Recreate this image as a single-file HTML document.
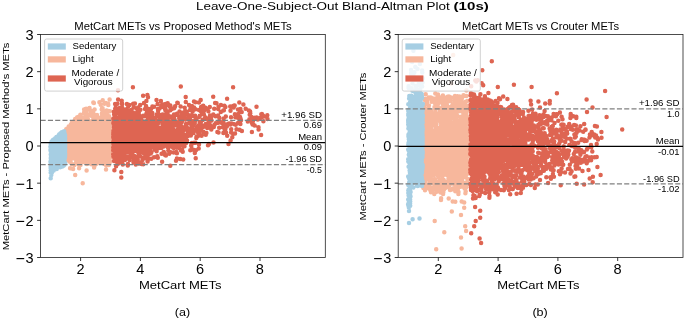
<!DOCTYPE html>
<html><head><meta charset="utf-8"><title>Bland-Altman</title>
<style>html,body{margin:0;padding:0;background:#fff}svg{display:block}</style></head>
<body>
<svg width="685" height="320" viewBox="0 0 685 320" font-family="'Liberation Sans', sans-serif" fill="#000">
<rect width="685" height="320" fill="#fff"/>
<g opacity="0.999">
<text x="195.9" y="10.4" font-size="11.20" textLength="253.9" lengthAdjust="spacingAndGlyphs">Leave-One-Subject-Out Bland-Altman Plot</text>
<text x="453.6" y="10.4" font-size="11.20" textLength="35.2" lengthAdjust="spacingAndGlyphs" font-weight="bold">(10s)</text>
<clipPath id="c0"><rect x="40.6" y="34.5" width="284.7" height="223.0"/></clipPath>
<g clip-path="url(#c0)">
<path d="M100.7 146.0h0M87.2 136.0h0M93.2 143.5h0M94.5 141.2h0M66.5 142.6h0M76.7 146.5h0M110.4 153.8h0M80.5 164.9h0M108.1 138.2h0M87.7 128.4h0M75.6 149.3h0M65.8 135.1h0M75.4 144.1h0M80.1 137.4h0M85.4 115.5h0M85.7 118.9h0M90.2 141.3h0M86.9 164.1h0M67.1 138.1h0M77.6 131.6h0M108.8 165.1h0M66.9 133.7h0M98.6 140.6h0M87.0 138.2h0M97.4 136.6h0M80.6 144.4h0M82.3 151.1h0M88.8 144.7h0M106.4 144.6h0M80.4 118.0h0M67.4 145.2h0M105.2 144.4h0M79.7 137.0h0M71.0 134.6h0M92.4 147.3h0M103.5 150.4h0M92.5 120.8h0M83.8 156.0h0M77.6 158.1h0M66.4 148.6h0M109.0 111.4h0M86.2 134.8h0M71.7 143.8h0M105.3 156.6h0M109.8 138.1h0M102.2 134.3h0M77.0 140.4h0M74.2 145.3h0M89.2 134.5h0M91.8 140.9h0M105.0 151.7h0M109.0 139.4h0M106.5 153.4h0M81.0 130.6h0M91.9 135.6h0M71.2 150.4h0M88.9 138.2h0M68.8 127.7h0M70.6 162.0h0M71.1 141.8h0M79.2 123.7h0M79.5 156.1h0M97.3 142.1h0M69.1 154.8h0M70.6 141.1h0M95.1 164.7h0M95.8 156.8h0M97.5 145.8h0M97.9 139.0h0M95.4 136.5h0M90.4 136.1h0M98.9 129.1h0M69.3 133.3h0M75.1 132.9h0M98.9 150.3h0M74.3 142.0h0M89.5 108.0h0M77.3 117.3h0M85.0 131.9h0M103.1 132.8h0M95.3 130.3h0M85.6 144.5h0M77.9 120.4h0M101.8 144.2h0M95.1 141.2h0M104.6 111.3h0M96.7 136.7h0M109.6 157.9h0M95.4 147.0h0M106.0 141.3h0M90.3 144.0h0M97.5 138.6h0M103.4 148.2h0M69.7 141.4h0M86.9 152.5h0M68.2 154.6h0M101.0 134.3h0M97.7 153.6h0M107.6 133.3h0M82.3 144.6h0M86.7 143.5h0M106.5 128.3h0M84.1 109.5h0M103.1 159.8h0M84.6 135.2h0M78.1 137.6h0M75.2 144.5h0M85.0 154.7h0M72.9 139.6h0M102.8 143.5h0M109.4 119.8h0M70.0 144.9h0M107.5 146.6h0M69.0 148.8h0M96.2 126.8h0M79.3 141.8h0M74.5 138.7h0M76.7 143.0h0M96.6 152.8h0M66.5 144.2h0M104.4 150.3h0M91.1 156.2h0M76.2 143.4h0M75.0 122.0h0M95.0 123.7h0M93.9 141.0h0M79.9 131.5h0M80.6 135.1h0M86.4 126.3h0M106.5 137.1h0M89.8 145.3h0M103.3 144.4h0M94.4 128.6h0M90.9 113.4h0M87.6 146.8h0M96.2 161.6h0M87.7 132.0h0M98.2 141.2h0M73.8 138.9h0M80.1 127.6h0M104.8 139.7h0M83.4 154.1h0M103.5 160.7h0M107.7 140.9h0M91.6 152.4h0M70.2 137.4h0M99.6 153.6h0M95.5 144.0h0M78.7 155.6h0M104.4 144.1h0M87.3 145.0h0M68.2 134.2h0M68.7 126.4h0M75.9 142.3h0M93.0 149.3h0M102.2 120.1h0M70.1 136.6h0M66.7 134.0h0M93.6 134.0h0M84.0 125.3h0M85.5 129.9h0M102.5 133.3h0M106.9 132.4h0M109.0 130.9h0M100.6 146.6h0M65.8 141.4h0M72.4 139.4h0M92.0 140.1h0M108.5 137.1h0M69.3 140.1h0M88.7 144.8h0M83.4 157.2h0M83.9 131.6h0M77.7 134.2h0M77.8 149.4h0M76.3 135.2h0M70.3 136.2h0M90.5 139.6h0M85.7 159.4h0M97.6 152.8h0M94.4 146.6h0M108.4 123.6h0M80.9 149.2h0M105.2 143.9h0M82.9 151.9h0M95.3 145.4h0M101.8 136.8h0M83.4 161.9h0M94.0 133.4h0M70.6 140.0h0M89.5 146.6h0M69.9 130.3h0M75.7 130.2h0M93.6 162.1h0M109.3 142.1h0M110.5 128.8h0M77.3 147.3h0M72.2 143.6h0M88.9 130.4h0M85.4 143.1h0M82.7 152.8h0M100.1 147.5h0M97.5 154.1h0M90.8 134.6h0M93.5 158.2h0M91.7 129.9h0M96.0 157.4h0M107.3 139.9h0M108.1 155.6h0M109.6 143.6h0M104.2 129.7h0M70.3 128.7h0M85.9 126.8h0M100.7 141.3h0M78.9 139.2h0M92.9 137.9h0M68.1 129.1h0M74.8 144.5h0M83.6 128.9h0M68.8 136.9h0M84.7 128.4h0M76.0 135.4h0M104.3 133.3h0M79.9 147.9h0M82.7 144.7h0M101.6 153.8h0M90.8 143.4h0M67.9 142.2h0M75.4 131.6h0M93.0 153.4h0M74.6 132.3h0M76.8 141.6h0M93.6 127.2h0M87.8 129.5h0M90.7 110.7h0M94.1 125.0h0M77.9 132.3h0M79.5 149.9h0M105.1 119.0h0M68.0 138.0h0M81.2 159.7h0M74.4 138.3h0M96.8 147.1h0M102.0 148.1h0M68.2 133.0h0M104.4 103.8h0M96.9 136.8h0M75.4 134.6h0M106.7 140.9h0M78.8 147.9h0M101.0 137.7h0M86.1 138.4h0M88.3 131.1h0M105.9 142.7h0M103.2 114.1h0M90.2 157.5h0M68.0 134.3h0M84.9 134.7h0M82.5 137.6h0M110.3 152.0h0M96.2 152.2h0M83.8 142.8h0M82.0 139.3h0M100.1 153.0h0M69.9 151.5h0M102.3 134.6h0M95.7 129.6h0M85.2 146.2h0M97.5 147.7h0M83.5 148.0h0M72.1 139.5h0M84.3 135.3h0M68.0 141.1h0M69.6 129.9h0M85.3 116.5h0M102.7 117.3h0M74.8 155.3h0M88.1 141.3h0M109.6 144.6h0M102.8 144.0h0M106.1 153.1h0M95.9 144.5h0M92.1 151.7h0M91.7 136.9h0M92.6 121.3h0M86.5 155.2h0M81.8 158.2h0M76.4 145.5h0M68.6 133.7h0M82.2 135.3h0M100.2 141.1h0M73.0 145.6h0M102.2 148.2h0M67.5 144.0h0M107.4 153.2h0M94.9 145.0h0M90.6 147.4h0M84.2 112.1h0M102.7 133.1h0M66.0 142.5h0M66.4 141.0h0M89.0 141.7h0M79.0 138.5h0M83.7 144.7h0M89.7 140.7h0M67.6 129.8h0M109.7 131.8h0M96.0 137.2h0M70.1 126.6h0M98.8 138.1h0M89.6 150.7h0M96.5 158.7h0M98.7 147.7h0M110.1 141.1h0M71.0 136.3h0M110.3 129.2h0M87.0 132.6h0M74.7 120.4h0M82.4 132.4h0M82.0 128.2h0M105.8 145.5h0M89.2 136.9h0M97.7 137.1h0M88.0 141.0h0M102.2 162.2h0M104.4 133.7h0M105.7 139.2h0M66.0 145.3h0M87.0 153.5h0M71.1 141.5h0M89.4 141.6h0M69.7 129.0h0M105.4 153.1h0M73.9 125.4h0M95.6 140.1h0M95.0 128.1h0M80.0 150.6h0M75.3 136.9h0M106.7 127.7h0M67.4 139.3h0M77.0 155.8h0M80.3 143.9h0M91.9 134.9h0M82.2 155.1h0M70.6 155.5h0M91.2 138.0h0M98.1 126.6h0M97.3 136.4h0M87.6 152.7h0M79.4 159.6h0M66.1 148.6h0M89.5 124.9h0M93.8 149.5h0M85.4 140.5h0M108.7 137.9h0M74.7 150.4h0M102.2 129.1h0M97.9 138.6h0M106.0 135.8h0M107.1 158.0h0M76.3 158.7h0M83.7 142.4h0M96.1 142.8h0M108.4 132.9h0M92.4 125.0h0M91.8 143.1h0M68.8 143.3h0M92.4 135.8h0M76.5 124.5h0M83.1 149.0h0M82.6 133.9h0M109.3 143.0h0M94.3 143.9h0M98.2 131.9h0M73.4 148.7h0M79.3 151.6h0M105.0 133.5h0M71.0 140.7h0M108.4 143.2h0M84.8 141.8h0M83.1 135.3h0M88.7 144.3h0M85.5 132.5h0M86.8 136.1h0M84.7 125.0h0M97.1 127.2h0M78.0 131.5h0M73.1 142.5h0M85.1 139.2h0M69.6 146.6h0M85.7 110.7h0M87.8 142.7h0M100.8 134.6h0M70.5 126.3h0M83.4 154.6h0M100.7 104.8h0M80.8 144.5h0M103.2 150.8h0M97.9 153.6h0M67.5 145.8h0M82.9 126.9h0M100.0 132.9h0M89.3 140.0h0M95.8 140.1h0M110.1 157.7h0M95.9 121.8h0M90.1 136.0h0M103.6 151.7h0M84.9 138.2h0M66.1 142.4h0M77.9 145.8h0M92.3 150.7h0M108.2 147.4h0M92.9 150.2h0M78.4 135.6h0M110.2 136.6h0M83.6 137.0h0M75.9 142.3h0M90.4 144.6h0M81.1 119.1h0M70.7 159.8h0M97.6 127.9h0M96.7 136.7h0M109.3 139.7h0M71.8 145.7h0M106.5 142.6h0M101.4 152.7h0M77.0 154.8h0M87.1 141.5h0M93.9 157.6h0M79.8 131.6h0M70.5 128.8h0M73.0 156.5h0M87.7 137.5h0M85.3 138.2h0M106.2 139.2h0M90.7 136.0h0M84.7 132.6h0M109.5 131.3h0M81.5 121.7h0M98.2 140.1h0M76.1 131.4h0M99.6 157.2h0M99.3 141.7h0M102.8 111.1h0M87.4 125.8h0M94.0 134.7h0M106.5 153.9h0M79.5 141.5h0M66.6 140.0h0M73.9 138.3h0M107.5 129.0h0M65.9 130.4h0M70.1 126.1h0M105.6 145.5h0M82.8 146.1h0M96.7 126.3h0M97.3 143.1h0M85.1 154.6h0M98.5 154.1h0M86.3 139.7h0M90.0 130.9h0M79.4 124.7h0M65.7 142.1h0M92.3 145.2h0M77.6 123.4h0M78.0 145.1h0M105.1 125.1h0M81.9 137.9h0M70.2 137.8h0M93.9 103.1h0M89.8 137.2h0M68.2 145.1h0M81.3 147.4h0M93.1 141.7h0M78.2 147.1h0M109.9 111.3h0M101.5 139.4h0M88.3 143.0h0M106.7 142.4h0M67.2 142.7h0M75.7 122.2h0M106.7 110.4h0M88.5 146.5h0M73.3 143.4h0M91.2 133.4h0M98.4 142.4h0M92.7 141.9h0M67.7 143.0h0M67.3 138.6h0M83.9 136.2h0M66.4 135.7h0M69.4 157.3h0M94.5 151.4h0M69.5 132.0h0M105.0 128.8h0M82.2 126.8h0M105.3 138.8h0M93.0 130.5h0M93.5 140.7h0M84.7 113.1h0M95.8 156.3h0M76.6 148.4h0M77.2 146.5h0M74.8 123.1h0M83.0 145.2h0M99.1 148.6h0M80.5 137.4h0M82.1 148.3h0M106.4 158.2h0M74.9 148.1h0M105.4 143.6h0M78.0 141.8h0M80.5 120.6h0M105.2 142.1h0M80.1 135.3h0M110.4 150.0h0M102.5 131.1h0M103.6 157.7h0M75.8 139.7h0M75.4 136.3h0M99.4 148.6h0M102.7 156.9h0M74.9 147.3h0M76.6 132.2h0M71.8 132.4h0M84.5 140.4h0M88.2 140.4h0M93.8 130.1h0M68.1 136.4h0M74.3 150.0h0M77.8 134.6h0M74.0 138.2h0M107.6 138.4h0M82.4 141.9h0M71.9 141.6h0M95.5 150.0h0M109.3 155.2h0M101.3 128.7h0M94.7 146.9h0M82.6 138.0h0M83.7 155.9h0M79.2 138.7h0M101.8 148.9h0M101.7 109.6h0M87.6 150.9h0M104.3 150.3h0M94.9 130.6h0M96.4 128.6h0M77.7 162.2h0M76.5 137.7h0M75.9 131.2h0M106.6 153.0h0M101.5 135.7h0M106.0 145.8h0M102.5 150.7h0M101.8 144.0h0M85.2 145.1h0M100.0 154.7h0M95.1 145.1h0M109.0 131.5h0M105.1 141.1h0M73.0 126.6h0M100.1 143.1h0M102.6 108.3h0M67.5 139.4h0M91.0 138.6h0M84.5 142.5h0M93.4 113.2h0M105.4 123.0h0M98.1 117.7h0M75.1 146.0h0M90.5 143.9h0M90.8 134.5h0M71.6 134.6h0M81.8 119.2h0M73.6 137.7h0M76.3 142.2h0M96.0 143.3h0M108.8 138.7h0M86.2 160.7h0M94.6 137.5h0M99.8 138.9h0M95.8 155.1h0M95.1 141.3h0M104.7 144.4h0M72.9 134.2h0M73.7 142.7h0M88.5 148.7h0M92.0 149.9h0M99.5 144.5h0M78.8 126.9h0M108.0 131.9h0M93.8 134.9h0M103.5 130.1h0M87.0 110.0h0M68.8 147.5h0M66.2 135.9h0M94.4 149.8h0M84.8 156.5h0M85.4 127.0h0M80.3 159.2h0M73.6 134.8h0M86.9 156.1h0M77.1 140.6h0M105.7 142.4h0M73.7 144.9h0M109.1 162.9h0M104.2 141.5h0M82.9 140.7h0M100.3 149.6h0M91.7 141.0h0M86.5 139.0h0M102.1 147.7h0M102.9 137.7h0M74.7 152.2h0M106.3 136.4h0M67.1 133.8h0M87.3 131.0h0M79.2 135.9h0M84.6 125.8h0M87.1 150.5h0M86.7 129.3h0M106.4 145.9h0M106.8 146.7h0M81.2 129.1h0M78.5 137.9h0M95.0 126.7h0M74.5 155.2h0M83.6 137.5h0M97.9 145.7h0M65.9 143.1h0M100.3 159.9h0M98.6 130.7h0M83.0 138.1h0M76.8 150.4h0M89.9 154.1h0M78.9 149.2h0M102.5 125.9h0M92.1 141.3h0M79.4 143.7h0M101.9 113.4h0M92.9 140.1h0M71.6 137.9h0M84.2 132.6h0M87.6 136.8h0M108.0 131.2h0M80.0 152.4h0M85.8 139.6h0M109.5 143.8h0M84.8 139.1h0M102.7 140.6h0M70.0 146.7h0M83.3 143.8h0M73.9 130.5h0M105.3 145.8h0M90.4 152.9h0M75.5 134.1h0M69.8 130.2h0M84.5 142.9h0M70.0 138.8h0M87.4 148.7h0M98.3 142.2h0M79.6 128.8h0M73.2 131.9h0M81.9 138.6h0M73.1 142.9h0M103.5 156.7h0M70.0 136.9h0M98.9 135.4h0M80.6 129.3h0M98.3 119.5h0M100.2 136.2h0M71.7 130.3h0M99.6 151.5h0M108.1 127.8h0M91.1 131.2h0M94.6 126.2h0M80.1 133.2h0M73.5 135.4h0M99.0 125.0h0M102.4 146.8h0M74.9 133.5h0M70.7 129.0h0M81.4 148.0h0M93.7 151.8h0M82.0 135.6h0M108.9 138.8h0M101.1 133.8h0M106.7 118.4h0M92.5 121.9h0M99.5 136.6h0M108.3 128.5h0M67.2 143.6h0M91.4 142.9h0M74.0 151.4h0M101.3 131.7h0M76.1 120.1h0M98.9 153.8h0M80.6 132.2h0M94.9 130.8h0M96.1 145.6h0M106.4 114.5h0M104.8 150.5h0M85.3 147.9h0M96.6 138.2h0M73.8 133.3h0M70.0 138.7h0M97.7 131.2h0M106.3 137.8h0M99.1 151.8h0M88.8 125.2h0M93.9 127.9h0M98.4 147.1h0M91.2 121.9h0M81.9 135.1h0M103.8 138.5h0M82.2 120.4h0M106.2 165.2h0M101.5 156.1h0M101.2 132.6h0M103.0 117.5h0M109.9 149.4h0M110.0 124.5h0M88.1 124.4h0M82.6 152.8h0M98.5 146.5h0M109.1 131.2h0M93.9 128.3h0M66.8 160.1h0M67.4 137.3h0M86.5 143.7h0M101.0 157.5h0M105.5 141.5h0M82.5 156.0h0M88.8 145.2h0M88.7 123.4h0M69.9 134.6h0M65.7 131.8h0M89.1 133.7h0M88.3 128.3h0M104.4 129.9h0M73.8 151.6h0M103.9 143.4h0M77.8 131.1h0M89.8 121.6h0M97.4 144.2h0M72.2 127.5h0M108.1 124.1h0M108.6 145.9h0M109.2 148.0h0M65.8 133.8h0M94.5 136.9h0M95.7 146.5h0M105.1 133.6h0M71.2 138.8h0M102.0 109.8h0M77.4 125.9h0M68.6 131.4h0M69.8 129.3h0M94.6 109.6h0M89.7 128.5h0M99.2 146.9h0M101.8 136.4h0M65.8 138.9h0M107.5 145.4h0M105.1 137.0h0M107.5 137.1h0M100.1 140.2h0M82.9 144.6h0M76.8 131.2h0M106.6 155.8h0M84.5 131.2h0M87.5 139.5h0M97.0 136.8h0M96.5 163.8h0M96.8 122.5h0M93.6 157.2h0M88.5 148.4h0M100.1 123.5h0M83.4 145.8h0M77.4 143.8h0M106.4 162.3h0M103.6 144.1h0M97.9 137.5h0M73.2 132.7h0M67.7 142.5h0M107.0 137.4h0M107.9 135.1h0M77.9 146.5h0M93.9 147.2h0M83.3 148.3h0M97.2 127.0h0M81.8 138.9h0M101.8 124.6h0M106.6 146.1h0M71.8 134.3h0M96.5 131.7h0M82.5 141.9h0M73.5 136.4h0M81.3 147.4h0M87.3 140.4h0M105.8 143.7h0M100.0 131.8h0M65.9 140.5h0M110.2 143.4h0M90.6 131.1h0M93.0 148.8h0M81.5 138.1h0M102.9 135.5h0M90.6 131.0h0M92.2 147.4h0M76.8 143.6h0M100.5 129.3h0M75.3 154.2h0M71.8 135.8h0M92.4 138.7h0M103.0 144.7h0M78.8 138.7h0M79.2 150.6h0M72.3 137.3h0M92.7 152.0h0M100.2 152.6h0M71.3 125.3h0M89.7 146.7h0M89.9 161.2h0M70.4 129.6h0M89.4 121.5h0M109.9 130.1h0M69.7 136.0h0M81.1 122.0h0M93.4 140.9h0M83.8 133.5h0M66.5 149.9h0M104.5 137.9h0M76.4 123.9h0M84.1 134.4h0M106.4 137.9h0M109.1 159.8h0M106.7 143.4h0M84.1 152.8h0M99.0 131.6h0M103.7 147.1h0M74.5 135.9h0M109.1 149.8h0M95.1 151.6h0M76.4 138.2h0M71.8 137.4h0M107.9 148.5h0M71.4 126.2h0M106.6 129.4h0M73.1 130.6h0M75.1 137.3h0M110.0 161.4h0M104.3 138.8h0M79.1 118.1h0M108.4 132.7h0M99.3 134.6h0M77.5 151.7h0M88.5 122.9h0M72.9 142.0h0M83.9 157.6h0M66.8 147.1h0M96.2 123.8h0M92.3 126.7h0M77.8 133.9h0M66.2 148.7h0M107.8 129.9h0M80.3 131.2h0M82.8 147.5h0M83.7 129.1h0M89.6 129.9h0M80.2 154.9h0M76.9 156.3h0M100.9 146.9h0M78.2 138.7h0M80.5 134.9h0M87.7 141.8h0M77.9 140.2h0M98.2 140.7h0M69.4 138.6h0M80.1 133.5h0M84.5 134.4h0M77.2 140.1h0M103.3 136.8h0M81.5 144.2h0M84.5 131.3h0M86.7 144.7h0M102.9 122.6h0M75.5 139.8h0M102.8 136.7h0M108.2 147.3h0M77.6 143.1h0M73.2 137.8h0M101.0 139.3h0M79.7 145.9h0M75.8 151.5h0M69.2 139.1h0M93.2 137.9h0M107.7 133.8h0M105.2 126.6h0M92.1 142.7h0M85.3 160.1h0M109.4 141.0h0M95.3 158.6h0M108.5 152.8h0M96.5 128.8h0M96.9 133.6h0M97.1 146.2h0M71.3 146.1h0M77.0 140.4h0M68.6 157.6h0M107.5 134.5h0M110.3 143.1h0M92.8 126.7h0M72.6 150.4h0M71.2 129.1h0M85.7 146.5h0M83.2 128.9h0M74.4 149.6h0M69.7 131.9h0M94.7 144.0h0M101.2 148.0h0M68.5 141.0h0M79.5 134.5h0M79.1 135.3h0M90.0 123.1h0M92.8 131.0h0M104.5 143.6h0M83.2 160.1h0M79.3 143.4h0M100.0 133.0h0M103.4 112.6h0M105.0 151.7h0M73.2 138.0h0M74.5 142.5h0M86.4 123.1h0M109.0 136.1h0M93.5 133.9h0M93.6 121.3h0M80.3 144.7h0M110.1 139.5h0M73.8 149.7h0M90.7 136.8h0M95.9 128.7h0M102.0 125.3h0M102.1 139.8h0M83.0 146.8h0M77.8 147.4h0M109.6 153.9h0M90.4 138.2h0M78.3 125.3h0M71.9 164.0h0M101.7 162.0h0M103.7 124.9h0M91.2 115.7h0M82.9 136.0h0M95.2 152.5h0M109.6 131.3h0M91.6 131.3h0M101.0 137.7h0M105.2 130.8h0M99.6 138.9h0M87.5 133.6h0M96.9 128.0h0M102.9 146.2h0M108.8 147.7h0M72.5 141.9h0M70.7 141.8h0M94.2 138.6h0M102.7 145.7h0M93.2 139.0h0M77.6 125.2h0M110.5 139.3h0M81.9 133.0h0M69.3 151.8h0M100.8 122.9h0M79.1 135.7h0M84.4 120.0h0M71.5 133.0h0M80.5 128.1h0M71.6 131.7h0M77.2 133.9h0M91.6 141.2h0M79.1 156.4h0M95.6 137.1h0M106.1 142.6h0M91.5 142.6h0M108.7 158.6h0M74.5 138.7h0M81.2 126.7h0M89.3 129.3h0M93.4 126.4h0M81.0 152.5h0M85.4 149.3h0M93.8 132.8h0M86.2 142.3h0M78.4 121.5h0M84.1 136.9h0M82.9 137.2h0M78.7 122.9h0M92.6 142.1h0M88.6 138.0h0M84.1 146.2h0M97.5 139.6h0M102.1 144.2h0M94.8 136.5h0M81.0 153.9h0M107.7 154.7h0M70.3 134.4h0M101.8 136.8h0M84.5 149.2h0M83.4 141.5h0M103.5 150.1h0M95.0 117.9h0M109.3 155.4h0M105.0 121.3h0M70.9 147.7h0M88.2 134.8h0M100.1 141.9h0M69.4 143.1h0M90.0 129.4h0M110.2 130.7h0M76.4 142.2h0M70.9 148.6h0M78.6 117.6h0M81.1 124.5h0M78.5 137.7h0M85.0 142.2h0M103.0 136.1h0M88.9 138.3h0M92.1 126.7h0M70.5 149.2h0M68.6 138.9h0M108.3 120.0h0M81.2 125.5h0M108.1 120.4h0M80.7 140.1h0M94.3 133.5h0M95.3 124.5h0M69.7 142.2h0M68.8 148.8h0M85.5 128.3h0M78.9 141.3h0M74.4 123.9h0M79.7 136.7h0M86.1 157.6h0M79.6 135.5h0M80.7 139.7h0M87.4 119.5h0M96.3 139.3h0M67.5 141.3h0M110.4 134.6h0M85.0 136.6h0M107.0 153.8h0M66.0 137.9h0M68.2 142.5h0M106.6 114.1h0M84.1 117.1h0M103.6 149.1h0M96.8 147.9h0M69.6 145.9h0M81.9 146.3h0M80.5 138.5h0M86.0 127.8h0M99.5 152.6h0M69.4 155.1h0M107.2 119.9h0M87.0 127.6h0M82.1 125.3h0M96.9 155.1h0M78.1 156.1h0M97.6 137.7h0M84.3 127.7h0M87.1 114.1h0M74.1 137.1h0M74.8 132.0h0M104.3 135.7h0M91.5 144.8h0M84.6 119.2h0M100.4 139.1h0M106.6 150.6h0M72.8 143.9h0M110.4 155.1h0M66.3 138.9h0M93.2 127.7h0M77.5 152.2h0M77.0 127.3h0M87.8 122.3h0M92.7 135.1h0M85.2 151.1h0M97.7 148.0h0M108.3 142.6h0M73.2 152.4h0M93.0 141.8h0M84.1 140.9h0M79.8 132.8h0M88.3 151.6h0M96.9 119.6h0M106.4 128.0h0M107.8 129.8h0M102.4 145.8h0M81.2 121.0h0M105.3 142.6h0M97.5 120.2h0M73.5 127.9h0M108.4 148.4h0M76.7 143.8h0M96.2 119.6h0M96.8 128.6h0M106.4 140.7h0M95.5 136.9h0M109.7 137.0h0M68.3 147.1h0M67.3 141.1h0M74.4 145.9h0M91.5 143.5h0M84.7 134.2h0M69.4 149.0h0M91.6 137.9h0M83.7 131.1h0M99.9 129.8h0M86.6 126.1h0M105.0 132.5h0M99.7 131.7h0M87.8 140.9h0M81.7 133.1h0M75.2 148.4h0M78.7 141.6h0M81.6 131.3h0M81.9 139.6h0M73.7 134.4h0M86.9 150.1h0M70.7 124.8h0M104.6 145.1h0M90.3 134.9h0M69.9 139.3h0M80.4 129.3h0M77.1 143.1h0M87.2 158.9h0M73.9 142.3h0M72.5 151.5h0M97.1 133.5h0M84.9 124.0h0M95.8 162.3h0M86.7 152.5h0M88.3 135.8h0M79.6 126.2h0M84.8 135.9h0M87.2 135.7h0M81.0 133.8h0M102.7 133.1h0M76.7 121.9h0M75.5 132.7h0M81.1 152.0h0M100.9 144.0h0M103.7 136.9h0M91.0 137.3h0M81.8 141.8h0M94.7 144.6h0M102.7 127.0h0M76.5 131.8h0M95.6 143.1h0M97.5 150.5h0M83.2 146.5h0M72.1 138.7h0M92.9 117.0h0M75.1 136.4h0M82.2 123.6h0M90.1 133.9h0M108.8 161.5h0M72.2 135.1h0M69.0 148.0h0M89.8 153.2h0M107.9 150.3h0M94.4 155.6h0M66.9 138.5h0M90.4 127.0h0M71.0 132.1h0M95.2 157.0h0M81.8 140.2h0M95.0 144.5h0M77.2 141.1h0M69.0 131.2h0M73.8 145.1h0M77.9 142.4h0M73.0 123.8h0M74.5 158.4h0M90.1 143.0h0M85.3 134.2h0M102.7 100.3h0M88.0 145.7h0M89.8 152.9h0M97.5 137.5h0M103.9 145.6h0M91.9 130.9h0M67.3 128.4h0M86.2 138.6h0M67.1 143.1h0M92.8 136.4h0M68.6 138.5h0M89.9 151.9h0M72.4 127.9h0M104.0 136.7h0M69.9 130.8h0M95.2 153.4h0M97.2 129.9h0M78.0 117.0h0M92.2 132.7h0M80.4 154.3h0M77.3 138.7h0M77.3 139.7h0M66.4 136.8h0M95.8 141.6h0M74.5 144.0h0M69.5 136.7h0M101.7 146.4h0M89.4 138.1h0M86.6 128.7h0M91.8 144.3h0M101.9 132.1h0M93.6 148.4h0M88.7 143.0h0M79.7 141.6h0M88.8 126.1h0M109.9 147.2h0M91.2 126.4h0M87.1 154.5h0M105.5 140.8h0M68.1 129.6h0M101.1 149.8h0M107.9 152.0h0M67.9 129.9h0M66.1 147.4h0M91.5 144.6h0M71.8 131.5h0M90.8 114.8h0M95.4 122.9h0M66.3 133.1h0M104.7 153.6h0M77.0 135.8h0M90.5 138.6h0M81.5 140.2h0M81.0 125.1h0M83.7 157.3h0M65.8 135.8h0M84.9 137.9h0M77.5 147.1h0M81.7 121.0h0M73.0 152.5h0M80.7 138.9h0M97.0 115.0h0M109.8 162.3h0M74.5 154.2h0M104.5 149.4h0M93.2 130.9h0M70.2 129.2h0M66.3 132.9h0M105.3 136.7h0M76.1 162.4h0M70.4 136.9h0M95.1 144.6h0M97.3 128.0h0M105.8 125.0h0M88.1 115.7h0M79.6 131.7h0M79.9 130.6h0M74.8 150.1h0M94.1 138.4h0M107.9 138.7h0M69.4 129.8h0M83.0 151.8h0M81.4 141.5h0M69.2 147.9h0M92.3 144.2h0M109.7 134.4h0M78.1 145.2h0M98.3 136.9h0M106.0 149.8h0M77.8 124.5h0M106.9 146.0h0M99.2 128.6h0M94.6 116.7h0M74.4 165.0h0M78.1 149.7h0M105.8 103.0h0M101.9 108.8h0M69.5 135.3h0M89.5 147.0h0M75.2 133.3h0M100.0 152.1h0M91.4 130.4h0M98.3 159.3h0M82.4 137.5h0M91.5 148.8h0M106.5 116.0h0M82.3 128.2h0M74.1 127.3h0M78.4 143.8h0M76.8 132.7h0M72.6 133.9h0M81.1 156.8h0M76.8 133.0h0M88.5 141.3h0M105.8 125.7h0M108.5 125.5h0M72.8 146.1h0M91.2 145.7h0M95.9 137.3h0M72.5 132.4h0M89.5 143.7h0M74.6 140.5h0M82.0 132.8h0M80.2 134.8h0M102.2 127.0h0M76.1 136.8h0M89.9 148.7h0M91.9 158.1h0M80.4 130.7h0M107.3 142.9h0M80.5 143.0h0M80.3 142.4h0M96.7 156.0h0M87.5 143.5h0M72.5 143.6h0M72.3 148.9h0M98.7 119.8h0M83.1 134.6h0M104.1 141.6h0M76.1 137.6h0M76.4 131.6h0M104.4 147.4h0M81.9 141.8h0M70.6 143.1h0M100.2 138.6h0M77.6 160.3h0M90.6 130.9h0M103.1 111.8h0M93.0 149.6h0M99.4 102.2h0M109.5 140.0h0M79.1 128.7h0M104.9 145.4h0M90.4 142.3h0M74.7 152.5h0M71.6 150.7h0M80.4 162.3h0M71.8 127.2h0M100.3 151.7h0M90.7 135.4h0M67.6 135.9h0M105.0 146.3h0M92.4 138.9h0M85.5 140.4h0M72.0 144.7h0M86.7 138.9h0M106.8 138.9h0M91.9 150.3h0M86.2 153.3h0M92.9 148.5h0M90.3 138.1h0M93.6 124.6h0M74.6 123.7h0M72.3 136.0h0M66.2 129.3h0M103.0 138.1h0M77.1 138.1h0M91.9 135.2h0M88.1 142.5h0M106.1 139.5h0M75.2 119.1h0M70.8 152.3h0M72.8 139.4h0M88.0 145.8h0M78.7 129.1h0M86.1 108.8h0M96.5 142.8h0M95.5 132.8h0M66.5 132.8h0M90.1 157.6h0M106.3 142.1h0M107.5 140.2h0M91.3 164.3h0M109.7 132.2h0M76.2 134.7h0M79.0 136.9h0M85.7 150.9h0M88.5 147.1h0M102.4 146.3h0M85.7 134.3h0M67.8 150.1h0M97.0 123.7h0M75.6 135.4h0M105.2 163.0h0M75.2 121.3h0M78.9 137.8h0M71.8 145.4h0M79.2 138.4h0M92.6 159.2h0M77.6 137.5h0M91.9 150.6h0M98.6 124.9h0M70.5 125.9h0M84.7 143.2h0M68.7 150.0h0M66.4 129.5h0M82.4 140.1h0M78.5 137.3h0M104.9 132.8h0M66.3 151.2h0M94.6 131.0h0M98.6 162.4h0M84.4 123.7h0M88.1 119.7h0M76.7 146.4h0M77.0 146.8h0M68.0 131.7h0M106.3 131.5h0M71.8 133.7h0M98.1 134.5h0M86.2 140.4h0M88.6 160.3h0M78.9 164.6h0M72.9 164.5h0M101.5 140.1h0M71.2 142.1h0M78.9 141.1h0M99.4 137.2h0M79.0 142.2h0M108.3 105.1h0M73.5 155.9h0M89.3 160.2h0M89.8 126.5h0M88.1 129.8h0M100.4 154.3h0M67.7 142.6h0M90.1 134.9h0M101.1 122.4h0M90.2 137.8h0M85.4 127.1h0M83.8 158.6h0M89.8 147.7h0M93.7 140.1h0M97.2 147.5h0M105.9 116.7h0M95.1 130.3h0M110.5 137.6h0M95.5 150.1h0M77.7 130.3h0M72.3 132.8h0M68.8 145.3h0M77.7 144.4h0M71.0 155.6h0M96.3 140.6h0M96.6 130.3h0M93.1 128.8h0M82.8 133.4h0M86.5 125.6h0M77.3 146.1h0M106.9 144.8h0M80.0 134.8h0M91.3 148.4h0M73.8 134.3h0M104.0 130.7h0M82.3 138.6h0M68.5 145.4h0M78.3 135.4h0M92.1 121.4h0M78.3 138.2h0M67.7 147.0h0M91.6 136.1h0M79.3 153.2h0M103.6 137.3h0M96.7 143.0h0M98.0 129.4h0M105.6 125.4h0M102.0 128.4h0M80.4 114.8h0M91.2 142.1h0M77.3 148.8h0M74.7 120.2h0M74.9 140.7h0M70.6 138.3h0M76.4 146.3h0M75.7 133.8h0M95.8 139.0h0M76.9 163.2h0M67.7 142.4h0M84.6 136.2h0M74.7 127.0h0M96.6 146.1h0M75.6 148.5h0M90.6 127.4h0M73.5 146.4h0M87.3 138.7h0M104.5 134.7h0M79.3 131.8h0M89.3 139.7h0M85.3 151.9h0M68.8 128.9h0M66.6 144.5h0M103.4 145.5h0M80.9 118.1h0M96.4 130.3h0M84.2 151.3h0M103.2 145.0h0M74.4 142.5h0M87.3 147.9h0M90.2 160.6h0M101.2 131.2h0M67.0 131.4h0M81.9 137.2h0M87.0 144.2h0M92.1 137.5h0M72.0 132.9h0M90.0 151.1h0M96.8 143.4h0M98.5 145.9h0M75.7 132.3h0M85.4 137.0h0M79.0 153.9h0M83.0 119.1h0M81.9 120.8h0M108.0 150.3h0M66.3 138.2h0M108.2 146.7h0M69.1 140.6h0M74.9 144.6h0M78.5 152.6h0M104.1 142.5h0M103.4 130.9h0M107.6 132.6h0M83.1 154.2h0M93.7 142.5h0M106.0 151.2h0M70.5 138.5h0M102.8 146.6h0M98.5 146.7h0M87.8 140.9h0M106.4 145.3h0M104.9 158.3h0M67.7 134.3h0M88.0 145.5h0M76.5 127.0h0M85.4 134.1h0M81.8 138.0h0M84.0 126.0h0M65.8 143.5h0M86.9 150.6h0M105.8 136.2h0M108.0 143.9h0M87.6 137.6h0M75.1 144.4h0M109.1 126.4h0M86.9 132.4h0M85.2 138.7h0M82.5 144.3h0M105.2 128.2h0M71.5 147.3h0M75.1 144.4h0M78.4 131.9h0M68.4 133.5h0M103.5 118.1h0M87.6 142.3h0M92.6 160.2h0M105.4 132.9h0M87.8 126.4h0M78.0 141.7h0M89.5 123.2h0M88.1 120.8h0M79.1 147.1h0M76.0 145.1h0M81.7 153.4h0M98.6 134.1h0M73.1 132.3h0M110.3 133.5h0M76.2 121.9h0M77.9 148.2h0M71.2 155.4h0M83.2 157.3h0M82.3 154.5h0M96.2 157.0h0M105.8 142.0h0M76.8 135.5h0M102.0 133.3h0M79.5 140.2h0M83.9 147.2h0M71.4 140.1h0M105.7 133.9h0M82.4 143.2h0M97.1 139.5h0M66.8 143.3h0M96.9 145.7h0M75.8 139.7h0M85.9 152.0h0M95.9 128.7h0M73.3 156.8h0M89.3 135.1h0M103.1 154.6h0M73.0 123.8h0M86.6 130.7h0M73.9 148.7h0M72.1 144.9h0M87.6 152.1h0M86.1 140.7h0M94.5 135.6h0M104.1 122.5h0M97.3 154.7h0M80.7 123.2h0M87.5 146.3h0M95.9 131.6h0M103.3 130.6h0M96.3 134.2h0M71.6 142.2h0M104.6 140.1h0M78.3 138.4h0M83.8 127.2h0M105.3 155.8h0M74.9 145.3h0M106.6 153.4h0M75.9 150.4h0M69.6 148.6h0M88.7 128.3h0M101.3 117.1h0M83.7 125.5h0M103.4 152.7h0M83.4 139.3h0M102.2 152.2h0M70.7 135.3h0M78.4 126.4h0M71.1 133.8h0M98.8 130.7h0M86.7 141.6h0M95.1 161.1h0M76.3 161.3h0M98.6 141.1h0M110.2 133.9h0M69.2 126.5h0M79.9 143.8h0M104.6 139.3h0M103.8 137.3h0M104.8 128.7h0M75.8 140.8h0M90.9 151.8h0M69.5 128.5h0M85.0 135.7h0M91.5 136.0h0M77.2 153.7h0M84.6 140.1h0M82.1 158.4h0M69.4 161.5h0M68.7 142.6h0M100.7 144.7h0M65.8 134.0h0M109.9 124.6h0M105.9 140.4h0M109.9 120.9h0M100.9 146.3h0M65.8 131.9h0M70.9 153.6h0M79.9 138.7h0M73.8 143.4h0M68.4 142.3h0M106.8 133.8h0M106.5 160.2h0M100.1 138.8h0M77.0 148.7h0M103.9 138.8h0M102.4 135.9h0M80.2 144.0h0M71.4 144.0h0M71.7 152.4h0M84.0 134.2h0M103.0 147.2h0M69.1 135.3h0M84.9 155.3h0M81.6 125.4h0M105.7 151.0h0M72.5 127.7h0M95.1 144.8h0M94.6 141.6h0M102.5 132.8h0M102.6 140.0h0M103.6 126.5h0M78.8 126.6h0M78.0 132.8h0M77.1 147.5h0M71.0 126.2h0M100.8 139.3h0M67.8 155.8h0M74.2 135.0h0M101.1 127.6h0M100.1 122.0h0M109.3 145.3h0M82.9 139.5h0M67.7 137.6h0M101.9 160.4h0M78.5 134.6h0M100.3 150.7h0M92.5 140.1h0M96.3 157.0h0M90.9 138.1h0M89.5 138.2h0M92.4 132.4h0M71.5 143.2h0M68.5 130.3h0M81.3 141.6h0M90.2 149.9h0M76.8 121.1h0M73.7 147.6h0M85.7 147.0h0M84.0 112.9h0M77.7 153.3h0M107.2 144.8h0M107.9 141.5h0M67.7 145.3h0M87.2 142.7h0M76.3 126.8h0M80.7 135.4h0M66.9 154.3h0M69.2 144.6h0M67.2 132.1h0M71.3 138.7h0M94.8 139.2h0M69.2 140.4h0M105.4 134.4h0M101.6 142.0h0M77.7 141.6h0M96.7 149.2h0M108.3 136.2h0M70.9 150.0h0M90.8 121.6h0M86.5 140.3h0M79.6 142.4h0M78.6 118.3h0M69.5 141.0h0M94.7 139.1h0M74.5 140.6h0M84.6 147.8h0M107.3 149.9h0M81.3 147.5h0M79.8 128.0h0M107.5 146.7h0M91.8 144.4h0M91.2 144.8h0M75.6 132.6h0M94.4 118.9h0M82.7 131.5h0M90.0 134.2h0M83.5 138.8h0M69.3 143.3h0M105.0 134.7h0M96.7 153.6h0M108.6 131.2h0M79.4 137.7h0M78.3 150.7h0M71.7 123.1h0M79.4 131.0h0M80.2 127.7h0M73.9 155.6h0M77.5 142.9h0M78.8 145.6h0M104.1 133.4h0M85.7 128.0h0M102.4 160.4h0M67.9 139.8h0M74.1 141.4h0M108.4 129.4h0M67.9 140.5h0M68.8 153.6h0M88.9 142.1h0M78.6 151.1h0M74.4 148.3h0M93.0 139.6h0M93.0 145.2h0M74.1 137.1h0M89.8 156.2h0M86.0 115.3h0M103.6 126.6h0M68.7 132.4h0M76.1 153.8h0M91.0 163.0h0M67.1 149.2h0M103.6 142.5h0M109.1 116.3h0M80.4 126.2h0M100.4 145.6h0M76.8 127.2h0M108.2 127.0h0M75.1 139.9h0M68.7 136.5h0M86.2 147.0h0M67.4 152.6h0M109.6 141.4h0M94.0 129.4h0M91.2 154.5h0M93.7 157.2h0M84.4 134.2h0M97.6 120.7h0M85.0 144.7h0M78.4 132.3h0M79.8 155.5h0M81.5 151.2h0M107.1 143.1h0M77.2 141.4h0M89.9 137.6h0M68.6 128.8h0M90.4 125.9h0M94.6 138.9h0M69.2 143.6h0M109.4 117.9h0M73.0 136.8h0M77.4 126.1h0M98.7 138.6h0M80.8 120.7h0M105.0 149.2h0M76.3 134.4h0M79.7 121.4h0M96.7 126.4h0M104.2 136.5h0M105.3 149.4h0M78.6 147.6h0M89.5 141.7h0M84.1 136.7h0M96.0 142.7h0M75.8 155.5h0M103.3 147.9h0M97.6 134.5h0M73.5 131.2h0M79.7 154.9h0M80.7 143.9h0M107.4 157.9h0M86.1 146.1h0M93.3 102.4h0M107.4 139.4h0M83.4 143.7h0M108.1 103.8h0M78.8 152.9h0M66.2 159.8h0M70.3 140.5h0M96.7 143.0h0M82.8 124.3h0M103.0 157.5h0M89.6 135.4h0M96.4 125.8h0M81.5 160.9h0M92.0 133.1h0M97.0 157.2h0M82.5 134.5h0M87.7 124.4h0M103.5 140.1h0M107.3 137.0h0M81.4 147.4h0M68.7 132.1h0M103.4 128.0h0M85.7 142.0h0M109.1 141.5h0M99.9 135.9h0M82.2 131.3h0M103.8 157.5h0M90.2 139.4h0M97.6 129.4h0M105.3 134.8h0M91.7 129.0h0M108.1 136.7h0M83.5 126.3h0M82.6 150.6h0M94.4 144.4h0M83.8 150.6h0M97.4 139.4h0M89.5 139.0h0M98.9 142.2h0M102.7 152.9h0M91.1 140.9h0M106.7 144.7h0M100.7 133.6h0M104.1 142.9h0M66.3 137.6h0M94.1 159.8h0M80.6 141.9h0M104.8 155.3h0M83.2 129.7h0M99.0 124.8h0M76.7 140.3h0M93.9 135.3h0M106.0 155.4h0M104.3 164.0h0M82.1 146.0h0M87.3 142.8h0M89.7 156.2h0M81.1 139.1h0M87.4 136.7h0M108.9 133.2h0M105.1 123.5h0M79.8 131.4h0M96.3 143.9h0M108.2 138.9h0M81.9 133.6h0M103.7 151.2h0M101.4 125.9h0M105.4 130.4h0M69.4 142.4h0M107.0 110.9h0M109.6 99.5h0M76.5 131.1h0M94.0 130.0h0M92.7 129.6h0M97.4 137.8h0M99.1 132.5h0M104.1 149.7h0M78.8 132.4h0M70.9 156.4h0M102.3 135.5h0M66.8 134.1h0M76.1 156.6h0M76.3 119.6h0M100.4 120.1h0M85.5 128.8h0M103.2 145.6h0M95.6 136.7h0M82.7 183.2h0M75.2 175.0h0M86.6 170.5h0M106.0 169.4h0M70.1 168.3h0M73.1 169.0h0M94.1 167.6h0M79.1 168.3h0" stroke="#f7b79c" stroke-width="4.50" stroke-linecap="round" fill="none"/>
<path d="M59.7 154.4h0M61.9 146.6h0M53.7 147.5h0M63.3 135.4h0M62.6 142.1h0M62.2 153.1h0M57.3 152.4h0M54.9 139.9h0M54.5 139.1h0M57.0 141.0h0M65.1 144.0h0M62.1 163.7h0M59.6 160.0h0M65.0 163.1h0M52.8 156.1h0M57.3 147.2h0M64.0 148.4h0M59.7 145.0h0M58.0 143.9h0M57.8 152.3h0M54.1 146.4h0M53.2 166.2h0M60.6 142.9h0M53.4 156.8h0M55.9 143.8h0M62.7 146.7h0M54.4 164.9h0M63.4 132.8h0M57.9 153.2h0M62.9 138.6h0M59.9 143.8h0M51.8 155.0h0M58.4 143.4h0M63.3 142.6h0M55.7 142.9h0M59.3 162.8h0M55.2 145.7h0M52.6 148.6h0M62.5 165.3h0M59.1 137.5h0M59.8 139.6h0M60.4 157.7h0M56.9 160.7h0M53.9 148.5h0M56.4 142.7h0M64.7 141.1h0M53.6 141.4h0M60.3 155.1h0M54.8 161.3h0M63.3 145.3h0M60.2 154.4h0M52.3 161.6h0M62.9 161.1h0M64.4 151.8h0M58.8 162.0h0M52.6 165.4h0M53.2 143.8h0M64.1 141.1h0M53.1 163.8h0M63.5 154.1h0M59.9 135.1h0M58.8 148.6h0M56.0 149.9h0M53.9 150.0h0M51.0 159.8h0M63.4 161.7h0M57.3 142.0h0M58.5 142.4h0M55.2 162.3h0M61.5 157.7h0M55.9 139.1h0M50.9 153.7h0M64.7 139.2h0M60.1 167.2h0M56.7 149.7h0M58.2 141.1h0M63.3 152.8h0M59.1 149.4h0M60.5 137.1h0M63.9 159.4h0M64.2 131.3h0M61.5 144.2h0M62.4 159.8h0M56.6 154.5h0M59.7 137.6h0M58.0 156.8h0M55.8 146.3h0M53.1 160.3h0M55.5 148.1h0M58.9 166.2h0M55.4 144.9h0M54.4 157.8h0M64.5 148.0h0M57.0 147.3h0M58.1 146.5h0M63.7 131.6h0M61.4 155.3h0M59.0 150.0h0M63.4 160.8h0M56.5 149.3h0M64.1 161.7h0M51.4 144.6h0M58.1 154.9h0M64.5 143.3h0M54.1 156.7h0M62.3 159.7h0M60.4 160.7h0M64.8 140.3h0M55.3 154.5h0M56.3 137.6h0M53.4 150.0h0M53.6 142.5h0M64.0 142.7h0M62.8 138.8h0M52.1 152.9h0M59.3 150.8h0M57.5 166.5h0M59.2 151.3h0M60.2 162.9h0M54.9 147.7h0M64.6 157.4h0M57.3 144.8h0M59.7 140.6h0M59.8 162.9h0M53.1 155.7h0M51.3 157.2h0M56.5 137.1h0M62.5 135.9h0M61.2 150.2h0M63.9 164.0h0M63.4 153.8h0M50.8 158.3h0M50.7 144.0h0M54.1 148.6h0M54.1 144.8h0M53.2 163.6h0M58.8 154.1h0M59.1 143.4h0M60.4 145.1h0M55.0 154.5h0M64.3 142.9h0M62.4 160.9h0M59.4 157.2h0M58.9 146.7h0M51.0 158.4h0M62.3 150.1h0M64.6 152.1h0M63.0 151.8h0M55.4 138.2h0M55.1 152.9h0M52.1 156.8h0M59.7 142.6h0M62.2 147.2h0M62.2 136.0h0M52.3 146.4h0M61.8 148.0h0M63.5 156.2h0M53.3 156.8h0M58.9 157.9h0M59.9 150.7h0M59.4 151.1h0M60.2 150.7h0M59.8 148.3h0M62.6 160.5h0M55.2 140.0h0M63.2 136.5h0M52.8 149.0h0M53.6 160.6h0M56.0 141.0h0M60.1 154.0h0M56.0 156.6h0M52.4 154.2h0M60.2 153.5h0M62.7 147.7h0M56.0 144.2h0M55.9 140.5h0M58.4 163.3h0M57.2 150.4h0M51.6 147.1h0M61.5 139.3h0M59.0 141.0h0M54.8 166.5h0M52.3 141.5h0M51.6 147.4h0M54.4 160.4h0M54.9 144.0h0M59.6 148.4h0M53.2 151.1h0M56.8 144.6h0M63.5 151.4h0M60.9 157.1h0M61.2 161.3h0M61.9 137.8h0M62.6 147.3h0M55.9 146.1h0M51.4 159.0h0M58.1 151.4h0M53.2 159.7h0M54.3 159.0h0M61.5 144.6h0M52.3 142.0h0M53.1 156.8h0M62.2 146.8h0M61.1 134.5h0M65.2 146.0h0M64.3 145.4h0M62.9 147.4h0M61.9 153.1h0M59.9 145.9h0M53.1 159.8h0M61.6 151.8h0M61.6 137.1h0M61.1 138.2h0M57.0 147.7h0M56.0 154.2h0M56.6 145.7h0M50.9 166.5h0M62.9 161.9h0M58.4 136.2h0M56.1 151.9h0M58.5 141.4h0M56.0 138.1h0M62.7 145.7h0M56.1 137.8h0M52.4 150.3h0M61.7 137.0h0M65.1 141.0h0M52.6 156.5h0M60.9 145.1h0M62.6 148.0h0M52.2 148.1h0M51.8 149.5h0M65.0 151.4h0M52.1 166.1h0M53.0 150.3h0M58.9 146.5h0M57.0 144.8h0M61.5 159.9h0M63.9 160.9h0M53.6 148.7h0M51.4 154.5h0M57.4 152.2h0M55.0 150.7h0M55.0 149.6h0M61.1 143.3h0M65.1 156.1h0M63.6 158.3h0M64.0 159.3h0M54.1 156.4h0M56.2 156.2h0M53.8 142.3h0M52.2 156.8h0M50.9 144.5h0M57.9 141.1h0M52.2 154.9h0M53.0 144.4h0M57.6 142.1h0M53.1 153.8h0M60.3 146.8h0M54.3 157.2h0M58.2 142.7h0M58.0 156.0h0M59.7 148.5h0M56.3 152.0h0M62.1 143.7h0M63.3 158.4h0M53.1 156.0h0M52.4 152.2h0M64.9 150.9h0M64.3 152.3h0M53.8 152.7h0M64.8 148.0h0M57.9 143.7h0M63.9 143.5h0M55.1 142.7h0M59.3 138.8h0M51.4 163.2h0M53.9 147.5h0M57.3 146.8h0M63.4 148.9h0M62.7 135.5h0M61.7 150.6h0M60.9 151.2h0M63.0 149.0h0M60.5 148.7h0M61.3 141.2h0M54.9 161.1h0M52.9 157.1h0M61.6 142.5h0M52.9 144.3h0M64.0 150.5h0M59.2 152.8h0M55.3 155.9h0M64.3 146.7h0M58.0 158.6h0M64.7 136.0h0M58.9 151.4h0M62.3 136.7h0M54.6 163.4h0M62.3 166.6h0M60.8 161.3h0M59.9 150.9h0M64.5 149.9h0M56.8 152.1h0M56.5 144.8h0M62.8 140.1h0M55.4 162.9h0M60.3 153.9h0M53.5 150.9h0M58.6 159.8h0M61.8 162.3h0M51.4 158.0h0M61.2 146.1h0M64.6 139.3h0M57.3 157.8h0M56.5 155.4h0M61.1 156.9h0M58.1 140.7h0M58.7 151.8h0M58.7 155.3h0M64.2 142.0h0M57.1 141.9h0M58.6 144.4h0M53.7 147.2h0M63.4 144.0h0M53.3 145.0h0M57.1 157.0h0M61.5 149.4h0M60.9 136.8h0M58.6 161.6h0M62.3 138.3h0M57.3 141.9h0M59.6 142.7h0M60.4 147.2h0M59.9 138.3h0M56.4 155.1h0M58.7 144.9h0M61.4 138.0h0M56.0 153.9h0M57.9 137.8h0M55.4 148.8h0M62.6 136.4h0M56.0 157.0h0M62.9 153.4h0M57.0 155.9h0M61.0 154.4h0M50.9 149.3h0M56.2 158.2h0M63.1 131.8h0M58.7 154.4h0M60.2 166.5h0M54.7 156.3h0M54.7 148.0h0M56.8 162.5h0M65.2 162.9h0M57.0 154.0h0M59.0 145.1h0M64.4 153.6h0M63.6 136.5h0M54.4 140.2h0M63.5 160.5h0M57.7 141.6h0M51.5 151.9h0M63.2 155.2h0M57.7 144.3h0M53.3 159.1h0M56.6 150.5h0M62.7 155.0h0M62.6 142.5h0M57.4 144.7h0M61.8 132.3h0M57.2 137.6h0M55.9 164.6h0M58.5 141.2h0M55.1 140.6h0M60.9 133.7h0M61.8 152.5h0M51.2 157.3h0M61.2 134.9h0M62.5 158.7h0M60.5 154.6h0M54.0 149.6h0M59.9 162.6h0M56.0 161.8h0M59.8 159.8h0M54.2 150.3h0M57.5 141.6h0M59.7 137.1h0M53.4 160.1h0M64.6 158.7h0M54.9 146.9h0M54.2 164.3h0M56.7 156.2h0M61.8 143.1h0M60.9 143.6h0M52.4 151.4h0M61.8 154.8h0M64.1 155.1h0M60.1 150.3h0M61.8 142.2h0M61.5 144.7h0M54.2 141.7h0M56.9 155.7h0M57.6 137.3h0M52.5 160.1h0M52.4 152.8h0M52.4 153.5h0M53.0 143.9h0M54.6 145.8h0M64.6 157.6h0M52.8 151.1h0M57.4 150.8h0M50.6 149.3h0M57.2 142.3h0M52.8 160.6h0M54.4 139.0h0M62.1 148.1h0M53.1 153.7h0M59.5 162.3h0M56.4 160.1h0M56.6 141.7h0M62.5 157.5h0M52.8 145.2h0M64.1 133.4h0M63.6 133.7h0M51.1 149.5h0M60.2 158.9h0M61.8 142.3h0M64.5 145.9h0M63.5 131.8h0M62.7 141.3h0M63.9 143.2h0M65.1 143.3h0M59.5 134.2h0M60.3 152.1h0M58.8 147.3h0M64.5 134.3h0M59.4 147.1h0M55.4 148.9h0M50.7 149.7h0M61.1 161.2h0M60.7 154.5h0M56.6 149.8h0M61.6 143.5h0M51.5 157.9h0M52.4 141.8h0M57.0 154.3h0M64.1 138.8h0M54.5 142.4h0M63.7 158.2h0M60.5 146.2h0M63.0 149.1h0M62.0 139.6h0M54.0 151.2h0M52.5 161.9h0M60.6 142.8h0M64.3 152.2h0M60.8 148.9h0M52.3 146.7h0M62.5 147.0h0M52.1 146.0h0M50.9 144.5h0M58.5 147.8h0M62.9 149.3h0M51.7 141.9h0M54.5 156.6h0M61.7 152.0h0M59.4 146.6h0M55.0 152.7h0M59.7 147.4h0M57.1 153.3h0M61.6 140.6h0M59.8 146.6h0M56.0 142.2h0M61.1 147.0h0M60.7 142.4h0M56.1 142.4h0M64.7 146.2h0M53.4 156.5h0M61.2 137.7h0M54.5 157.9h0M63.1 149.9h0M57.0 146.7h0M51.5 159.2h0M53.6 150.1h0M54.4 162.6h0M53.0 144.4h0M51.3 147.2h0M57.3 150.1h0M53.6 154.1h0M61.3 150.6h0M64.1 154.9h0M54.4 139.7h0M51.5 147.4h0M52.2 151.0h0M63.5 140.1h0M57.4 157.3h0M62.3 147.7h0M51.4 158.4h0M59.2 137.7h0M63.2 144.8h0M63.2 147.9h0M58.1 148.9h0M55.9 164.5h0M61.7 138.9h0M51.5 142.6h0M54.3 147.8h0M62.4 134.3h0M57.1 159.0h0M64.7 155.3h0M56.2 154.8h0M52.7 160.0h0M51.6 153.6h0M58.8 151.9h0M64.5 164.8h0M59.0 145.6h0M60.0 161.2h0M55.2 160.4h0M58.9 135.1h0M61.5 154.1h0M59.1 146.9h0M62.3 138.5h0M58.5 136.3h0M53.3 150.0h0M59.0 145.5h0M57.7 155.8h0M59.6 138.3h0M62.5 159.1h0M52.4 146.0h0M58.5 137.5h0M61.3 140.3h0M55.9 152.4h0M58.4 147.1h0M60.6 161.2h0M58.7 143.0h0M52.0 144.2h0M64.1 144.8h0M54.1 154.0h0M53.0 144.7h0M63.0 160.9h0M63.9 156.3h0M51.1 150.3h0M55.3 141.9h0M53.3 148.0h0M57.4 156.6h0M64.0 136.6h0M51.4 152.4h0M52.9 151.9h0M57.6 162.4h0M58.2 155.3h0M61.4 138.2h0M56.9 165.2h0M52.5 146.8h0M64.9 150.5h0M61.5 143.1h0M52.1 159.3h0M62.0 143.2h0M50.6 166.9h0M63.3 158.4h0M60.2 142.5h0M52.8 153.2h0M52.5 148.3h0M54.6 146.0h0M53.6 164.2h0M55.7 159.7h0M59.1 162.1h0M54.6 141.8h0M50.9 153.8h0M61.6 136.4h0M54.2 144.1h0M56.4 151.7h0M56.4 144.3h0M63.5 155.0h0M64.0 144.8h0M55.0 158.4h0M61.3 155.1h0M54.1 141.4h0M52.5 152.6h0M56.9 151.4h0M64.2 135.8h0M60.9 139.7h0M57.4 140.2h0M64.8 146.2h0M52.3 157.3h0M63.8 149.0h0M51.9 162.4h0M51.8 150.1h0M55.3 139.8h0M50.9 153.9h0M64.0 145.9h0M59.5 150.3h0M51.4 154.8h0M58.8 160.1h0M57.2 145.3h0M58.7 166.6h0M61.3 144.7h0M60.4 145.8h0M65.2 153.8h0M52.7 158.0h0M62.4 162.5h0M62.0 162.0h0M65.1 138.9h0M54.3 150.3h0M57.1 159.8h0M64.4 133.6h0M55.9 157.1h0M64.3 149.6h0M55.9 142.0h0M57.4 152.8h0M57.0 139.6h0M56.1 160.9h0M52.5 154.7h0M61.6 147.5h0M58.8 147.7h0M62.3 150.0h0M53.8 146.2h0M54.9 146.8h0M61.7 133.6h0M55.9 139.8h0M55.2 149.5h0M59.8 145.1h0M53.2 145.7h0M52.0 156.9h0M61.6 162.5h0M59.8 134.6h0M50.9 147.1h0M56.4 155.1h0M59.0 148.7h0M54.2 140.4h0M59.4 142.6h0M52.7 152.6h0M60.9 143.2h0M51.6 164.7h0M64.8 136.9h0M53.4 144.2h0M54.2 150.9h0M65.1 137.8h0M59.4 145.5h0M65.1 163.3h0M64.5 133.3h0M58.1 152.2h0M59.3 145.1h0M60.8 149.0h0M55.4 141.8h0M55.3 138.3h0M50.9 157.7h0M51.5 157.1h0M53.4 142.7h0M50.9 157.2h0M64.1 154.3h0M56.8 151.5h0M53.4 146.6h0M50.5 161.4h0M54.0 140.4h0M64.6 138.7h0M63.7 139.4h0M59.8 140.5h0M55.1 140.2h0M51.9 149.1h0M52.7 149.3h0M63.8 157.5h0M55.3 150.5h0M51.7 154.2h0M62.2 140.1h0M60.4 163.5h0M59.5 142.8h0M51.9 148.9h0M54.3 154.4h0M59.0 155.4h0M64.5 159.4h0M62.5 152.5h0M59.9 145.9h0M58.1 148.1h0M50.6 162.8h0M63.6 149.2h0M51.4 156.6h0M52.3 144.1h0M62.4 138.6h0M62.0 149.7h0M57.1 165.3h0M53.0 162.8h0M50.9 166.1h0M63.0 137.4h0M64.9 155.1h0M54.0 145.3h0M63.2 153.4h0M56.4 144.9h0M57.9 154.1h0M50.5 150.1h0M57.0 155.6h0M60.9 158.2h0M57.8 159.5h0M63.3 162.5h0M63.7 162.8h0M55.1 140.4h0M64.3 157.8h0M51.8 143.0h0M51.1 159.1h0M65.1 149.3h0M59.0 148.8h0M51.2 154.2h0M56.8 141.5h0M64.5 142.1h0M64.4 152.9h0M52.3 144.2h0M56.4 144.2h0M62.7 141.0h0M59.6 137.8h0M62.5 134.3h0M60.7 162.7h0M53.3 147.4h0M57.4 155.7h0M64.8 153.0h0M51.2 155.6h0M56.7 147.5h0M51.2 147.9h0M54.1 144.9h0M50.7 154.4h0M58.4 154.6h0M57.9 160.4h0M54.8 158.5h0M60.1 155.6h0M64.6 142.0h0M57.7 154.5h0M57.3 151.1h0M63.1 133.3h0M54.7 156.8h0M61.1 145.2h0M55.3 138.3h0M59.3 137.1h0M51.2 158.5h0M62.3 132.0h0M58.4 150.5h0M56.0 155.1h0M55.6 144.8h0M51.4 148.5h0M54.2 157.7h0M59.6 165.0h0M51.8 157.2h0M64.9 138.3h0M63.6 131.9h0M62.3 152.1h0M53.0 146.9h0M64.8 142.6h0M53.4 158.9h0M63.3 157.8h0M63.4 144.8h0M59.6 149.8h0M58.1 158.6h0M53.4 141.4h0M58.1 149.1h0M52.3 146.1h0M52.3 149.6h0M62.3 144.5h0M64.1 148.0h0M52.5 153.9h0M50.6 150.8h0M59.0 166.1h0M56.7 150.7h0M56.8 150.9h0M53.4 144.0h0M60.2 151.4h0M54.7 152.1h0M57.3 143.9h0M63.8 159.9h0M61.0 134.1h0M55.0 152.8h0M63.6 136.1h0M56.2 154.7h0M63.4 148.6h0M60.4 155.5h0M51.8 150.4h0M52.4 155.1h0M65.1 143.7h0M50.8 143.9h0M54.9 145.6h0M64.6 152.6h0M52.8 144.9h0M51.7 143.1h0M59.2 142.7h0M55.1 150.6h0M52.0 148.1h0M62.4 147.6h0M62.3 152.5h0M58.7 152.9h0M52.4 157.0h0M59.7 146.2h0M63.2 149.0h0M56.2 145.1h0M58.0 148.0h0M58.7 136.2h0M61.7 143.1h0M61.2 154.0h0M54.2 155.3h0M61.1 149.3h0M56.7 149.5h0M61.9 133.1h0M59.9 150.8h0M58.0 141.3h0M63.3 139.5h0M57.3 148.0h0M57.3 162.8h0M54.6 161.9h0M64.0 141.2h0M55.1 141.3h0M60.7 148.9h0M56.5 159.9h0M64.2 163.1h0M64.4 149.9h0M50.8 163.3h0M65.1 135.3h0M51.1 153.1h0M58.5 156.4h0M55.8 153.1h0M54.9 148.1h0M59.3 134.5h0M62.6 138.7h0M64.3 139.0h0M55.3 143.5h0M58.8 138.1h0M55.9 158.7h0M64.6 151.4h0M52.2 162.5h0M61.9 160.3h0M54.7 143.9h0M63.6 148.8h0M51.6 145.0h0M52.2 148.2h0M61.5 139.8h0M57.0 150.7h0M58.0 143.1h0M54.8 149.5h0M58.5 147.3h0M61.4 151.2h0M63.1 136.3h0M51.3 149.2h0M59.2 142.5h0M65.0 150.7h0M57.2 163.7h0M61.8 135.2h0M51.8 158.6h0M63.3 137.9h0M59.0 141.0h0M63.5 165.7h0M62.1 157.2h0M63.3 152.1h0M51.2 155.8h0M61.0 160.1h0M54.3 148.8h0M55.2 141.4h0M59.2 151.1h0M59.7 142.4h0M64.2 154.9h0M50.6 146.3h0M55.8 145.5h0M62.5 151.4h0M58.5 158.9h0M58.0 144.0h0M61.7 141.9h0M60.1 149.1h0M54.7 155.1h0M63.4 149.6h0M59.3 142.0h0M56.1 144.5h0M59.0 154.4h0M64.5 149.0h0M55.4 155.2h0M56.4 148.6h0M59.5 144.0h0M63.5 152.7h0M60.9 146.6h0M57.4 162.1h0M62.5 148.7h0M57.6 136.8h0M52.3 142.8h0M62.7 131.9h0M57.9 147.4h0M51.7 142.9h0M62.0 143.9h0M51.4 142.4h0M64.7 143.6h0M63.4 155.3h0M52.3 154.0h0M57.5 145.2h0M52.2 145.9h0M57.8 165.9h0M59.9 144.9h0M52.8 160.3h0M57.7 140.8h0M65.0 141.0h0M58.0 154.6h0M63.9 153.0h0M56.3 155.8h0M54.3 155.0h0M58.6 147.2h0M55.1 163.3h0M64.1 158.4h0M53.5 146.8h0M51.6 141.4h0M54.7 155.3h0M63.7 152.6h0M63.6 145.6h0M64.3 153.0h0M50.4 146.7h0M56.1 145.8h0M64.6 145.8h0M61.7 137.6h0M51.3 151.6h0M64.0 140.5h0M64.7 144.2h0M61.0 145.5h0M63.2 139.8h0M62.9 133.9h0M51.9 141.5h0M61.2 135.6h0M52.4 144.6h0M65.1 146.3h0M64.4 144.7h0M54.6 159.9h0M65.2 148.4h0M63.9 156.5h0M55.2 140.1h0M52.3 164.7h0M64.0 139.5h0M53.2 150.7h0M63.6 158.5h0M60.3 145.2h0M61.3 150.1h0M51.0 151.0h0M57.8 140.9h0M60.1 152.8h0M53.9 148.2h0M63.7 132.9h0M58.3 153.0h0M64.3 152.1h0M52.9 167.3h0M58.5 150.2h0M61.0 153.2h0M64.3 142.0h0M61.3 164.5h0M55.5 162.1h0M51.5 151.9h0M60.9 152.2h0M64.8 145.1h0M61.9 151.6h0M53.0 140.1h0M57.2 138.8h0M58.1 158.9h0M59.5 143.3h0M65.0 157.2h0M60.6 133.3h0M56.2 140.6h0M61.0 145.8h0M57.3 161.9h0M56.5 144.6h0M55.8 155.1h0M57.7 137.6h0M54.6 147.4h0M54.0 155.7h0M56.9 137.4h0M54.7 153.1h0M62.8 132.2h0M63.0 149.5h0M55.5 149.7h0M59.6 144.5h0M63.8 155.0h0M55.7 151.3h0M58.6 147.9h0M64.6 149.1h0M64.7 146.5h0M60.3 141.5h0M62.2 135.5h0M59.8 142.5h0M50.7 172.8h0M51.3 175.0h0M50.7 178.3h0M52.2 172.0h0M53.7 170.5h0M50.7 170.5h0M50.7 168.3h0M56.7 169.0h0" stroke="#a6cee3" stroke-width="4.50" stroke-linecap="round" fill="none"/>
<path d="M161.6 139.2h0M190.0 118.6h0M150.0 128.5h0M116.6 134.0h0M114.3 133.9h0M138.3 156.8h0M120.5 143.4h0M136.3 156.9h0M130.9 150.0h0M249.7 114.7h0M157.8 138.8h0M121.6 125.9h0M116.4 138.8h0M115.7 134.4h0M158.0 121.5h0M134.5 159.5h0M203.4 108.9h0M122.8 133.8h0M182.9 139.8h0M135.6 145.0h0M209.0 143.9h0M153.0 136.1h0M120.9 126.0h0M120.7 131.7h0M120.8 122.3h0M148.6 140.0h0M170.7 152.3h0M147.9 119.3h0M200.7 100.0h0M121.0 130.3h0M167.3 119.2h0M132.1 148.3h0M116.9 131.6h0M198.7 134.1h0M122.8 164.4h0M123.9 140.0h0M125.7 144.8h0M118.3 138.3h0M137.9 149.4h0M127.3 139.2h0M123.5 139.7h0M180.4 135.9h0M120.3 143.0h0M154.7 130.4h0M122.9 141.0h0M144.8 138.7h0M139.2 145.6h0M192.2 106.3h0M186.6 113.0h0M137.0 123.5h0M140.5 136.0h0M123.7 154.7h0M143.1 95.8h0M133.6 128.2h0M117.2 113.6h0M141.9 127.9h0M230.5 110.7h0M148.8 130.2h0M134.3 121.0h0M170.9 125.5h0M167.5 137.2h0M166.6 136.0h0M161.5 137.5h0M132.4 152.9h0M164.9 114.9h0M225.4 128.9h0M189.3 132.9h0M146.3 128.5h0M124.1 135.1h0M157.8 157.8h0M130.2 132.0h0M134.3 121.2h0M153.5 137.4h0M131.7 142.6h0M186.6 141.4h0M147.0 139.2h0M127.4 141.7h0M125.2 140.0h0M174.6 120.0h0M118.8 159.5h0M147.4 152.2h0M231.5 106.5h0M183.0 131.0h0M150.6 148.3h0M134.4 115.5h0M115.5 146.0h0M134.2 120.6h0M135.8 164.4h0M166.9 117.2h0M128.9 125.9h0M156.5 99.9h0M125.7 156.4h0M119.5 141.0h0M157.1 138.1h0M121.9 136.3h0M176.9 153.2h0M136.4 145.9h0M134.8 137.7h0M117.7 134.6h0M165.1 139.0h0M114.8 151.0h0M124.6 126.5h0M202.7 120.0h0M130.5 153.7h0M120.0 145.5h0M138.8 115.9h0M173.1 123.5h0M132.7 132.9h0M125.8 124.1h0M117.4 147.5h0M123.3 127.6h0M133.6 135.5h0M126.4 140.5h0M125.8 135.3h0M169.1 105.4h0M203.6 111.9h0M148.0 122.2h0M134.2 132.1h0M146.7 139.6h0M170.2 127.6h0M123.9 141.7h0M120.3 142.7h0M146.9 122.3h0M138.2 141.9h0M121.7 142.1h0M180.6 106.5h0M186.0 124.1h0M151.8 146.3h0M141.6 124.0h0M129.2 125.5h0M150.1 119.7h0M120.4 141.9h0M152.0 128.2h0M134.1 137.2h0M151.1 109.0h0M175.1 132.7h0M119.1 123.4h0M126.1 156.7h0M147.4 149.4h0M163.5 104.4h0M135.6 126.2h0M121.0 134.4h0M170.1 132.2h0M164.1 123.1h0M148.5 115.5h0M127.1 146.0h0M130.5 141.3h0M126.5 128.6h0M118.1 99.4h0M146.4 149.8h0M115.5 128.3h0M224.4 105.7h0M155.1 130.0h0M119.8 139.0h0M172.3 140.0h0M252.6 124.4h0M164.6 145.7h0M145.1 123.3h0M160.7 145.3h0M148.2 134.1h0M124.4 123.1h0M128.4 149.4h0M166.2 135.6h0M149.2 141.7h0M152.3 112.9h0M192.6 111.4h0M125.3 117.6h0M141.9 138.8h0M191.5 123.5h0M145.4 144.2h0M222.9 127.2h0M131.1 140.1h0M116.3 132.3h0M138.6 125.3h0M185.9 125.3h0M189.7 122.6h0M201.8 125.2h0M147.0 136.4h0M128.4 126.6h0M116.8 128.9h0M247.8 121.5h0M137.0 163.5h0M121.4 149.6h0M131.4 129.0h0M133.1 131.3h0M117.4 119.3h0M124.4 116.6h0M240.8 111.5h0M138.8 112.7h0M114.0 127.2h0M121.0 140.9h0M217.4 132.1h0M138.7 163.6h0M137.8 113.5h0M157.1 138.3h0M133.7 107.4h0M161.3 147.5h0M141.2 133.6h0M133.0 127.1h0M179.3 131.4h0M169.7 141.9h0M160.4 145.4h0M163.8 128.7h0M163.8 152.1h0M129.5 131.2h0M122.1 104.2h0M163.5 118.8h0M122.9 156.9h0M122.0 156.6h0M177.3 102.8h0M149.7 146.8h0M158.2 136.2h0M124.3 156.5h0M162.1 161.7h0M207.8 119.6h0M119.1 150.0h0M158.8 138.3h0M134.9 133.8h0M117.2 153.7h0M180.7 117.1h0M139.8 124.3h0M179.3 125.2h0M115.2 145.1h0M145.7 128.7h0M177.0 143.5h0M166.2 132.2h0M127.2 134.2h0M267.5 119.0h0M147.3 127.3h0M134.8 138.5h0M113.5 137.8h0M176.1 123.0h0M126.4 135.8h0M261.3 114.2h0M176.3 152.0h0M117.9 137.4h0M147.6 147.0h0M127.8 165.5h0M118.9 137.1h0M238.4 114.0h0M156.6 151.2h0M115.1 138.6h0M145.6 136.5h0M136.3 130.4h0M122.3 111.9h0M128.1 130.7h0M116.8 161.2h0M129.1 141.6h0M147.6 157.3h0M148.0 108.7h0M167.9 147.2h0M127.0 130.8h0M226.8 126.5h0M114.2 144.4h0M200.2 127.9h0M165.9 144.7h0M178.9 121.8h0M172.1 132.0h0M164.8 126.6h0M156.9 127.3h0M129.6 130.5h0M188.0 132.3h0M114.5 135.1h0M117.5 132.5h0M113.3 118.7h0M129.1 150.9h0M176.9 158.5h0M207.3 128.0h0M149.0 138.9h0M138.2 107.5h0M123.0 150.2h0M116.0 122.5h0M125.0 139.4h0M118.6 122.4h0M172.1 126.8h0M158.0 132.6h0M126.8 150.3h0M131.8 148.9h0M127.8 141.7h0M133.1 142.9h0M114.6 125.0h0M144.2 139.0h0M148.2 132.4h0M116.3 161.3h0M155.0 127.1h0M142.0 144.4h0M126.9 138.7h0M208.4 111.2h0M114.8 157.1h0M142.0 144.4h0M173.9 142.2h0M211.3 129.6h0M151.4 126.6h0M132.9 127.8h0M121.5 141.3h0M117.9 138.4h0M175.0 146.6h0M135.4 139.6h0M154.9 149.7h0M160.0 141.0h0M115.7 149.6h0M172.3 132.6h0M117.9 126.5h0M146.2 158.3h0M196.7 126.9h0M123.3 148.7h0M123.8 144.7h0M160.7 116.3h0M129.0 137.9h0M121.9 153.7h0M119.1 113.2h0M171.1 140.9h0M150.2 147.2h0M182.5 128.6h0M157.8 130.0h0M138.8 135.4h0M137.0 112.4h0M138.3 122.6h0M123.8 140.1h0M114.8 143.7h0M121.6 143.2h0M119.2 121.1h0M240.5 118.4h0M179.6 123.9h0M166.2 131.7h0M119.1 138.7h0M142.5 160.0h0M113.2 154.2h0M124.5 152.9h0M167.0 125.0h0M133.5 130.2h0M117.4 144.9h0M170.8 121.4h0M121.8 152.6h0M114.3 115.0h0M162.1 131.4h0M136.3 144.5h0M129.0 139.6h0M137.2 124.3h0M139.2 142.8h0M123.4 141.9h0M122.9 148.6h0M146.4 121.8h0M127.6 148.4h0M113.4 144.1h0M218.7 121.6h0M171.1 133.6h0M170.5 116.5h0M134.5 132.2h0M150.0 130.7h0M120.1 147.4h0M124.1 142.9h0M116.5 136.6h0M117.2 123.1h0M156.7 141.2h0M132.4 135.0h0M137.0 129.2h0M165.7 122.3h0M118.4 141.9h0M161.6 153.8h0M129.4 105.1h0M125.9 151.5h0M174.1 108.3h0M115.8 139.6h0M159.3 144.3h0M117.2 136.7h0M168.9 117.6h0M130.6 115.0h0M157.9 108.9h0M167.7 103.3h0M146.2 133.4h0M138.9 135.3h0M159.5 119.9h0M151.6 129.7h0M165.6 120.3h0M145.7 141.3h0M153.0 136.1h0M123.3 128.3h0M147.1 133.7h0M128.0 126.6h0M115.6 139.6h0M164.9 122.9h0M135.3 128.6h0M146.4 101.0h0M128.7 134.0h0M133.5 132.8h0M116.0 128.9h0M161.0 119.2h0M117.7 134.6h0M158.7 135.8h0M116.3 143.8h0M136.6 108.2h0M184.8 136.7h0M199.8 115.8h0M148.4 154.6h0M117.2 139.3h0M124.5 149.0h0M117.9 136.3h0M218.2 108.9h0M167.4 116.1h0M149.1 151.3h0M162.6 124.4h0M137.5 123.0h0M210.4 116.8h0M167.7 142.9h0M119.1 140.6h0M130.6 137.2h0M130.8 131.9h0M145.8 141.7h0M138.0 123.1h0M139.3 116.1h0M142.5 132.9h0M117.7 126.2h0M179.5 119.6h0M137.0 141.4h0M118.9 120.1h0M122.2 128.6h0M121.5 137.9h0M115.0 135.2h0M128.6 149.2h0M138.8 114.5h0M158.7 135.7h0M166.2 141.2h0M127.9 130.9h0M147.5 129.5h0M130.7 121.4h0M120.6 142.6h0M137.0 122.6h0M117.9 152.6h0M113.4 131.1h0M129.5 127.9h0M117.6 125.9h0M139.4 137.6h0M172.6 122.8h0M167.4 125.4h0M123.9 120.8h0M125.4 141.5h0M145.7 127.1h0M119.3 118.0h0M153.1 137.4h0M121.7 142.5h0M230.2 106.6h0M167.7 116.1h0M206.4 125.1h0M114.6 139.4h0M147.2 127.0h0M135.8 146.2h0M172.4 143.1h0M199.3 131.9h0M148.3 116.5h0M138.5 153.3h0M166.3 125.8h0M167.6 111.4h0M130.8 132.7h0M149.5 143.5h0M168.9 133.4h0M137.3 120.8h0M124.8 145.3h0M146.9 112.6h0M179.2 117.9h0M130.3 145.0h0M186.3 111.4h0M117.3 137.0h0M177.9 138.0h0M144.1 131.0h0M114.2 145.4h0M143.9 135.8h0M126.5 143.0h0M129.9 138.4h0M129.6 137.4h0M198.7 148.5h0M152.6 138.0h0M129.1 133.3h0M132.4 146.3h0M148.9 114.3h0M192.0 126.2h0M116.1 129.1h0M129.7 159.9h0M182.0 149.5h0M124.7 123.1h0M115.1 104.0h0M140.3 156.3h0M179.7 116.5h0M170.0 133.4h0M168.2 128.1h0M147.5 124.6h0M150.8 153.4h0M140.6 132.1h0M168.2 123.1h0M147.7 126.2h0M236.5 129.3h0M120.4 144.7h0M117.7 154.0h0M141.0 141.5h0M119.9 114.9h0M194.5 150.2h0M118.6 136.9h0M145.1 135.5h0M163.7 136.5h0M113.3 136.4h0M163.2 120.4h0M155.9 120.7h0M123.8 141.2h0M116.5 148.6h0M146.3 139.8h0M161.1 120.6h0M187.4 134.7h0M125.5 159.2h0M163.7 124.5h0M128.8 119.6h0M130.8 147.2h0M187.9 136.1h0M129.3 126.7h0M125.5 139.1h0M177.8 103.0h0M147.0 127.3h0M118.4 146.3h0M148.6 126.2h0M122.2 141.5h0M181.8 121.9h0M129.3 139.7h0M114.2 126.8h0M219.2 127.7h0M208.8 126.9h0M122.2 115.7h0M125.9 141.2h0M159.6 108.6h0M223.3 110.6h0M118.3 143.5h0M119.3 142.9h0M155.7 126.2h0M116.9 126.2h0M223.4 133.1h0M117.2 143.6h0M150.8 143.6h0M145.9 132.1h0M167.6 144.0h0M177.3 130.1h0M149.5 129.2h0M204.0 110.8h0M118.1 142.5h0M124.9 123.3h0M176.3 147.1h0M124.5 140.8h0M115.0 152.2h0M117.6 133.5h0M138.2 130.9h0M115.0 143.6h0M214.2 108.7h0M181.6 142.0h0M130.8 143.6h0M122.0 148.1h0M172.1 137.1h0M119.2 147.0h0M205.5 107.8h0M147.5 133.4h0M191.1 107.8h0M134.5 142.7h0M116.8 139.9h0M167.6 138.6h0M139.3 136.7h0M127.5 146.3h0M115.0 122.7h0M113.8 131.1h0M133.9 144.8h0M150.1 134.2h0M140.5 137.7h0M136.5 142.4h0M158.1 111.0h0M127.2 151.5h0M130.2 145.2h0M121.2 161.1h0M205.8 124.0h0M129.0 112.3h0M240.4 124.0h0M142.7 139.8h0M125.2 120.1h0M234.4 124.3h0M113.6 138.4h0M161.2 117.1h0M114.6 140.8h0M173.7 134.7h0M193.5 116.1h0M114.7 145.7h0M124.3 144.3h0M125.1 127.9h0M139.9 146.6h0M185.7 97.0h0M152.7 127.3h0M128.7 126.9h0M117.8 133.1h0M119.0 133.6h0M137.3 126.4h0M119.8 157.5h0M140.5 124.3h0M169.3 140.3h0M130.8 152.7h0M122.0 126.7h0M164.8 153.7h0M147.6 155.3h0M143.5 127.3h0M119.3 134.8h0M173.8 130.5h0M129.4 135.2h0M160.3 120.2h0M165.5 110.8h0M147.2 132.9h0M139.4 124.2h0M129.5 143.6h0M127.7 138.2h0M146.6 129.9h0M164.4 142.7h0M133.6 134.9h0M123.2 123.9h0M116.8 118.0h0M123.1 141.4h0M172.4 130.5h0M127.9 144.5h0M116.0 123.4h0M174.3 118.7h0M169.2 117.2h0M183.7 135.4h0M197.6 136.2h0M163.3 139.4h0M129.9 132.6h0M150.7 111.4h0M200.6 111.0h0M169.9 106.8h0M179.9 132.8h0M140.4 109.7h0M131.0 143.9h0M120.2 122.5h0M128.6 144.4h0M137.4 115.4h0M162.3 142.1h0M235.4 117.3h0M145.7 140.9h0M124.3 120.1h0M133.0 140.4h0M140.2 105.1h0M124.8 124.3h0M227.2 135.8h0M119.5 128.1h0M172.9 118.3h0M121.4 141.7h0M161.5 134.3h0M167.8 140.8h0M133.6 140.1h0M163.7 146.4h0M134.5 160.6h0M190.3 150.3h0M125.7 143.8h0M121.6 141.9h0M136.0 141.9h0M125.5 159.2h0M117.3 139.1h0M139.0 138.6h0M118.6 129.3h0M168.7 142.2h0M120.9 146.0h0M215.5 116.3h0M163.3 136.9h0M119.4 134.0h0M114.0 134.6h0M118.3 150.0h0M116.0 136.8h0M127.4 137.9h0M210.0 115.4h0M115.1 134.0h0M119.4 108.7h0M119.7 123.5h0M133.2 103.8h0M146.7 142.7h0M119.1 137.7h0M124.5 147.7h0M146.0 105.9h0M212.1 126.7h0M195.4 120.1h0M130.0 147.5h0M233.7 107.4h0M143.3 151.8h0M130.3 146.1h0M200.7 109.5h0M136.6 125.5h0M126.7 148.3h0M129.9 113.8h0M115.3 120.1h0M125.5 139.7h0M177.3 133.1h0M149.7 147.5h0M121.7 123.8h0M129.9 115.9h0M126.6 131.5h0M171.0 145.9h0M149.9 134.4h0M116.4 128.8h0M169.6 141.0h0M114.0 161.0h0M118.3 139.5h0M128.9 138.1h0M116.3 146.3h0M165.0 127.7h0M126.8 142.0h0M133.4 157.0h0M116.0 151.6h0M116.6 160.9h0M183.6 142.1h0M118.2 132.3h0M191.3 115.2h0M141.3 134.6h0M113.3 123.1h0M125.6 139.6h0M126.9 104.1h0M240.4 109.0h0M257.8 119.4h0M178.2 137.9h0M153.8 145.8h0M115.7 147.2h0M218.2 122.7h0M181.3 135.8h0M165.1 119.3h0M158.2 128.6h0M117.9 130.6h0M148.0 148.2h0M128.8 122.5h0M125.0 121.8h0M148.7 116.6h0M148.8 141.9h0M136.6 144.8h0M122.1 128.4h0M218.5 132.6h0M152.6 126.6h0M129.5 143.7h0M119.7 137.0h0M129.3 137.7h0M167.6 123.9h0M172.3 131.9h0M116.5 139.2h0M184.5 118.1h0M134.7 145.4h0M124.6 147.5h0M228.4 123.7h0M235.7 124.7h0M129.5 136.5h0M127.4 135.0h0M121.4 139.1h0M136.5 127.5h0M124.1 159.9h0M121.5 110.8h0M135.3 113.7h0M140.2 122.4h0M124.0 156.1h0M160.2 135.3h0M129.7 118.4h0M116.6 139.6h0M175.5 123.3h0M120.8 132.3h0M134.3 121.8h0M165.0 125.7h0M158.2 148.2h0M155.0 131.0h0M117.0 144.0h0M147.0 139.1h0M149.0 150.8h0M135.0 127.9h0M152.7 127.7h0M197.3 130.6h0M187.9 118.2h0M132.3 123.0h0M201.6 135.8h0M225.2 125.4h0M120.2 131.4h0M140.7 137.7h0M185.8 102.0h0M125.0 138.4h0M129.6 146.8h0M213.3 114.4h0M125.3 148.4h0M145.1 153.1h0M114.8 112.9h0M192.3 121.3h0M120.1 155.0h0M154.2 134.4h0M172.9 123.9h0M141.4 122.1h0M135.1 136.4h0M137.4 143.6h0M141.3 118.1h0M147.2 126.9h0M121.1 152.4h0M134.3 142.6h0M152.1 127.5h0M120.8 127.9h0M169.6 130.4h0M223.7 132.4h0M140.5 130.0h0M126.4 140.4h0M135.3 136.7h0M144.5 147.8h0M251.9 132.0h0M170.2 107.1h0M116.9 132.7h0M234.7 105.6h0M115.1 138.7h0M117.4 164.0h0M130.4 142.9h0M125.4 109.4h0M124.6 150.4h0M149.8 116.5h0M123.7 123.6h0M230.6 140.4h0M140.9 123.3h0M133.7 131.9h0M121.3 148.0h0M113.8 146.2h0M144.9 116.2h0M177.5 136.3h0M132.6 122.9h0M179.1 123.9h0M132.2 157.0h0M126.6 131.0h0M115.3 122.7h0M124.1 129.5h0M186.0 137.6h0M122.0 103.3h0M145.1 143.6h0M116.7 139.6h0M114.9 139.2h0M120.5 138.1h0M149.5 142.0h0M169.2 153.8h0M231.2 129.2h0M133.0 112.6h0M124.8 130.3h0M168.5 143.6h0M128.2 137.0h0M174.5 137.0h0M124.4 132.9h0M128.9 145.0h0M146.1 138.6h0M147.0 139.5h0M165.9 144.2h0M137.7 146.9h0M114.5 146.9h0M117.6 150.0h0M170.8 128.6h0M114.4 122.6h0M140.1 145.6h0M145.2 146.1h0M163.0 128.3h0M165.9 124.2h0M147.4 95.0h0M198.4 133.3h0M116.4 146.1h0M117.3 148.8h0M136.6 135.0h0M127.7 133.4h0M120.8 150.0h0M130.3 134.3h0M164.6 154.5h0M127.8 124.9h0M152.1 115.1h0M130.7 144.7h0M158.1 137.6h0M162.0 138.4h0M155.6 142.6h0M118.9 143.3h0M120.3 147.9h0M115.2 129.6h0M176.9 133.8h0M113.6 135.5h0M120.9 138.6h0M119.4 135.6h0M129.1 119.5h0M124.8 129.5h0M135.8 145.2h0M113.9 111.8h0M115.3 146.8h0M166.7 141.0h0M135.0 140.5h0M114.6 140.6h0M127.2 135.1h0M148.9 130.4h0M117.9 136.4h0M123.6 145.1h0M147.7 130.1h0M122.4 110.7h0M135.9 126.7h0M124.7 125.8h0M118.0 145.8h0M156.3 133.1h0M173.8 147.9h0M123.9 127.0h0M142.5 127.3h0M129.9 129.0h0M128.8 137.9h0M124.0 152.2h0M138.6 129.2h0M123.5 135.2h0M124.5 116.1h0M115.6 144.5h0M161.2 140.0h0M263.4 121.2h0M115.4 142.2h0M157.6 104.0h0M123.5 135.3h0M139.2 134.9h0M173.5 125.4h0M126.2 143.2h0M137.7 159.8h0M220.8 111.9h0M114.0 132.1h0M155.3 117.7h0M254.9 117.7h0M144.6 147.1h0M197.7 132.0h0M225.8 124.4h0M122.7 144.0h0M130.7 133.7h0M191.9 106.2h0M125.4 142.3h0M166.3 124.7h0M206.2 108.8h0M169.8 130.5h0M158.0 127.3h0M127.9 164.1h0M117.2 123.6h0M116.6 131.0h0M196.8 118.3h0M145.4 143.2h0M161.1 129.4h0M134.0 160.3h0M147.5 160.8h0M203.8 126.8h0M139.6 135.0h0M251.9 122.9h0M113.5 136.3h0M219.1 122.1h0M151.8 127.3h0M114.5 148.1h0M140.7 127.2h0M122.2 145.3h0M188.0 128.2h0M122.1 144.6h0M155.8 122.8h0M141.0 133.0h0M115.6 144.8h0M119.3 138.9h0M129.0 131.1h0M171.6 139.8h0M123.8 118.7h0M117.9 133.5h0M127.5 110.6h0M150.9 118.8h0M129.6 125.6h0M209.7 124.4h0M141.2 136.6h0M185.0 140.9h0M166.0 140.4h0M132.7 117.2h0M129.6 144.1h0M136.2 127.3h0M128.1 125.7h0M140.6 147.0h0M161.4 136.3h0M126.1 127.9h0M147.9 131.7h0M130.7 130.7h0M129.6 143.1h0M115.3 135.7h0M169.0 133.6h0M120.2 112.8h0M152.7 140.5h0M116.7 133.6h0M151.2 130.8h0M142.4 132.0h0M184.7 107.7h0M117.7 129.7h0M161.8 140.6h0M129.7 118.9h0M117.1 140.0h0M117.2 139.6h0M137.8 147.2h0M150.5 125.4h0M194.8 123.0h0M139.7 137.7h0M115.8 140.8h0M254.6 125.5h0M118.6 145.4h0M177.4 113.4h0M170.2 133.9h0M175.7 114.9h0M161.2 115.1h0M133.3 127.4h0M127.3 113.8h0M143.6 157.7h0M148.7 139.8h0M126.3 139.9h0M190.1 120.0h0M147.2 138.5h0M187.0 140.5h0M180.4 128.9h0M121.6 139.9h0M114.3 123.9h0M119.3 149.4h0M236.6 116.3h0M122.6 120.7h0M174.7 121.7h0M148.1 119.3h0M127.0 140.8h0M115.6 157.0h0M134.2 137.3h0M154.5 134.3h0M143.1 130.2h0M119.6 124.9h0M143.7 124.2h0M127.4 156.9h0M224.7 129.2h0M117.8 130.8h0M173.8 152.5h0M120.4 140.6h0M146.1 124.7h0M122.4 148.4h0M134.9 103.4h0M142.2 130.9h0M121.4 120.1h0M117.4 126.9h0M132.1 131.2h0M118.5 147.5h0M159.1 120.2h0M165.2 154.9h0M131.6 142.7h0M190.5 107.6h0M152.7 120.5h0M122.5 124.1h0M179.7 140.5h0M122.3 109.4h0M125.0 116.3h0M170.9 134.3h0M128.3 111.7h0M125.5 134.4h0M150.2 128.9h0M251.5 117.0h0M114.0 134.5h0M209.2 127.1h0M123.2 134.5h0M118.7 130.7h0M153.7 138.0h0M175.1 133.7h0M119.6 142.1h0M141.6 123.3h0M135.5 124.0h0M162.8 122.9h0M182.6 131.3h0M174.6 107.6h0M120.6 158.0h0M142.6 138.5h0M134.4 150.9h0M143.9 139.9h0M213.5 142.5h0M128.1 127.6h0M114.4 118.0h0M150.1 129.8h0M188.9 133.9h0M125.1 127.3h0M133.3 141.4h0M122.8 141.6h0M113.3 134.4h0M132.5 144.5h0M262.7 116.7h0M127.9 149.5h0M139.7 128.8h0M115.4 144.5h0M181.0 143.5h0M140.0 130.3h0M141.4 163.9h0M248.9 110.4h0M143.4 134.3h0M157.6 129.8h0M239.3 102.6h0M116.0 129.3h0M186.1 143.0h0M223.4 120.7h0M263.9 116.5h0M113.9 133.4h0M116.8 146.9h0M131.1 150.2h0M134.2 133.8h0M165.2 106.2h0M126.5 125.0h0M113.4 156.4h0M143.7 136.2h0M156.7 114.5h0M133.8 144.7h0M129.8 129.1h0M173.3 125.9h0M147.8 109.5h0M131.2 146.1h0M117.5 150.6h0M147.2 142.4h0M231.0 117.3h0M139.2 134.3h0M128.9 141.0h0M149.3 123.0h0M131.8 137.7h0M122.9 142.3h0M121.8 162.4h0M123.4 153.2h0M143.9 126.9h0M139.3 132.4h0M238.0 109.4h0M119.6 139.8h0M119.5 148.3h0M119.4 141.6h0M173.9 131.6h0M127.8 156.8h0M125.8 145.9h0M128.5 121.4h0M130.9 144.6h0M140.0 132.5h0M119.6 157.9h0M153.5 118.1h0M116.6 135.2h0M195.9 150.2h0M195.4 102.2h0M128.9 136.1h0M146.2 125.1h0M115.0 146.8h0M124.2 141.8h0M170.9 141.4h0M125.9 137.1h0M161.3 148.0h0M171.5 135.5h0M127.8 131.3h0M170.4 110.2h0M120.0 147.0h0M114.2 136.4h0M206.9 124.7h0M130.9 135.0h0M129.7 143.1h0M137.9 132.4h0M137.7 110.2h0M124.3 153.7h0M120.2 130.9h0M115.8 134.4h0M125.4 136.1h0M125.8 113.6h0M121.6 128.5h0M129.7 118.1h0M134.4 149.1h0M115.0 119.7h0M261.1 135.0h0M114.5 142.5h0M177.6 130.8h0M145.0 141.0h0M241.7 112.0h0M141.5 133.0h0M151.7 143.3h0M158.1 132.1h0M190.5 131.2h0M127.1 132.6h0M142.8 146.3h0M125.8 140.5h0M143.4 149.3h0M118.9 142.9h0M129.8 136.0h0M113.5 123.4h0M134.2 155.9h0M154.5 129.9h0M138.4 134.0h0M187.3 114.1h0M121.0 131.0h0M139.9 128.7h0M119.2 132.0h0M130.8 138.4h0M119.2 150.4h0M174.9 140.9h0M116.6 150.7h0M223.7 118.6h0M134.0 142.9h0M126.5 136.1h0M135.7 131.9h0M145.9 141.3h0M118.1 151.8h0M228.5 143.9h0M154.2 121.7h0M116.6 149.1h0M117.3 141.0h0M150.0 141.1h0M118.3 113.4h0M127.2 140.4h0M237.8 117.8h0M116.1 166.3h0M190.8 135.6h0M123.6 118.4h0M191.3 124.3h0M232.3 137.2h0M188.0 132.4h0M143.2 131.6h0M150.0 141.6h0M135.7 122.3h0M125.0 137.9h0M123.5 120.4h0M127.0 157.6h0M141.6 149.7h0M131.6 152.6h0M127.2 149.4h0M124.7 147.2h0M113.7 145.0h0M139.5 146.2h0M121.4 147.3h0M194.1 142.7h0M131.3 110.1h0M125.3 138.0h0M162.9 107.0h0M146.4 107.7h0M114.1 120.8h0M119.6 147.6h0M134.6 145.8h0M171.7 109.1h0M182.2 112.8h0M121.7 100.7h0M128.6 130.3h0M114.3 136.5h0M121.0 148.7h0M195.3 120.6h0M169.9 123.0h0M187.1 130.3h0M149.3 129.5h0M143.9 127.1h0M115.0 129.4h0M220.9 105.0h0M136.2 139.0h0M119.4 127.8h0M185.3 119.4h0M165.6 104.0h0M117.4 103.7h0M189.5 120.3h0M201.7 135.2h0M129.8 124.9h0M120.2 112.7h0M166.4 135.2h0M127.8 149.1h0M136.7 142.1h0M120.3 151.1h0M118.8 139.2h0M208.8 122.6h0M132.3 146.9h0M145.9 145.5h0M199.0 110.0h0M139.3 139.3h0M134.3 137.2h0M115.2 126.5h0M147.3 141.2h0M179.2 138.0h0M154.1 106.7h0M149.3 137.7h0M143.2 146.8h0M137.1 149.0h0M145.0 109.0h0M141.1 141.5h0M137.2 137.9h0M127.5 145.4h0M127.7 130.7h0M136.5 129.0h0M196.3 137.9h0M198.8 125.3h0M119.5 128.2h0M122.6 140.5h0M130.6 128.3h0M157.3 156.2h0M122.1 156.4h0M139.9 147.7h0M143.2 164.2h0M149.8 116.4h0M115.0 135.4h0M175.2 114.4h0M261.9 114.1h0M130.2 141.4h0M166.0 141.2h0M129.8 148.3h0M218.5 107.1h0M123.7 141.4h0M132.7 151.6h0M166.6 120.3h0M148.9 124.3h0M173.0 147.5h0M157.3 132.7h0M136.2 148.1h0M203.4 131.7h0M144.4 151.7h0M118.6 126.1h0M128.4 139.3h0M121.2 128.4h0M141.1 144.4h0M115.7 139.8h0M154.0 127.6h0M159.6 131.9h0M152.1 128.3h0M127.8 144.5h0M120.3 130.6h0M195.5 109.3h0M114.1 131.5h0M132.6 124.8h0M168.0 131.5h0M199.7 121.9h0M153.4 122.6h0M191.3 145.9h0M116.4 128.8h0M151.1 122.8h0M201.1 107.0h0M122.3 141.2h0M155.6 134.5h0M160.9 101.1h0M168.9 147.0h0M113.9 148.4h0M205.8 134.8h0M164.5 140.8h0M132.7 118.3h0M172.9 128.5h0M137.7 143.8h0M120.5 123.6h0M114.4 125.7h0M118.1 124.6h0M145.1 131.1h0M145.9 126.6h0M116.4 149.8h0M122.1 130.4h0M127.0 121.9h0M151.7 143.0h0M113.2 150.3h0M144.0 102.9h0M158.4 144.8h0M240.6 120.2h0M193.4 129.8h0M161.2 130.2h0M116.4 123.4h0M213.2 96.8h0M135.5 119.7h0M161.6 153.8h0M174.3 144.7h0M117.1 131.0h0M138.2 143.3h0M144.5 144.7h0M151.9 135.7h0M184.6 134.7h0M115.3 142.1h0M205.1 117.3h0M130.6 156.3h0M116.3 141.9h0M154.0 143.5h0M194.0 107.5h0M114.1 114.3h0M119.6 144.4h0M142.7 123.5h0M169.0 133.8h0M163.2 129.3h0M157.9 116.1h0M128.7 148.4h0M158.9 138.0h0M117.0 143.4h0M127.7 136.9h0M121.5 154.0h0M121.1 161.0h0M161.0 141.7h0M144.8 137.6h0M141.4 130.4h0M163.2 144.1h0M150.7 131.7h0M216.5 103.2h0M137.6 142.7h0M129.8 119.9h0M114.7 132.0h0M117.8 139.6h0M136.3 125.7h0M141.3 145.2h0M151.7 130.3h0M135.7 121.9h0M141.7 140.6h0M124.8 151.3h0M129.2 118.9h0M170.0 131.0h0M200.4 127.6h0M119.3 136.7h0M138.2 141.7h0M169.0 116.5h0M114.5 149.4h0M136.5 162.5h0M121.5 110.6h0M119.6 147.0h0M185.3 111.1h0M115.5 147.8h0M168.3 150.6h0M148.9 119.1h0M137.9 151.8h0M130.1 146.7h0M126.4 128.0h0M127.7 142.4h0M135.6 139.9h0M157.7 121.5h0M119.0 142.3h0M116.0 132.0h0M182.4 145.3h0M215.1 102.9h0M113.5 122.5h0M184.5 128.7h0M165.7 119.4h0M114.5 118.6h0M133.4 138.2h0M127.1 118.0h0M141.9 141.1h0M117.9 134.0h0M123.9 116.2h0M149.0 149.3h0M160.1 145.8h0M190.1 109.9h0M117.3 156.3h0M120.0 125.6h0M130.7 125.0h0M138.7 124.0h0M129.9 148.3h0M116.3 120.7h0M193.4 133.1h0M132.5 135.0h0M115.5 112.1h0M145.4 121.6h0M119.9 125.6h0M147.3 156.1h0M128.9 136.2h0M148.3 143.2h0M177.9 136.7h0M127.3 124.7h0M154.1 157.3h0M158.1 127.8h0M195.1 115.7h0M140.9 152.3h0M132.4 141.0h0M181.3 144.5h0M208.9 123.6h0M190.0 128.4h0M153.9 123.6h0M135.8 145.4h0M136.5 112.9h0M231.7 123.5h0M181.0 150.4h0M129.9 135.4h0M163.9 122.0h0M124.4 126.8h0M191.2 145.2h0M143.9 138.5h0M159.6 133.9h0M115.6 150.2h0M165.4 108.4h0M154.7 130.5h0M124.5 137.3h0M116.0 122.0h0M124.9 135.7h0M189.0 104.9h0M186.7 134.5h0M192.7 149.6h0M136.6 147.2h0M143.3 137.7h0M159.9 143.4h0M122.8 130.3h0M130.9 144.5h0M223.9 110.3h0M146.2 133.1h0M127.7 142.3h0M126.7 141.0h0M115.7 133.5h0M154.2 122.5h0M145.1 145.0h0M163.3 130.0h0M156.3 149.4h0M124.2 142.5h0M113.8 138.1h0M114.3 141.3h0M115.2 142.9h0M159.2 134.7h0M149.1 133.2h0M238.0 123.1h0M129.2 146.7h0M163.4 135.9h0M127.5 147.0h0M155.6 124.2h0M146.3 137.8h0M128.3 135.8h0M182.7 119.2h0M117.7 139.4h0M173.6 132.3h0M177.1 140.5h0M118.5 144.6h0M188.7 123.2h0M148.7 145.4h0M124.3 123.9h0M122.5 147.4h0M133.6 132.5h0M126.4 142.4h0M121.2 122.6h0M252.9 121.1h0M141.5 119.7h0M241.0 120.3h0M122.4 145.4h0M164.4 135.5h0M139.6 125.1h0M250.3 113.2h0M250.1 111.5h0M124.7 112.5h0M113.3 141.8h0M119.7 108.1h0M162.6 137.7h0M245.7 108.8h0M249.4 119.2h0M167.1 128.4h0M114.2 131.8h0M210.0 126.1h0M127.0 152.3h0M123.7 149.5h0M134.5 131.4h0M184.4 138.1h0M126.6 126.9h0M130.3 134.5h0M114.6 144.2h0M151.4 137.2h0M113.2 147.6h0M178.6 123.4h0M113.3 137.5h0M165.1 109.3h0M129.4 139.3h0M125.3 139.9h0M225.8 116.5h0M135.9 157.6h0M135.8 137.0h0M154.8 131.4h0M153.8 145.2h0M158.9 131.0h0M115.8 135.1h0M137.6 133.5h0M147.9 126.2h0M203.2 105.8h0M128.0 145.3h0M116.1 139.0h0M116.4 137.4h0M155.5 127.9h0M130.8 142.4h0M114.5 135.4h0M132.2 144.9h0M202.1 113.1h0M122.7 111.9h0M121.9 139.9h0M141.1 132.9h0M114.7 111.7h0M146.3 127.1h0M191.5 122.5h0M139.3 162.5h0M186.1 127.4h0M114.1 142.6h0M119.1 138.5h0M113.4 137.0h0M176.9 135.3h0M155.8 144.3h0M116.9 124.1h0M130.8 130.4h0M159.4 135.0h0M138.0 140.8h0M137.7 145.6h0M127.2 115.3h0M121.2 147.9h0M135.5 128.4h0M153.9 142.0h0M119.9 132.1h0M179.4 136.7h0M148.0 97.3h0M122.9 146.7h0M117.7 135.4h0M188.8 115.3h0M211.3 128.0h0M115.7 107.4h0M138.8 125.0h0M214.5 124.7h0M134.4 121.0h0M141.7 125.5h0M139.9 146.9h0M122.7 116.0h0M119.8 151.6h0M184.7 143.1h0M171.3 126.2h0M115.0 128.6h0M258.6 129.4h0M130.9 154.6h0M188.6 129.2h0M128.0 139.7h0M132.9 141.1h0M160.8 142.7h0M124.9 144.3h0M144.8 144.9h0M144.0 140.3h0M194.8 152.9h0M132.7 143.8h0M221.9 122.9h0M139.0 146.6h0M151.4 152.3h0M132.5 135.8h0M178.5 139.0h0M148.9 146.5h0M114.2 128.3h0M183.1 130.1h0M150.8 139.0h0M199.0 102.6h0M123.4 117.7h0M125.4 139.6h0M126.9 142.2h0M149.9 148.8h0M113.8 123.2h0M114.8 139.1h0M150.7 144.6h0M141.0 122.5h0M132.2 128.8h0M134.2 122.1h0M129.4 135.1h0M117.8 140.1h0M132.4 129.8h0M204.4 119.0h0M122.3 142.0h0M155.9 123.9h0M130.6 111.3h0M172.5 131.1h0M181.0 127.7h0M120.5 140.2h0M122.4 156.4h0M115.2 122.0h0M128.2 106.6h0M145.3 134.0h0M172.3 140.7h0M114.0 157.3h0M116.1 149.6h0M176.5 138.1h0M126.8 133.0h0M114.0 144.3h0M182.7 151.7h0M118.3 163.4h0M131.6 127.0h0M130.8 148.1h0M167.9 115.0h0M125.5 112.1h0M145.2 146.7h0M128.0 135.2h0M158.0 134.4h0M121.9 134.9h0M180.2 158.9h0M125.2 152.8h0M130.1 151.0h0M118.2 139.9h0M113.4 134.2h0M120.6 112.9h0M227.1 98.8h0M199.6 116.7h0M117.9 152.6h0M158.2 113.9h0M196.5 136.4h0M182.7 131.9h0M117.9 123.0h0M121.0 148.7h0M189.7 132.5h0M116.4 144.0h0M208.0 145.3h0M223.5 126.5h0M125.1 130.1h0M233.8 105.8h0M163.8 129.3h0M115.4 149.3h0M191.9 143.1h0M146.4 113.7h0M115.1 133.4h0M135.4 147.3h0M163.2 144.1h0M127.8 122.5h0M122.1 118.8h0M126.1 133.8h0M251.8 120.8h0M184.5 146.2h0M114.9 145.5h0M132.3 137.4h0M120.7 142.5h0M129.4 141.7h0M122.3 148.2h0M183.9 127.2h0M132.4 129.2h0M120.7 134.2h0M147.5 142.2h0M123.0 139.2h0M195.4 142.7h0M253.1 120.6h0M152.1 140.1h0M178.0 145.4h0M140.9 142.4h0M176.0 160.8h0M127.6 125.4h0M161.7 144.4h0M125.6 141.6h0M128.8 144.2h0M133.3 148.4h0M142.4 135.8h0M125.2 133.7h0M114.9 136.6h0M140.0 120.8h0M167.6 112.2h0M208.5 118.6h0M128.8 143.6h0M194.5 130.2h0M144.7 148.7h0M160.3 136.7h0M137.2 117.7h0M141.8 128.7h0M152.9 140.4h0M144.1 148.4h0M131.1 137.1h0M224.0 124.3h0M166.3 133.6h0M122.4 125.1h0M116.0 129.7h0M118.3 152.5h0M152.2 135.1h0M208.8 121.2h0M120.6 147.3h0M241.9 130.9h0M194.0 101.5h0M169.8 137.9h0M139.0 141.4h0M149.3 132.7h0M256.7 117.4h0M150.9 138.9h0M230.4 124.5h0M168.4 136.4h0M211.5 120.5h0M119.7 141.2h0M127.9 137.9h0M150.5 140.5h0M118.1 122.8h0M143.3 137.1h0M115.7 142.9h0M189.8 118.4h0M175.1 106.2h0M118.4 112.6h0M126.0 119.6h0M119.0 140.0h0M151.2 158.7h0M136.4 145.0h0M135.7 114.3h0M180.6 137.5h0M201.0 121.8h0M143.2 147.5h0M117.9 135.1h0M115.2 108.7h0M240.0 117.0h0M149.3 137.4h0M120.1 145.3h0M133.2 122.2h0M160.5 130.5h0M147.7 128.1h0M115.0 146.5h0M124.9 159.9h0M162.1 134.9h0M130.1 146.2h0M154.2 127.0h0M122.0 147.2h0M199.3 135.2h0M131.1 136.2h0M137.9 125.3h0M139.1 151.3h0M115.5 132.3h0M114.3 118.2h0M145.7 155.0h0M128.7 158.6h0M126.7 146.7h0M124.4 141.2h0M117.6 156.9h0M161.5 139.7h0M176.4 125.5h0M152.8 121.7h0M127.4 128.0h0M152.5 131.7h0M120.7 121.2h0M180.8 125.2h0M116.4 112.4h0M235.0 133.5h0M158.6 138.7h0M138.2 148.2h0M233.1 133.8h0M130.1 130.8h0M179.3 133.5h0M126.6 117.5h0M124.8 116.4h0M128.9 121.0h0M144.7 139.8h0M144.9 148.1h0M166.9 144.8h0M158.8 114.6h0M113.3 132.9h0M116.9 144.6h0M138.9 141.6h0M143.5 138.2h0M133.5 162.4h0M182.9 117.6h0M135.5 138.8h0M199.0 144.6h0M219.3 117.8h0M139.3 138.5h0M170.2 131.9h0M146.0 133.0h0M115.3 140.1h0M206.5 125.2h0M128.1 114.8h0M144.7 139.8h0M130.0 137.5h0M116.8 148.1h0M114.8 126.6h0M126.9 118.4h0M192.8 125.8h0M218.1 115.5h0M144.5 132.0h0M201.0 128.9h0M138.8 135.2h0M120.9 114.1h0M124.1 119.3h0M149.1 131.0h0M120.3 137.4h0M124.6 145.2h0M168.0 134.1h0M161.3 106.6h0M124.7 134.3h0M162.0 104.6h0M149.4 136.5h0M136.8 162.4h0M136.6 132.7h0M159.4 130.4h0M136.2 129.5h0M135.2 140.3h0M117.4 140.5h0M140.9 144.6h0M119.4 130.5h0M137.4 138.6h0M149.1 133.6h0M179.2 123.0h0M144.0 132.8h0M128.0 116.5h0M136.7 144.3h0M121.8 116.9h0M146.8 146.8h0M124.3 141.1h0M175.0 122.4h0M118.7 147.0h0M138.9 122.2h0M114.7 143.7h0M133.5 135.2h0M143.2 136.9h0M152.4 135.9h0M140.2 150.9h0M156.6 143.6h0M169.3 139.6h0M164.0 115.8h0M113.6 144.9h0M117.0 112.2h0M178.0 142.0h0M141.1 130.2h0M121.4 142.2h0M148.6 125.4h0M141.1 130.9h0M121.4 141.1h0M130.0 151.5h0M117.8 144.0h0M129.3 147.6h0M114.7 142.9h0M137.8 116.8h0M203.3 106.8h0M126.6 129.1h0M152.4 106.6h0M133.6 140.4h0M181.1 120.9h0M229.7 123.5h0M161.2 130.7h0M179.0 127.7h0M126.2 135.8h0M139.3 126.9h0M134.7 132.4h0M126.1 133.1h0M138.8 141.5h0M148.2 145.4h0M165.7 136.4h0M137.2 137.0h0M144.6 126.4h0M158.4 122.9h0M160.5 138.7h0M113.8 126.6h0M135.5 114.1h0M252.8 123.3h0M167.3 138.5h0M129.9 130.4h0M123.2 135.6h0M176.5 147.5h0M206.4 133.1h0M155.0 138.2h0M143.6 125.0h0M183.2 159.6h0M133.8 136.6h0M226.2 126.2h0M211.2 117.1h0M148.0 153.3h0M184.7 115.0h0M196.0 118.1h0M132.0 140.9h0M219.3 121.6h0M174.4 132.0h0M239.9 112.2h0M122.4 126.3h0M126.9 123.1h0M208.1 123.8h0M170.3 105.6h0M117.9 143.5h0M126.7 141.1h0M141.8 145.3h0M147.1 135.3h0M128.2 127.2h0M143.9 153.2h0M140.3 144.6h0M181.9 115.3h0M125.4 143.3h0M165.8 133.1h0M159.4 129.6h0M131.4 143.9h0M151.4 139.8h0M129.6 127.7h0M140.0 139.3h0M117.9 140.5h0M141.3 140.8h0M129.9 113.3h0M188.6 117.2h0M179.0 147.9h0M121.2 159.0h0M128.8 124.3h0M114.8 156.5h0M129.5 151.0h0M165.3 139.8h0M243.4 104.6h0M145.2 137.6h0M118.2 127.0h0M129.1 122.2h0M163.5 140.7h0M126.5 127.8h0M178.4 127.1h0M122.1 107.8h0M150.8 151.7h0M164.2 136.0h0M143.1 115.8h0M119.6 145.6h0M149.7 148.1h0M141.9 137.6h0M239.5 129.8h0M116.8 137.0h0M155.8 147.8h0M226.0 132.6h0M129.8 139.2h0M267.3 115.2h0M117.2 127.5h0M209.8 107.0h0M137.7 136.3h0M144.4 141.0h0M164.7 121.0h0M150.0 129.6h0M179.5 111.6h0M178.1 139.9h0M124.4 154.4h0M146.2 129.4h0M117.0 128.5h0M164.9 143.4h0M115.4 142.8h0M199.7 125.5h0M121.9 141.6h0M256.5 106.8h0M165.9 155.5h0M148.8 125.2h0M153.0 128.7h0M138.1 140.4h0M160.3 137.0h0M145.7 136.0h0M119.9 124.5h0M162.5 114.5h0M149.7 142.9h0M142.2 148.6h0M127.3 137.8h0M173.2 118.4h0M172.6 131.5h0M201.6 109.9h0M135.0 144.1h0M118.1 150.1h0M146.4 149.7h0M157.8 134.7h0M131.5 136.1h0M213.8 126.9h0M143.7 130.4h0M138.5 130.7h0M137.5 129.6h0M121.0 136.7h0M116.2 155.1h0M225.4 106.9h0M188.7 129.8h0M122.0 122.5h0M231.1 132.6h0M154.6 148.3h0M147.2 122.8h0M120.4 129.0h0M121.8 132.5h0M147.6 161.5h0M118.3 149.5h0M203.9 114.6h0M142.6 139.4h0M125.3 144.9h0M134.0 130.9h0M138.2 138.2h0M121.4 134.9h0M120.1 110.9h0M124.7 136.2h0M206.9 118.3h0M161.0 139.1h0M258.5 127.2h0M165.6 139.7h0M146.1 126.6h0M126.1 142.8h0M117.5 111.6h0M215.7 123.3h0M174.0 114.5h0M172.6 132.0h0M173.7 130.2h0M119.7 146.0h0M137.1 139.8h0M154.6 137.9h0M115.2 129.6h0M118.9 126.9h0M151.8 124.1h0M120.4 148.7h0M128.3 124.7h0M121.5 156.0h0M151.4 122.1h0M146.4 126.1h0M234.9 114.2h0M138.7 144.2h0M183.3 136.1h0M146.1 141.4h0M137.7 156.7h0M157.1 138.2h0M138.4 134.1h0M128.2 135.1h0M118.0 137.2h0M117.4 127.3h0M159.6 138.5h0M117.0 135.9h0M125.8 125.1h0M160.1 127.9h0M134.4 131.2h0M140.0 119.1h0M114.4 170.2h0M121.3 172.0h0M121.3 177.6h0M170.3 165.7h0M132.9 87.3h0M118.0 90.2h0M180.8 86.5h0M233.1 87.3h0M195.7 158.3h0M263.0 115.5h0M260.0 118.1h0" stroke="#de6552" stroke-width="4.50" stroke-linecap="round" fill="none"/>
<line x1="40.6" x2="325.3" y1="142.66" y2="142.66" stroke="#000" stroke-width="1.4"/>
<line x1="40.6" x2="325.3" y1="120.36" y2="120.36" stroke="#808080" stroke-width="1.4" stroke-dasharray="5.09 2.2"/>
<line x1="40.6" x2="325.3" y1="164.58" y2="164.58" stroke="#808080" stroke-width="1.4" stroke-dasharray="5.09 2.2"/>
</g>
<rect x="40.6" y="34.5" width="284.7" height="223.0" fill="none" stroke="#000" stroke-opacity="0.88" stroke-width="0.8"/>
<line x1="37.1" x2="40.6" y1="257.50" y2="257.50" stroke="#000" stroke-width="0.8"/>
<text x="33.7" y="262.9" font-size="14.60" text-anchor="end" textLength="8.1" lengthAdjust="spacingAndGlyphs">3</text>
<rect x="16.5" y="258.03" width="7.7" height="1.15" fill="#000"/>
<line x1="37.1" x2="40.6" y1="220.33" y2="220.33" stroke="#000" stroke-width="0.8"/>
<text x="33.7" y="225.7" font-size="14.60" text-anchor="end" textLength="8.1" lengthAdjust="spacingAndGlyphs">2</text>
<rect x="16.5" y="220.86" width="7.7" height="1.15" fill="#000"/>
<line x1="37.1" x2="40.6" y1="183.17" y2="183.17" stroke="#000" stroke-width="0.8"/>
<text x="33.7" y="188.6" font-size="14.60" text-anchor="end" textLength="8.1" lengthAdjust="spacingAndGlyphs">1</text>
<rect x="16.5" y="183.70" width="7.7" height="1.15" fill="#000"/>
<line x1="37.1" x2="40.6" y1="146.00" y2="146.00" stroke="#000" stroke-width="0.8"/>
<text x="33.7" y="151.4" font-size="14.60" text-anchor="end" textLength="8.1" lengthAdjust="spacingAndGlyphs">0</text>
<line x1="37.1" x2="40.6" y1="108.83" y2="108.83" stroke="#000" stroke-width="0.8"/>
<text x="33.7" y="114.2" font-size="14.60" text-anchor="end" textLength="8.1" lengthAdjust="spacingAndGlyphs">1</text>
<line x1="37.1" x2="40.6" y1="71.67" y2="71.67" stroke="#000" stroke-width="0.8"/>
<text x="33.7" y="77.1" font-size="14.60" text-anchor="end" textLength="8.1" lengthAdjust="spacingAndGlyphs">2</text>
<line x1="37.1" x2="40.6" y1="34.50" y2="34.50" stroke="#000" stroke-width="0.8"/>
<text x="33.7" y="39.9" font-size="14.60" text-anchor="end" textLength="8.1" lengthAdjust="spacingAndGlyphs">3</text>
<line x1="80.60" x2="80.60" y1="257.5" y2="261.0" stroke="#000" stroke-width="0.8"/>
<text x="80.5" y="273.5" font-size="14.60" text-anchor="middle" textLength="8.1" lengthAdjust="spacingAndGlyphs">2</text>
<line x1="140.40" x2="140.40" y1="257.5" y2="261.0" stroke="#000" stroke-width="0.8"/>
<text x="140.3" y="273.5" font-size="14.60" text-anchor="middle" textLength="8.1" lengthAdjust="spacingAndGlyphs">4</text>
<line x1="200.20" x2="200.20" y1="257.5" y2="261.0" stroke="#000" stroke-width="0.8"/>
<text x="200.1" y="273.5" font-size="14.60" text-anchor="middle" textLength="8.1" lengthAdjust="spacingAndGlyphs">6</text>
<line x1="260.00" x2="260.00" y1="257.5" y2="261.0" stroke="#000" stroke-width="0.8"/>
<text x="259.9" y="273.5" font-size="14.60" text-anchor="middle" textLength="8.1" lengthAdjust="spacingAndGlyphs">8</text>
<text x="183.0" y="29.8" font-size="10.30" text-anchor="middle" textLength="217.4" lengthAdjust="spacingAndGlyphs">MetCart METs vs Proposed Method's METs</text>
<text x="138.9" y="289.4" font-size="11.40" textLength="82.6" lengthAdjust="spacingAndGlyphs">MetCart METs</text>
<text x="174.8" y="316.0" font-size="10.80" textLength="15.4" lengthAdjust="spacingAndGlyphs">(a)</text>
<text transform="translate(9.0 146.5) rotate(-90)" text-anchor="middle" font-size="9.4" textLength="207.5" lengthAdjust="spacingAndGlyphs">MetCart METs - Proposed Method's METs</text>
<clipPath id="c1"><rect x="398.2" y="34.5" width="284.8" height="223.0"/></clipPath>
<g clip-path="url(#c1)">
<path d="M435.0 153.7h0M424.8 111.3h0M435.5 157.6h0M432.5 123.9h0M437.8 136.7h0M451.1 117.4h0M447.1 172.0h0M466.3 164.2h0M441.1 136.1h0M442.9 173.4h0M425.4 127.2h0M435.8 151.2h0M451.4 135.7h0M445.1 134.0h0M451.6 126.4h0M436.1 131.4h0M461.3 97.5h0M461.5 133.8h0M454.9 138.7h0M457.0 142.3h0M460.0 134.5h0M448.8 150.2h0M433.5 131.3h0M467.1 170.4h0M441.2 146.8h0M425.6 173.1h0M434.7 149.4h0M444.8 106.5h0M448.0 123.1h0M454.5 182.3h0M443.8 134.4h0M464.2 176.6h0M462.8 112.1h0M438.9 134.4h0M457.8 154.4h0M457.1 126.2h0M437.7 169.6h0M443.3 170.8h0M449.4 154.7h0M427.6 165.4h0M429.3 157.8h0M445.8 147.1h0M446.7 186.1h0M460.6 102.2h0M462.1 140.8h0M425.6 164.3h0M426.0 171.0h0M439.6 156.7h0M459.8 120.1h0M440.9 155.1h0M430.7 152.1h0M427.7 126.8h0M456.9 176.7h0M444.9 171.2h0M451.1 145.3h0M464.7 172.2h0M451.2 114.4h0M429.0 185.7h0M439.6 101.0h0M457.4 157.8h0M423.5 157.9h0M464.9 141.0h0M464.8 119.3h0M432.9 142.9h0M467.9 118.2h0M448.8 120.8h0M432.3 171.8h0M455.0 137.6h0M454.9 156.7h0M453.9 177.6h0M463.7 158.5h0M460.6 126.7h0M426.6 102.6h0M435.9 130.8h0M451.1 97.5h0M441.8 184.4h0M443.2 145.5h0M435.1 158.8h0M424.2 179.8h0M442.9 168.3h0M463.6 137.0h0M437.2 172.7h0M459.5 123.1h0M427.2 170.9h0M461.5 149.6h0M436.4 166.8h0M452.7 165.3h0M447.6 183.1h0M456.6 127.7h0M442.2 181.8h0M442.1 127.8h0M434.8 182.0h0M441.5 97.2h0M463.1 107.3h0M446.8 128.3h0M447.2 135.3h0M467.3 108.7h0M448.6 107.0h0M450.3 189.9h0M459.5 138.8h0M437.1 186.7h0M465.5 131.0h0M452.4 127.2h0M441.9 167.2h0M467.2 170.5h0M464.6 102.9h0M433.1 123.4h0M451.7 135.8h0M446.4 152.5h0M423.4 188.0h0M443.0 162.9h0M454.4 165.0h0M458.5 192.0h0M465.3 106.5h0M446.6 136.9h0M432.9 143.3h0M451.9 114.4h0M435.7 113.6h0M437.4 119.6h0M427.9 142.7h0M450.5 169.0h0M429.1 134.7h0M467.9 151.2h0M458.5 137.6h0M458.2 153.1h0M457.2 126.3h0M431.5 131.8h0M425.9 125.6h0M454.2 122.1h0M436.6 158.7h0M452.8 111.5h0M451.6 150.1h0M452.5 143.1h0M436.9 146.7h0M466.4 117.8h0M467.7 147.9h0M442.5 182.6h0M439.6 144.5h0M434.7 183.7h0M446.2 163.1h0M440.9 133.2h0M462.6 162.9h0M438.8 150.6h0M464.4 122.1h0M453.4 132.8h0M438.8 136.1h0M453.4 134.5h0M428.6 151.6h0M463.7 110.9h0M450.9 128.2h0M459.8 131.7h0M436.2 141.6h0M449.8 123.7h0M432.2 154.4h0M428.5 179.1h0M430.1 179.8h0M442.5 151.2h0M454.5 154.1h0M456.4 146.4h0M432.9 121.3h0M455.9 150.1h0M442.7 166.7h0M434.5 164.1h0M424.3 143.9h0M435.5 146.0h0M452.0 143.9h0M438.2 152.6h0M436.3 149.1h0M462.9 150.0h0M453.7 138.4h0M435.6 129.4h0M450.2 145.3h0M440.7 144.4h0M433.0 188.0h0M457.3 121.9h0M437.8 183.6h0M467.0 138.6h0M425.1 142.0h0M430.2 136.6h0M442.5 137.0h0M457.9 100.9h0M429.4 113.8h0M442.3 162.8h0M441.7 175.6h0M424.1 167.1h0M436.1 164.8h0M424.2 182.0h0M431.6 140.7h0M454.2 105.9h0M460.3 144.9h0M447.2 160.1h0M442.4 164.6h0M440.1 166.8h0M446.8 113.0h0M433.8 118.6h0M458.8 131.4h0M437.1 130.9h0M448.6 154.2h0M446.0 157.4h0M435.2 143.9h0M443.4 100.1h0M431.6 139.6h0M432.5 146.4h0M445.5 101.5h0M461.1 146.3h0M436.7 191.8h0M452.7 158.6h0M438.4 181.2h0M445.2 120.8h0M427.6 112.8h0M439.6 167.4h0M467.7 122.8h0M454.7 119.3h0M445.1 126.9h0M432.0 174.2h0M431.8 121.1h0M452.8 188.6h0M436.0 182.3h0M434.6 125.2h0M434.3 99.0h0M457.5 136.9h0M425.7 179.4h0M443.3 107.1h0M437.1 145.6h0M441.4 150.1h0M436.8 161.0h0M457.7 150.4h0M444.5 135.2h0M457.8 189.2h0M429.7 160.7h0M447.7 152.6h0M433.9 134.8h0M444.2 145.2h0M466.2 162.4h0M424.4 117.2h0M431.7 114.6h0M455.6 156.5h0M430.8 138.6h0M446.2 109.5h0M440.5 151.7h0M436.6 156.2h0M461.5 143.7h0M445.4 144.9h0M463.5 130.9h0M452.3 137.1h0M436.2 164.3h0M460.3 155.7h0M424.3 108.4h0M465.7 143.8h0M427.6 98.7h0M464.4 138.6h0M425.9 114.3h0M431.3 147.3h0M436.8 161.3h0M464.5 137.2h0M442.2 107.4h0M461.8 166.1h0M435.6 106.4h0M457.8 111.7h0M446.4 144.2h0M458.3 120.8h0M452.6 181.9h0M456.5 153.9h0M430.8 177.7h0M429.2 118.8h0M428.5 170.5h0M462.8 104.5h0M449.0 177.3h0M432.4 191.0h0M442.9 153.6h0M456.1 166.2h0M451.5 182.9h0M454.5 123.4h0M456.0 147.8h0M462.1 163.4h0M442.0 172.1h0M433.3 152.4h0M465.0 114.5h0M463.3 155.9h0M436.8 150.3h0M457.0 163.2h0M448.6 166.8h0M453.5 167.6h0M462.8 162.9h0M445.4 151.0h0M458.7 148.5h0M438.0 151.7h0M454.8 184.6h0M440.5 157.8h0M466.7 142.6h0M427.8 177.4h0M439.6 175.3h0M443.7 180.4h0M432.3 114.3h0M442.6 124.5h0M437.4 128.8h0M448.7 185.5h0M434.3 186.5h0M433.5 166.3h0M426.8 163.1h0M436.0 156.1h0M427.1 133.6h0M453.9 166.3h0M452.3 140.4h0M450.0 138.2h0M450.8 112.2h0M458.5 99.1h0M465.2 121.2h0M462.5 153.4h0M464.9 116.2h0M430.5 165.4h0M458.0 162.9h0M455.3 142.2h0M447.6 151.7h0M436.3 136.7h0M467.3 167.6h0M424.0 110.9h0M426.0 162.0h0M451.3 172.2h0M443.5 97.0h0M455.7 168.0h0M427.2 102.2h0M465.2 144.9h0M458.8 141.8h0M454.8 152.7h0M463.2 150.3h0M441.5 142.3h0M437.0 159.1h0M456.7 154.4h0M440.8 100.5h0M426.6 132.3h0M447.1 168.4h0M458.4 143.2h0M444.0 129.6h0M428.8 97.4h0M461.1 168.9h0M467.9 156.6h0M445.7 163.1h0M439.5 113.0h0M434.8 168.6h0M435.0 133.7h0M463.2 111.1h0M429.7 153.9h0M435.2 138.3h0M452.2 157.8h0M439.8 173.5h0M461.1 132.4h0M459.0 144.9h0M427.8 113.5h0M448.0 116.6h0M424.2 185.4h0M463.3 108.5h0M462.8 162.7h0M440.2 119.4h0M426.5 128.6h0M453.8 165.0h0M462.2 184.8h0M455.1 187.6h0M433.6 146.4h0M448.9 149.8h0M457.0 175.9h0M450.7 131.4h0M453.8 159.9h0M437.2 147.4h0M431.8 101.7h0M462.0 108.1h0M440.1 116.5h0M435.7 116.5h0M428.2 141.3h0M464.0 117.7h0M429.9 177.4h0M438.3 147.4h0M431.8 172.0h0M462.2 166.3h0M437.2 158.3h0M445.7 131.9h0M456.7 137.2h0M428.7 138.9h0M447.3 153.6h0M464.0 161.6h0M461.7 153.2h0M463.6 137.5h0M436.3 146.7h0M437.3 117.0h0M428.0 158.4h0M464.3 128.2h0M424.0 122.9h0M423.7 147.9h0M429.0 146.8h0M439.1 133.3h0M460.6 157.8h0M449.2 126.0h0M449.9 151.8h0M425.7 173.9h0M454.3 157.6h0M462.2 160.5h0M425.2 148.4h0M458.9 123.2h0M443.8 154.9h0M437.4 136.4h0M457.2 138.7h0M429.6 158.0h0M443.2 134.6h0M452.4 175.6h0M444.7 134.8h0M444.5 105.7h0M442.2 100.2h0M436.7 134.8h0M430.4 120.1h0M460.0 166.3h0M435.3 186.4h0M426.4 123.5h0M458.5 127.5h0M445.9 122.8h0M453.4 141.0h0M445.3 113.7h0M460.2 136.5h0M462.2 105.9h0M443.6 140.4h0M461.1 163.0h0M460.9 102.3h0M446.9 174.7h0M465.9 185.7h0M425.8 150.1h0M444.8 135.4h0M446.9 150.1h0M430.7 175.0h0M427.9 162.2h0M450.5 177.0h0M424.5 137.4h0M464.7 126.0h0M468.2 110.5h0M428.6 134.2h0M430.8 97.5h0M461.0 147.0h0M462.0 147.6h0M450.8 109.9h0M449.0 170.2h0M458.6 109.6h0M438.4 143.9h0M456.4 105.8h0M432.8 114.3h0M443.3 143.2h0M463.5 115.0h0M441.1 130.3h0M447.5 175.2h0M441.0 143.2h0M438.9 98.3h0M424.7 161.0h0M456.9 180.6h0M464.7 167.8h0M462.0 103.1h0M441.0 199.9h0M434.5 113.9h0M455.5 105.8h0M445.6 182.0h0M449.4 112.5h0M443.3 160.4h0M459.1 152.7h0M447.1 163.1h0M427.7 114.7h0M443.2 121.7h0M452.2 105.4h0M464.9 153.8h0M437.8 115.8h0M452.9 156.8h0M438.9 152.1h0M464.6 163.2h0M446.8 131.6h0M438.1 120.4h0M442.2 138.6h0M443.7 144.0h0M449.3 137.0h0M466.1 187.2h0M462.7 132.3h0M428.9 105.6h0M449.0 129.8h0M466.3 131.9h0M457.1 139.7h0M424.6 118.5h0M428.1 130.9h0M451.7 127.8h0M464.0 127.3h0M460.2 123.5h0M457.3 185.5h0M457.5 125.7h0M442.0 114.3h0M439.0 157.2h0M466.4 90.4h0M436.5 133.4h0M428.1 141.5h0M451.5 133.7h0M465.7 191.5h0M446.0 144.9h0M449.1 164.4h0M450.3 183.0h0M425.4 136.8h0M444.2 143.7h0M429.6 157.0h0M449.5 139.5h0M458.8 160.6h0M448.7 198.4h0M430.1 136.5h0M433.1 148.9h0M434.9 108.5h0M462.4 111.8h0M453.9 123.8h0M429.6 142.2h0M426.4 122.9h0M459.8 173.7h0M448.9 96.4h0M429.8 113.2h0M442.7 97.7h0M430.7 151.3h0M455.9 145.4h0M456.2 115.9h0M465.5 162.8h0M451.3 183.4h0M438.5 181.2h0M447.4 162.8h0M457.8 145.6h0M465.9 152.7h0M442.3 124.7h0M464.7 169.4h0M450.2 111.2h0M437.1 166.8h0M453.7 147.7h0M467.7 144.9h0M462.8 124.8h0M462.2 149.9h0M455.2 96.5h0M454.3 117.2h0M438.7 152.3h0M452.3 111.7h0M450.1 162.8h0M442.7 163.2h0M467.2 146.8h0M430.8 116.5h0M433.5 181.1h0M454.6 101.0h0M424.4 142.7h0M450.0 110.5h0M429.5 173.8h0M441.6 150.3h0M444.5 117.1h0M437.8 144.3h0M446.5 121.3h0M442.8 163.8h0M442.2 173.7h0M425.6 188.7h0M460.0 129.8h0M430.7 135.6h0M456.5 119.1h0M440.2 172.6h0M433.8 170.0h0M433.3 171.9h0M436.6 162.9h0M427.1 120.6h0M456.7 111.9h0M461.9 101.9h0M440.1 98.3h0M440.4 147.2h0M440.4 164.1h0M453.6 110.3h0M464.7 128.1h0M467.8 135.3h0M458.3 134.6h0M459.2 133.8h0M436.4 189.4h0M439.0 134.9h0M458.3 130.5h0M464.2 153.5h0M446.3 168.0h0M433.6 151.0h0M441.6 184.1h0M463.4 154.5h0M454.8 152.2h0M431.5 133.0h0M456.3 136.3h0M426.0 185.3h0M425.3 168.8h0M437.3 113.8h0M463.9 153.4h0M456.8 151.3h0M453.2 155.4h0M425.4 154.4h0M455.2 140.1h0M452.7 125.8h0M455.4 137.4h0M434.1 134.7h0M458.0 179.2h0M437.4 99.7h0M433.4 140.7h0M454.8 143.9h0M425.0 161.4h0M459.0 174.7h0M466.9 122.0h0M434.5 107.1h0M450.4 137.3h0M433.2 137.7h0M458.1 162.6h0M452.4 143.3h0M450.1 170.6h0M451.3 122.3h0M460.3 160.2h0M441.3 132.9h0M436.5 132.6h0M446.6 131.8h0M430.6 151.4h0M458.1 101.5h0M434.3 164.7h0M450.4 121.1h0M463.3 128.8h0M462.6 131.3h0M462.3 133.3h0M423.8 136.3h0M461.9 121.8h0M451.9 139.1h0M433.6 125.5h0M442.3 151.2h0M467.6 133.9h0M467.3 156.8h0M447.4 174.8h0M460.3 103.5h0M428.1 142.3h0M445.2 188.0h0M425.9 146.3h0M431.7 141.0h0M432.4 180.3h0M427.4 128.2h0M460.7 179.7h0M427.8 154.3h0M451.4 83.4h0M430.3 144.6h0M456.5 190.5h0M433.6 152.1h0M431.2 173.1h0M450.8 136.7h0M449.8 141.2h0M449.5 99.6h0M458.3 156.2h0M455.9 143.1h0M461.1 171.6h0M449.4 161.4h0M424.6 185.4h0M440.7 154.9h0M439.4 160.3h0M446.2 148.1h0M458.4 183.6h0M451.3 175.9h0M457.0 174.3h0M428.5 136.4h0M464.0 170.2h0M438.7 145.1h0M449.2 133.3h0M465.6 188.1h0M459.1 138.5h0M453.5 125.6h0M466.0 145.6h0M446.5 125.7h0M443.7 139.8h0M449.6 138.1h0M449.2 130.5h0M441.8 184.6h0M459.4 153.2h0M442.6 145.8h0M459.3 157.0h0M444.1 134.4h0M441.8 100.5h0M467.6 169.6h0M439.3 144.2h0M434.1 140.7h0M442.9 95.5h0M440.6 192.4h0M437.8 117.6h0M438.7 138.7h0M451.0 108.3h0M457.7 111.7h0M459.6 163.7h0M446.4 182.1h0M449.3 174.3h0M449.0 110.7h0M456.5 130.2h0M456.5 125.8h0M434.9 179.8h0M463.4 133.6h0M442.5 137.4h0M455.4 152.8h0M455.6 137.7h0M458.7 174.8h0M455.0 156.1h0M465.7 135.6h0M447.0 135.1h0M464.0 95.9h0M445.9 113.7h0M436.1 129.1h0M460.9 110.9h0M465.4 193.3h0M428.2 148.1h0M465.3 165.9h0M438.6 120.5h0M435.0 161.6h0M428.2 133.0h0M462.1 170.2h0M445.2 102.9h0M439.0 148.5h0M437.3 107.9h0M465.2 134.2h0M455.7 98.2h0M449.3 131.5h0M444.2 117.2h0M430.6 154.5h0M437.7 145.1h0M450.4 158.7h0M443.3 159.8h0M462.1 147.7h0M433.8 148.0h0M436.4 156.7h0M441.2 142.5h0M441.4 157.1h0M463.7 137.3h0M432.9 153.0h0M428.9 109.0h0M448.7 120.1h0M431.6 112.8h0M459.1 147.2h0M454.2 126.7h0M435.4 142.5h0M457.1 154.2h0M466.5 117.4h0M426.7 173.3h0M451.0 136.1h0M428.3 156.3h0M459.2 130.6h0M443.3 148.0h0M447.6 151.8h0M438.1 104.0h0M451.9 161.2h0M425.6 115.4h0M427.0 175.6h0M442.1 143.6h0M444.6 161.2h0M425.0 190.2h0M440.7 99.1h0M424.5 182.5h0M467.1 181.9h0M442.5 176.2h0M457.3 109.9h0M430.2 98.8h0M435.2 108.7h0M454.6 183.8h0M440.6 131.2h0M447.4 116.0h0M462.1 163.4h0M448.0 160.5h0M464.0 158.1h0M436.7 118.2h0M452.3 183.5h0M430.1 129.2h0M429.3 124.9h0M442.0 108.4h0M455.0 136.5h0M445.9 134.4h0M429.5 145.6h0M451.1 141.8h0M467.2 101.1h0M464.9 130.4h0M429.2 138.5h0M437.7 170.0h0M437.9 102.8h0M440.7 139.7h0M454.8 96.4h0M461.8 147.6h0M430.2 154.2h0M455.7 158.2h0M466.4 113.9h0M465.7 142.1h0M447.7 129.1h0M431.5 151.3h0M455.6 116.6h0M460.5 122.6h0M431.0 192.3h0M435.6 173.5h0M462.8 152.2h0M451.2 151.8h0M427.3 104.8h0M465.2 135.6h0M444.6 105.4h0M453.6 109.2h0M453.2 153.0h0M431.8 173.6h0M442.5 103.4h0M440.2 141.1h0M450.0 190.0h0M460.5 170.9h0M450.9 152.3h0M446.3 170.0h0M449.1 155.5h0M467.9 154.6h0M423.8 125.7h0M449.8 136.6h0M438.3 131.3h0M429.9 143.8h0M439.5 171.7h0M424.8 145.7h0M423.9 108.6h0M450.0 162.6h0M439.6 136.7h0M447.6 185.2h0M464.2 153.1h0M441.5 187.2h0M441.5 144.9h0M468.0 173.6h0M446.5 123.6h0M423.7 105.3h0M424.2 124.3h0M441.7 101.8h0M434.2 121.5h0M437.6 150.1h0M449.2 170.0h0M453.5 125.9h0M435.2 174.2h0M449.3 122.4h0M459.9 105.2h0M439.8 172.0h0M467.1 121.5h0M444.2 131.9h0M425.1 129.6h0M452.1 165.9h0M426.1 152.6h0M435.7 165.0h0M448.1 181.6h0M441.1 198.2h0M442.9 157.2h0M458.6 128.1h0M447.7 125.1h0M463.6 161.9h0M444.0 189.5h0M438.6 152.1h0M432.8 117.3h0M442.4 132.7h0M438.6 177.1h0M441.5 166.1h0M432.1 121.6h0M457.6 143.9h0M444.0 161.1h0M435.7 185.5h0M435.9 126.9h0M459.0 153.5h0M427.2 187.9h0M440.5 187.3h0M443.8 160.0h0M455.1 162.5h0M463.6 132.8h0M428.2 118.3h0M448.5 175.3h0M465.7 137.8h0M423.6 106.1h0M425.7 139.5h0M435.3 110.0h0M454.9 130.9h0M466.9 160.8h0M449.0 121.6h0M450.4 101.1h0M451.9 148.4h0M449.5 149.2h0M424.0 177.1h0M465.6 159.5h0M428.5 172.5h0M426.5 144.4h0M456.0 148.7h0M452.5 181.2h0M451.9 181.7h0M435.4 118.6h0M452.3 106.8h0M428.2 134.5h0M441.3 163.1h0M455.4 124.6h0M423.9 176.0h0M437.9 153.7h0M438.2 128.2h0M439.1 184.6h0M466.5 154.7h0M423.8 127.0h0M435.8 157.8h0M467.9 184.6h0M437.2 142.4h0M446.8 136.1h0M455.4 128.3h0M458.6 153.0h0M440.1 117.0h0M455.0 155.4h0M437.8 146.1h0M455.4 113.8h0M463.5 95.3h0M458.3 148.4h0M456.0 178.2h0M455.3 201.8h0M457.8 154.9h0M436.1 139.9h0M433.7 132.3h0M467.3 165.1h0M435.6 160.5h0M439.0 146.1h0M437.4 143.8h0M459.4 107.7h0M454.6 121.0h0M423.9 179.4h0M437.4 161.3h0M431.9 113.3h0M455.2 138.5h0M439.3 142.8h0M459.4 123.9h0M457.2 178.1h0M433.2 149.8h0M434.3 133.1h0M431.2 153.8h0M427.8 117.6h0M467.6 129.5h0M465.3 127.1h0M460.4 142.2h0M445.7 128.7h0M447.5 134.8h0M433.9 138.5h0M424.8 173.0h0M438.4 133.7h0M446.3 103.4h0M432.7 159.2h0M461.1 176.1h0M425.6 127.8h0M432.3 162.4h0M434.3 154.7h0M463.8 157.3h0M461.3 141.8h0M431.2 115.4h0M443.4 138.0h0M435.6 134.2h0M465.0 125.9h0M457.5 116.1h0M425.2 143.0h0M439.4 167.2h0M424.5 121.8h0M447.7 172.9h0M436.3 124.4h0M467.7 139.4h0M457.5 138.0h0M440.3 136.7h0M458.1 166.8h0M462.6 185.0h0M465.7 124.2h0M439.0 136.9h0M440.5 112.4h0M448.2 146.0h0M438.2 146.2h0M429.4 156.4h0M462.8 158.8h0M448.1 119.8h0M436.8 160.5h0M424.1 151.5h0M465.9 114.1h0M430.8 120.5h0M442.7 107.6h0M467.0 130.9h0M429.6 120.8h0M441.6 108.4h0M438.3 153.2h0M431.9 117.8h0M447.9 120.0h0M463.7 164.7h0M430.3 151.3h0M437.5 100.0h0M463.5 182.8h0M443.4 137.2h0M425.1 157.7h0M438.7 145.3h0M464.7 150.6h0M449.1 152.4h0M466.8 146.9h0M426.2 152.6h0M429.1 167.8h0M462.1 177.9h0M432.9 188.7h0M433.8 156.8h0M443.3 192.2h0M454.0 151.0h0M424.4 155.4h0M440.4 136.4h0M437.2 118.0h0M446.5 115.7h0M461.6 160.9h0M434.3 179.0h0M424.4 173.8h0M431.6 112.9h0M461.8 126.2h0M443.4 132.8h0M433.3 141.6h0M424.7 130.0h0M456.8 173.3h0M442.5 148.8h0M457.0 140.5h0M434.8 133.6h0M450.4 128.2h0M457.6 170.3h0M457.6 139.5h0M467.9 108.0h0M423.7 158.4h0M451.9 152.5h0M436.8 186.9h0M464.4 141.3h0M427.3 112.0h0M436.9 158.7h0M428.2 135.7h0M464.5 118.1h0M461.0 137.7h0M446.4 127.5h0M445.5 174.4h0M465.7 166.1h0M450.9 132.9h0M433.6 138.8h0M433.9 158.6h0M437.2 114.3h0M426.6 137.2h0M449.8 189.2h0M434.0 143.4h0M439.5 137.7h0M441.9 151.2h0M452.0 180.1h0M449.2 138.7h0M444.7 149.5h0M456.0 125.6h0M451.0 165.8h0M442.8 151.6h0M466.3 95.9h0M453.8 129.9h0M427.8 172.2h0M448.4 128.8h0M432.8 139.7h0M444.8 141.1h0M440.3 154.6h0M424.7 165.5h0M437.7 128.8h0M459.9 161.8h0M434.6 147.9h0M431.8 140.1h0M425.2 156.3h0M440.3 157.9h0M426.8 145.3h0M467.1 151.0h0M457.9 111.2h0M445.7 106.1h0M459.6 187.0h0M426.3 146.9h0M431.9 171.7h0M458.2 156.3h0M444.6 156.2h0M424.8 138.9h0M436.7 107.2h0M466.4 151.4h0M451.9 113.0h0M443.1 108.4h0M434.3 194.1h0M467.3 143.7h0M443.1 194.0h0M424.7 158.8h0M458.2 148.2h0M457.0 123.1h0M430.2 189.9h0M449.3 155.9h0M438.1 152.8h0M435.8 107.4h0M459.6 158.7h0M425.5 127.6h0M457.5 160.7h0M438.2 171.6h0M435.7 105.3h0M461.9 167.4h0M447.5 119.1h0M437.8 130.1h0M463.1 130.7h0M442.7 142.6h0M430.1 119.5h0M447.6 150.7h0M430.2 129.1h0M432.9 116.7h0M460.0 120.2h0M438.3 177.0h0M457.3 139.2h0M425.5 157.9h0M448.5 121.0h0M426.1 133.9h0M428.6 130.6h0M436.3 140.9h0M423.9 154.7h0M444.6 144.7h0M424.4 144.7h0M455.3 191.2h0M423.6 122.3h0M438.2 173.3h0M455.2 169.2h0M447.2 136.1h0M446.2 145.5h0M459.5 177.8h0M460.6 161.1h0M454.7 167.0h0M430.0 136.6h0M460.2 155.0h0M439.4 108.2h0M467.1 137.1h0M437.2 117.7h0M463.2 171.2h0M442.3 149.9h0M463.9 166.5h0M459.5 96.4h0M424.7 142.8h0M461.5 180.2h0M439.1 98.8h0M436.6 143.5h0M437.5 114.2h0M464.7 152.5h0M466.3 148.7h0M424.9 166.8h0M453.1 157.9h0M458.4 185.3h0M458.1 157.6h0M423.4 150.3h0M438.6 107.9h0M450.2 124.9h0M433.6 154.4h0M425.6 133.8h0M446.4 113.0h0M425.3 113.4h0M434.4 135.0h0M427.9 130.1h0M452.0 113.1h0M427.1 123.4h0M465.0 185.6h0M437.3 151.0h0M458.5 158.7h0M433.2 154.0h0M424.3 174.1h0M455.0 97.1h0M447.4 151.1h0M467.6 142.6h0M433.5 144.9h0M462.0 172.3h0M434.1 135.0h0M447.0 137.1h0M432.1 164.9h0M466.0 157.8h0M449.0 98.2h0M442.8 111.3h0M447.4 186.7h0M462.4 146.4h0M454.6 102.5h0M444.8 161.1h0M454.4 115.9h0M427.9 148.4h0M442.4 118.9h0M437.9 161.8h0M464.3 149.3h0M447.0 145.8h0M468.1 118.9h0M435.8 98.4h0M444.0 140.9h0M461.4 102.4h0M464.2 202.4h0M453.1 174.2h0M439.0 156.7h0M455.2 158.5h0M459.2 157.1h0M450.6 150.0h0M457.4 161.8h0M456.0 154.4h0M433.0 142.6h0M434.6 143.9h0M425.7 94.2h0M466.6 172.8h0M426.1 175.8h0M457.3 98.6h0M445.7 113.2h0M465.0 129.9h0M435.0 103.2h0M466.4 158.8h0M429.4 182.3h0M428.7 146.1h0M447.0 98.1h0M432.1 157.6h0M437.2 163.0h0M444.1 123.1h0M447.4 181.5h0M461.6 132.0h0M460.8 159.4h0M427.2 132.3h0M431.3 149.1h0M427.0 168.0h0M440.8 126.5h0M454.1 112.7h0M424.4 147.3h0M435.7 161.0h0M432.2 130.3h0M428.0 162.5h0M453.3 140.2h0M450.3 153.7h0M425.9 170.5h0M437.9 182.6h0M433.6 140.5h0M443.5 98.8h0M425.5 128.7h0M466.0 145.4h0M458.4 194.0h0M440.8 173.2h0M445.7 135.7h0M461.0 155.9h0M437.2 145.4h0M465.7 145.3h0M460.6 132.6h0M447.1 157.8h0M424.1 131.7h0M467.6 178.9h0M437.3 147.6h0M430.7 132.7h0M438.1 148.6h0M423.7 156.2h0M429.7 183.9h0M445.1 151.0h0M426.9 172.2h0M440.2 148.7h0M454.9 174.8h0M454.5 119.1h0M440.7 183.7h0M448.8 158.6h0M440.5 122.1h0M448.8 170.7h0M445.8 169.4h0M428.3 185.7h0M454.2 162.6h0M441.5 108.0h0M424.4 124.7h0M463.1 106.7h0M435.9 118.4h0M426.7 136.0h0M440.1 133.1h0M437.1 104.0h0M447.3 135.6h0M456.2 125.2h0M439.5 174.3h0M452.1 175.2h0M465.9 177.5h0M466.5 165.4h0M440.4 139.7h0M462.2 117.4h0M455.1 151.6h0M441.3 118.2h0M436.1 162.0h0M438.0 96.0h0M429.5 166.0h0M430.9 164.0h0M424.9 181.9h0M427.3 128.5h0M448.4 161.8h0M426.3 188.5h0M460.5 144.6h0M459.5 172.2h0M464.1 155.7h0M463.1 140.1h0M451.3 128.6h0M429.3 163.2h0M443.5 185.8h0M454.1 137.1h0M461.6 138.8h0M460.4 121.4h0M466.7 160.9h0M427.1 151.3h0M467.6 132.9h0M440.9 137.3h0M430.6 111.2h0M432.6 146.5h0M461.1 170.9h0M455.6 122.5h0M430.2 171.9h0M454.0 177.4h0M467.1 146.8h0M449.2 169.6h0M438.0 94.5h0M436.6 148.9h0M433.7 143.4h0M445.8 123.5h0M456.6 170.9h0M459.7 129.8h0M434.6 146.7h0M460.5 135.2h0M459.1 161.0h0M438.0 133.7h0M449.6 175.3h0M441.9 142.4h0M463.9 135.8h0M424.5 132.3h0M441.0 125.2h0M448.5 178.6h0M467.5 169.9h0M466.1 169.4h0M449.3 128.8h0M460.7 122.9h0M438.6 186.5h0M428.1 160.7h0M440.6 143.3h0M432.7 150.3h0M437.1 115.1h0M448.0 135.9h0M438.2 97.3h0M445.5 146.8h0M456.2 155.7h0M462.5 156.5h0M449.3 134.5h0M461.0 144.0h0M454.2 157.4h0M459.5 133.7h0M457.4 171.2h0M458.8 150.3h0M425.8 121.9h0M451.0 166.5h0M436.6 135.1h0M429.3 112.7h0M462.2 181.3h0M452.8 167.6h0M451.2 148.1h0M466.5 105.8h0M438.0 116.2h0M425.6 108.9h0M429.1 178.5h0M457.2 158.5h0M450.6 118.6h0M431.4 169.5h0M427.3 173.6h0M451.4 167.6h0M444.7 173.1h0M433.2 169.1h0M443.8 152.1h0M456.2 157.1h0M431.2 183.3h0M446.4 168.4h0M467.3 129.3h0M423.8 135.2h0M467.8 133.8h0M429.7 141.7h0M446.4 141.7h0M460.6 176.4h0M431.4 137.2h0M460.8 129.6h0M437.2 161.9h0M444.9 139.8h0M455.3 106.9h0M461.8 125.2h0M428.8 142.5h0M427.1 163.4h0M450.0 148.0h0M433.7 154.6h0M431.3 138.8h0M446.8 104.3h0M463.9 138.3h0M461.4 148.3h0M465.4 164.5h0M453.4 156.1h0M445.9 161.7h0M431.3 124.5h0M457.5 99.6h0M450.3 134.0h0M463.3 186.5h0M446.2 164.5h0M442.8 189.5h0M458.0 140.2h0M424.0 180.1h0M462.3 181.3h0M453.7 189.6h0M434.1 173.4h0M463.0 161.7h0M427.2 128.3h0M467.4 123.7h0M439.9 154.6h0M442.5 113.4h0M440.2 112.1h0M425.1 144.3h0M447.0 123.9h0M434.8 156.5h0M456.3 119.4h0M427.0 170.9h0M425.3 140.9h0M444.9 186.1h0M463.7 128.6h0M431.9 123.3h0M424.3 162.9h0M453.1 180.3h0M455.0 170.8h0M457.4 96.3h0M464.5 140.1h0M455.0 123.9h0M448.9 110.1h0M461.0 103.4h0M450.5 177.6h0M454.3 134.4h0M455.6 175.4h0M453.7 160.5h0M464.8 153.7h0M451.6 173.9h0M437.3 146.1h0M459.9 136.5h0M464.7 169.2h0M429.0 129.0h0M465.7 177.1h0M445.7 145.7h0M430.9 110.8h0M459.8 121.3h0M467.2 128.3h0M437.0 174.8h0M467.5 135.8h0M450.3 139.4h0M452.8 142.0h0M443.6 144.7h0M450.1 175.9h0M440.9 185.6h0M432.6 166.5h0M461.8 180.9h0M447.9 160.7h0M451.8 135.7h0M428.0 163.0h0M463.0 143.9h0M446.3 142.9h0M442.1 136.8h0M438.6 163.4h0M464.5 127.5h0M435.2 133.4h0M464.1 153.6h0M435.0 157.7h0M432.3 146.8h0M447.5 96.7h0M462.0 152.9h0M464.6 188.4h0M430.0 158.5h0M455.4 181.0h0M455.0 96.0h0M435.1 101.6h0M465.8 175.7h0M424.1 136.8h0M455.7 166.7h0M453.6 118.0h0M440.2 153.0h0M466.3 165.5h0M426.0 148.2h0M434.4 139.9h0M449.7 137.8h0M454.3 126.5h0M451.0 145.5h0M467.7 123.7h0M461.7 167.2h0M447.6 116.9h0M455.8 187.9h0M449.1 157.2h0M437.7 134.4h0M433.8 175.1h0M441.3 159.5h0M423.4 121.6h0M458.3 97.2h0M443.5 163.9h0M428.6 119.1h0M426.7 139.1h0M467.9 133.1h0M440.5 157.8h0M446.7 184.1h0M459.1 121.1h0M459.1 98.9h0M456.7 126.8h0M425.4 130.8h0M452.9 104.2h0M457.9 121.1h0M427.4 140.8h0M435.6 165.5h0M455.3 170.3h0M444.2 128.5h0M446.8 144.1h0M460.0 153.9h0M439.5 169.8h0M429.2 186.2h0M459.6 97.3h0M424.9 155.9h0M460.7 119.6h0M442.2 138.4h0M424.3 130.4h0M458.4 171.3h0M441.2 179.9h0M441.8 170.3h0M423.4 155.8h0M466.4 138.2h0M461.6 124.5h0M439.5 161.8h0M429.4 120.1h0M464.9 163.9h0M445.2 166.6h0M459.9 138.4h0M428.0 139.0h0M451.9 153.3h0M439.5 189.5h0M436.2 117.3h0M460.9 121.7h0M428.0 179.0h0M444.5 164.8h0M451.5 136.5h0M428.6 141.6h0M467.0 116.8h0M461.7 201.6h0M467.8 132.6h0M462.9 186.8h0M455.2 131.3h0M442.5 176.3h0M440.9 123.6h0M426.9 124.8h0M431.7 187.9h0M427.8 140.4h0M433.1 160.0h0M430.2 163.8h0M445.4 144.3h0M443.3 150.1h0M425.0 141.9h0M462.1 144.6h0M425.9 144.3h0M444.6 110.0h0M452.6 165.9h0M463.5 139.7h0M452.9 147.4h0M467.3 129.4h0M449.9 134.4h0M448.8 162.5h0M466.5 136.7h0M452.3 108.5h0M463.7 119.1h0M426.5 138.8h0M438.5 154.5h0M440.6 122.7h0M433.0 98.4h0M450.6 161.6h0M464.5 174.1h0M451.1 158.9h0M465.7 127.1h0M449.3 101.0h0M454.8 125.2h0M459.7 155.1h0M458.8 135.0h0M441.5 162.9h0M447.4 142.2h0M441.8 133.6h0M427.2 121.4h0M457.0 164.1h0M434.2 139.1h0M457.9 108.7h0M440.2 140.3h0M434.4 160.3h0M442.0 148.2h0M442.5 146.7h0M432.6 115.5h0M458.4 105.9h0M443.7 107.5h0M453.2 147.0h0M444.6 143.5h0M438.7 114.3h0M450.3 129.1h0M435.3 93.6h0M456.1 103.0h0M423.6 173.0h0M462.2 143.0h0M454.6 100.1h0M444.2 169.3h0M433.7 160.5h0M457.4 125.6h0M433.3 156.1h0M436.7 135.9h0M433.2 136.7h0M424.9 100.1h0M440.8 154.2h0M445.6 145.4h0M448.9 154.0h0M464.8 111.4h0M429.9 165.6h0M448.8 179.8h0M443.9 188.6h0M425.0 99.1h0M450.5 163.9h0M427.3 143.1h0M456.4 135.1h0M455.1 149.5h0M456.6 146.1h0M436.6 161.4h0M462.8 162.9h0M423.6 125.8h0M462.7 162.0h0M449.0 186.1h0M458.4 105.0h0M437.9 168.2h0M444.6 124.6h0M429.2 165.2h0M427.3 112.8h0M428.5 143.2h0M455.7 137.5h0M447.9 136.3h0M429.4 127.4h0M444.6 159.3h0M463.7 129.8h0M427.2 151.7h0M461.2 116.8h0M453.2 136.6h0M463.9 133.7h0M437.5 133.6h0M443.7 180.1h0M455.4 150.1h0M466.0 141.4h0M454.6 173.7h0M460.0 141.1h0M432.6 169.8h0M423.4 166.5h0M459.2 138.9h0M458.2 105.4h0M460.4 184.0h0M454.6 140.3h0M446.6 136.3h0M447.7 181.9h0M443.7 144.4h0M425.1 166.8h0M465.9 141.3h0M444.0 167.4h0M427.8 114.3h0M433.0 115.1h0M467.0 108.7h0M448.7 137.0h0M448.7 139.0h0M439.7 152.2h0M441.3 184.0h0M461.8 98.8h0M451.3 135.0h0M434.5 147.5h0M448.5 140.4h0M448.5 148.0h0M423.4 142.6h0M452.1 113.2h0M439.7 112.1h0M465.7 101.7h0M435.7 181.6h0M441.1 141.3h0M457.9 109.5h0M464.2 207.7h0M463.8 166.6h0M425.4 100.5h0M465.9 144.5h0M427.8 129.2h0M452.6 158.3h0M429.6 155.9h0M456.8 162.5h0M442.2 171.7h0M456.9 140.8h0M454.5 116.4h0M423.7 169.1h0M430.3 187.9h0M430.4 149.3h0M452.8 113.0h0M438.2 100.2h0M467.0 148.0h0M465.6 136.2h0M445.3 126.7h0M459.4 157.5h0M454.0 132.0h0M434.4 142.1h0M431.0 126.9h0M451.1 126.0h0M441.1 145.7h0M458.0 157.9h0M451.6 130.5h0M464.7 124.2h0M427.5 165.2h0M439.1 148.4h0M459.8 172.0h0M435.4 144.7h0M428.1 140.1h0M438.9 141.0h0M429.7 145.0h0M451.4 144.8h0M425.7 152.5h0M430.0 137.8h0M433.1 138.3h0M462.8 103.7h0M440.3 145.7h0M455.8 162.0h0M450.6 147.6h0M433.3 131.9h0M427.2 156.8h0M427.9 149.0h0M460.9 130.8h0M438.8 149.5h0M446.2 109.0h0M433.7 139.2h0M423.5 166.7h0M448.9 126.9h0M448.1 115.2h0M452.7 201.4h0M427.2 102.3h0M460.7 155.0h0M451.1 171.0h0M438.5 171.9h0M453.5 170.2h0M461.1 128.3h0M428.0 111.2h0M425.1 175.9h0M466.9 142.8h0M457.5 136.6h0M463.8 125.5h0M456.0 119.2h0M428.3 155.5h0M466.8 131.6h0M462.7 154.0h0M429.4 138.1h0M452.7 151.6h0M452.3 183.6h0M424.1 157.9h0M441.1 145.5h0M434.7 221.1h0M444.3 232.2h0M436.2 249.3h0M461.6 248.6h0M451.8 211.4h0M461.0 215.1h0M465.2 226.3h0M466.1 231.1h0M461.0 237.4h0M453.2 54.9h0" stroke="#f7b79c" stroke-width="4.50" stroke-linecap="round" fill="none"/>
<path d="M415.2 130.5h0M416.2 116.2h0M409.5 129.0h0M420.4 104.7h0M414.2 101.9h0M416.2 153.4h0M412.9 162.3h0M411.1 156.8h0M411.8 150.7h0M414.7 123.5h0M410.3 128.7h0M418.6 136.5h0M412.0 158.7h0M421.8 152.4h0M421.0 146.9h0M422.1 136.3h0M416.7 135.5h0M413.4 129.4h0M408.6 160.1h0M419.8 105.9h0M417.3 122.4h0M412.8 124.2h0M416.7 181.9h0M421.2 121.8h0M410.7 137.9h0M409.5 136.8h0M411.6 181.0h0M422.0 149.6h0M420.8 175.7h0M410.0 108.8h0M413.2 170.2h0M418.9 123.1h0M415.4 132.6h0M422.1 70.4h0M421.8 140.5h0M408.3 104.2h0M422.1 152.8h0M409.9 170.6h0M410.8 132.7h0M419.1 109.3h0M418.1 155.3h0M410.3 115.3h0M422.3 126.8h0M415.2 141.2h0M417.2 136.3h0M410.4 138.0h0M420.8 156.8h0M420.6 137.8h0M413.1 130.8h0M415.6 160.1h0M408.8 207.5h0M420.7 125.2h0M410.6 158.7h0M420.2 127.3h0M410.4 163.1h0M415.3 131.6h0M421.8 147.2h0M410.4 149.6h0M411.3 142.7h0M414.7 132.4h0M417.7 185.9h0M408.6 109.9h0M414.2 115.7h0M411.8 133.2h0M411.6 182.9h0M411.8 120.0h0M417.7 141.3h0M418.5 99.7h0M411.0 153.1h0M411.3 146.3h0M419.7 116.4h0M415.7 151.4h0M422.2 145.9h0M412.2 165.4h0M422.3 135.5h0M410.9 132.8h0M420.9 99.4h0M421.4 117.2h0M413.5 175.4h0M408.5 121.4h0M421.3 131.6h0M415.6 138.6h0M413.2 170.3h0M416.9 93.9h0M422.0 96.6h0M419.3 133.6h0M417.2 162.0h0M420.2 170.2h0M417.0 169.8h0M414.2 118.6h0M421.2 184.6h0M415.3 112.2h0M417.7 145.6h0M412.5 132.2h0M418.6 121.8h0M421.6 80.3h0M413.7 122.3h0M420.3 145.4h0M422.4 131.6h0M417.1 137.6h0M414.0 140.2h0M413.5 138.4h0M409.0 166.4h0M413.6 133.0h0M413.1 175.6h0M413.0 112.2h0M414.0 150.6h0M411.8 170.7h0M419.7 124.3h0M415.5 123.7h0M419.3 138.3h0M409.7 179.5h0M421.3 174.2h0M411.6 127.2h0M412.5 83.5h0M418.2 134.4h0M420.0 133.4h0M418.0 126.0h0M416.2 163.0h0M411.8 112.6h0M410.0 156.8h0M412.2 139.8h0M411.2 161.6h0M416.2 171.7h0M418.7 160.4h0M418.0 164.5h0M411.8 151.1h0M416.1 101.6h0M421.5 133.3h0M416.4 155.1h0M411.0 130.3h0M420.1 155.4h0M412.6 112.0h0M421.7 120.6h0M419.1 149.8h0M410.7 141.9h0M409.5 138.8h0M412.6 166.5h0M422.1 170.0h0M422.7 144.1h0M416.4 163.6h0M410.3 141.3h0M415.4 119.0h0M420.9 146.3h0M416.6 125.7h0M409.3 95.9h0M416.0 151.6h0M422.7 104.0h0M409.4 161.6h0M412.0 169.7h0M420.2 135.9h0M418.8 144.6h0M421.9 177.8h0M410.1 107.6h0M415.7 118.7h0M416.3 165.2h0M416.7 145.5h0M410.3 142.5h0M418.0 172.0h0M422.1 132.1h0M412.9 174.9h0M422.1 184.5h0M415.9 103.7h0M419.7 156.5h0M418.9 159.8h0M420.3 146.2h0M421.1 158.8h0M415.7 85.9h0M411.6 128.7h0M412.3 119.1h0M410.7 117.8h0M408.6 86.2h0M417.8 120.6h0M412.3 135.9h0M413.5 138.4h0M411.1 110.6h0M422.2 124.5h0M421.9 184.4h0M413.7 134.1h0M421.8 144.6h0M409.8 112.0h0M411.9 124.1h0M421.6 136.7h0M409.6 123.6h0M413.7 130.4h0M410.8 122.7h0M418.0 141.3h0M418.5 160.5h0M420.9 116.4h0M422.5 141.5h0M410.3 98.2h0M410.9 113.0h0M413.1 168.8h0M416.0 120.4h0M420.3 140.5h0M421.0 141.1h0M422.1 144.2h0M412.1 114.4h0M415.6 160.9h0M422.8 129.3h0M416.2 179.7h0M419.2 132.1h0M420.2 172.7h0M411.3 172.9h0M417.8 141.6h0M413.0 169.2h0M415.6 112.3h0M422.5 168.5h0M412.9 99.6h0M421.1 119.5h0M417.9 137.9h0M408.2 124.3h0M410.3 135.1h0M415.5 80.0h0M418.2 127.6h0M421.0 155.4h0M413.9 130.5h0M414.6 149.1h0M421.9 142.1h0M409.7 155.4h0M416.5 154.0h0M419.6 118.8h0M412.5 141.4h0M421.1 120.7h0M417.9 148.2h0M411.6 142.6h0M418.5 152.4h0M417.3 107.4h0M409.1 98.4h0M411.9 142.5h0M409.7 117.4h0M410.6 177.1h0M419.5 172.7h0M414.3 121.4h0M410.6 184.7h0M417.5 68.9h0M409.6 114.3h0M411.4 95.8h0M419.1 142.4h0M414.0 174.7h0M409.3 162.8h0M410.9 162.4h0M414.9 118.4h0M415.1 166.6h0M418.8 160.9h0M418.3 99.9h0M413.8 171.2h0M422.5 156.3h0M413.7 105.0h0M412.0 75.8h0M409.2 182.3h0M417.4 158.0h0M419.0 134.6h0M418.2 141.1h0M419.3 154.3h0M421.9 173.1h0M416.7 118.1h0M422.7 153.2h0M419.6 156.8h0M410.4 138.9h0M414.3 102.4h0M418.6 135.3h0M411.2 73.0h0M421.2 148.1h0M420.0 124.0h0M411.7 156.6h0M417.5 140.5h0M420.7 157.9h0M418.2 160.0h0M411.8 154.2h0M422.6 164.9h0M415.7 153.7h0M420.6 137.8h0M419.3 130.1h0M421.1 167.6h0M412.4 145.1h0M408.7 160.6h0M420.8 116.1h0M417.8 94.6h0M412.8 134.6h0M412.7 128.8h0M415.5 146.6h0M421.8 126.8h0M410.8 145.0h0M422.0 172.4h0M413.7 107.3h0M420.7 81.2h0M412.1 123.2h0M418.2 139.5h0M417.1 127.1h0M421.0 95.8h0M422.7 151.5h0M418.0 120.2h0M419.7 134.8h0M411.3 148.6h0M418.1 124.5h0M410.6 130.0h0M411.6 142.3h0M417.1 171.7h0M409.6 132.6h0M409.9 134.6h0M418.1 125.0h0M415.4 92.5h0M410.1 138.0h0M416.8 110.5h0M419.4 126.4h0M415.3 67.1h0M410.1 125.8h0M411.0 70.1h0M419.6 164.9h0M410.5 170.5h0M422.6 126.3h0M421.7 142.4h0M411.8 104.7h0M412.2 117.6h0M422.7 117.1h0M421.0 158.9h0M422.7 139.2h0M418.7 116.3h0M415.9 153.1h0M412.8 137.9h0M410.4 106.5h0M418.3 139.2h0M419.4 131.9h0M419.0 106.3h0M413.0 126.3h0M418.9 176.2h0M418.7 134.9h0M414.1 137.3h0M409.6 129.1h0M422.7 78.2h0M417.7 108.1h0M417.3 134.1h0M409.1 155.2h0M417.3 115.8h0M416.2 132.9h0M414.0 103.7h0M418.1 129.5h0M421.6 111.7h0M421.7 158.8h0M409.8 142.5h0M409.8 136.5h0M413.5 159.4h0M418.8 127.7h0M410.1 147.8h0M411.2 147.5h0M412.1 156.2h0M415.9 140.4h0M421.9 180.7h0M417.7 114.6h0M416.1 127.4h0M416.1 123.2h0M417.4 105.4h0M419.4 130.9h0M414.9 145.9h0M417.4 103.4h0M419.8 148.1h0M413.3 134.0h0M409.7 152.4h0M411.4 139.0h0M417.0 121.4h0M420.9 124.8h0M414.5 113.4h0M416.2 153.1h0M418.0 153.2h0M414.9 133.2h0M419.3 159.4h0M410.4 149.2h0M410.4 137.3h0M417.9 180.3h0M408.4 128.4h0M415.8 157.9h0M420.8 119.6h0M421.0 151.9h0M422.2 166.3h0M414.8 123.3h0M409.6 146.2h0M421.3 129.9h0M422.5 157.0h0M409.7 160.5h0M412.1 148.2h0M412.7 160.1h0M413.0 144.5h0M420.8 166.0h0M413.1 130.8h0M408.7 119.6h0M419.3 127.7h0M415.6 172.8h0M420.1 107.9h0M417.9 185.3h0M422.5 134.5h0M415.4 137.3h0M415.5 120.2h0M422.2 157.5h0M410.8 153.0h0M413.8 109.9h0M422.6 110.5h0M422.7 166.4h0M420.1 147.3h0M418.4 160.4h0M421.2 110.6h0M417.5 157.1h0M415.3 138.5h0M415.9 133.5h0M412.8 173.5h0M413.7 116.6h0M419.5 157.4h0M408.8 177.9h0M421.0 131.4h0M412.3 135.7h0M416.7 154.1h0M410.9 141.5h0M420.1 96.2h0M419.2 122.0h0M410.9 139.8h0M415.2 149.5h0M415.5 92.3h0M416.9 151.4h0M408.6 190.8h0M419.7 108.3h0M418.4 153.0h0M413.3 176.5h0M417.3 175.4h0M412.2 159.8h0M414.1 155.7h0M422.1 97.7h0M412.6 142.4h0M415.4 155.3h0M413.3 144.5h0M418.0 135.1h0M414.0 114.4h0M421.7 106.1h0M410.3 191.0h0M412.5 178.5h0M422.4 140.7h0M417.8 90.3h0M418.9 153.0h0M414.8 111.9h0M409.1 154.7h0M408.8 154.7h0M419.5 146.9h0M422.5 104.0h0M415.2 152.6h0M418.6 138.2h0M413.1 131.5h0M419.3 116.2h0M412.1 138.5h0M413.7 116.8h0M419.6 95.9h0M415.6 119.3h0M415.8 149.7h0M408.6 143.5h0M412.6 132.6h0M412.0 146.8h0M414.4 169.0h0M410.7 164.2h0M421.8 154.4h0M419.9 64.1h0M414.1 117.5h0M417.7 154.5h0M413.2 159.2h0M412.3 107.9h0M421.6 176.5h0M419.7 166.5h0M420.9 112.8h0M417.5 141.8h0M418.1 119.6h0M422.7 137.0h0M416.6 139.8h0M412.1 156.6h0M411.2 127.2h0M421.7 133.5h0M411.2 133.7h0M409.0 150.9h0M416.5 108.5h0M409.5 137.9h0M414.9 124.1h0M412.8 170.2h0M413.1 182.8h0M419.3 120.6h0M413.0 156.8h0M421.6 161.7h0M420.2 130.2h0M420.6 105.0h0M412.1 146.9h0M413.1 147.4h0M412.1 128.2h0M414.2 125.4h0M412.4 138.0h0M417.3 119.7h0M416.9 159.9h0M419.4 85.4h0M420.5 157.7h0M413.8 134.0h0M421.4 141.1h0M414.1 134.5h0M411.4 74.4h0M413.9 146.3h0M412.3 113.0h0M411.9 139.5h0M409.8 148.8h0M421.1 119.7h0M411.8 130.8h0M421.4 144.3h0M421.6 164.9h0M422.7 128.5h0M413.4 50.8h0M408.5 143.0h0M419.6 123.0h0M419.8 154.7h0M415.9 176.7h0M420.7 154.7h0M409.0 121.5h0M411.5 135.4h0M421.0 128.3h0M419.2 139.8h0M410.4 98.8h0M413.2 103.6h0M415.1 108.9h0M420.3 163.2h0M411.5 136.6h0M411.9 116.3h0M419.3 97.9h0M419.2 130.6h0M413.9 97.7h0M421.5 170.0h0M410.8 159.5h0M408.6 166.8h0M422.0 155.8h0M409.8 159.8h0M408.3 185.1h0M420.2 105.6h0M415.1 125.4h0M421.8 161.1h0M417.5 109.3h0M416.0 168.6h0M411.9 172.9h0M409.5 159.1h0M415.3 127.8h0M415.1 117.3h0M417.5 131.7h0M409.6 170.4h0M412.2 105.8h0M409.7 108.7h0M408.3 119.4h0M412.0 77.8h0M409.8 167.9h0M411.0 160.0h0M416.4 160.4h0M416.0 156.2h0M412.3 123.1h0M408.5 134.6h0M421.9 150.6h0M422.7 109.8h0M413.2 142.2h0M417.2 154.7h0M410.2 156.6h0M417.7 174.3h0M411.0 146.2h0M415.8 162.9h0M422.1 143.2h0M419.4 130.5h0M412.3 128.2h0M421.0 152.2h0M412.4 90.7h0M418.3 170.5h0M411.7 121.9h0M421.0 139.7h0M410.1 133.0h0M411.2 158.2h0M417.6 160.8h0M408.7 123.8h0M413.0 137.0h0M420.6 178.8h0M417.6 138.6h0M415.8 155.4h0M420.1 89.8h0M408.6 136.7h0M421.6 137.8h0M412.2 136.1h0M420.7 152.9h0M413.1 182.9h0M412.9 121.4h0M412.2 121.0h0M419.7 130.4h0M410.5 133.4h0M418.2 109.2h0M415.2 114.9h0M416.2 122.4h0M420.7 156.9h0M408.3 114.0h0M418.2 163.3h0M416.9 130.3h0M411.9 166.6h0M408.3 144.7h0M421.4 119.8h0M416.9 148.6h0M422.9 115.6h0M416.7 152.9h0M414.0 96.9h0M417.4 144.6h0M422.3 72.4h0M411.1 121.7h0M422.6 141.5h0M413.1 169.8h0M415.2 151.4h0M416.2 88.9h0M410.0 173.1h0M411.8 181.4h0M413.1 132.6h0M412.6 107.6h0M408.5 150.3h0M419.1 162.9h0M421.1 146.3h0M412.2 146.1h0M408.3 111.1h0M417.1 91.3h0M415.0 144.3h0M409.8 162.0h0M421.3 171.8h0M417.1 185.8h0M420.0 142.4h0M409.7 181.3h0M414.3 121.9h0M417.5 146.6h0M414.3 159.0h0M420.3 102.9h0M422.0 186.0h0M419.6 116.9h0M413.5 137.8h0M414.0 133.8h0M416.1 140.9h0M410.1 170.3h0M417.2 124.8h0M419.2 109.4h0M409.3 193.6h0M419.3 138.0h0M417.4 143.8h0M418.8 148.4h0M410.3 130.0h0M418.6 145.9h0M411.3 151.3h0M414.5 109.5h0M421.1 166.1h0M418.6 151.4h0M413.9 151.9h0M421.6 161.9h0M409.8 154.6h0M410.1 104.2h0M420.1 162.8h0M413.5 75.4h0M419.5 182.4h0M408.8 204.6h0M409.3 159.4h0M415.2 174.4h0M414.2 108.5h0M418.1 129.1h0M416.2 169.3h0M421.5 146.5h0M408.2 149.4h0M414.4 72.3h0M417.8 137.4h0M409.0 134.2h0M421.3 127.2h0M418.6 135.2h0M414.4 141.2h0M417.3 163.8h0M412.0 138.8h0M415.2 135.8h0M410.7 176.4h0M408.8 139.2h0M411.1 174.2h0M419.5 185.2h0M412.9 143.2h0M418.3 127.7h0M421.4 116.7h0M410.4 156.0h0M418.8 179.8h0M414.6 164.9h0M417.6 148.2h0M421.7 144.4h0M419.7 129.1h0M420.3 146.2h0M410.6 113.7h0M420.3 158.2h0M422.5 129.1h0M422.0 124.5h0M419.9 131.1h0M420.5 127.3h0M416.5 170.0h0M422.0 118.2h0M419.1 154.7h0M409.5 146.1h0M413.5 167.9h0M409.8 131.6h0M421.7 152.9h0M408.2 159.2h0M415.5 123.3h0M418.6 161.3h0M414.3 131.7h0M421.7 136.4h0M413.2 127.2h0M413.7 139.9h0M411.6 173.0h0M420.8 137.3h0M417.3 131.4h0M419.0 91.9h0M417.0 92.2h0M414.4 117.9h0M408.3 115.2h0M422.3 154.9h0M411.2 169.5h0M417.7 125.1h0M417.5 126.7h0M408.8 126.5h0M416.2 125.4h0M418.0 131.3h0M420.2 143.7h0M416.0 156.2h0M408.2 122.1h0M415.9 140.6h0M422.1 112.8h0M416.0 152.4h0M417.7 147.9h0M408.3 161.4h0M420.3 123.4h0M413.5 162.3h0M409.5 202.8h0M421.0 162.0h0M412.7 159.0h0M421.2 140.9h0M413.0 150.1h0M411.1 107.4h0M422.4 132.2h0M408.4 115.1h0M414.8 103.9h0M417.5 113.1h0M422.1 116.3h0M416.4 153.0h0M414.9 128.9h0M411.9 143.1h0M412.5 120.1h0M412.2 155.7h0M415.2 123.0h0M409.2 153.5h0M420.2 120.7h0M421.5 108.1h0M413.8 108.0h0M417.9 151.0h0M422.4 105.4h0M419.8 185.3h0M415.3 135.8h0M409.3 177.5h0M414.0 139.7h0M411.9 171.3h0M409.2 141.3h0M409.8 158.8h0M415.6 106.7h0M418.7 83.3h0M408.7 117.4h0M411.9 112.9h0M409.3 127.6h0M418.5 142.2h0M418.2 145.7h0M411.0 170.4h0M418.7 160.5h0M415.1 118.9h0M421.0 150.6h0M420.9 129.7h0M420.6 163.2h0M418.8 79.4h0M422.9 104.0h0M417.2 142.0h0M418.1 90.4h0M409.0 126.1h0M415.6 110.7h0M419.0 143.6h0M420.5 151.3h0M410.1 102.1h0M422.4 120.0h0M412.4 117.6h0M410.7 112.9h0M408.4 135.9h0M412.6 151.2h0M420.5 129.3h0M408.6 136.9h0M414.1 109.7h0M415.3 145.2h0M419.4 90.3h0M417.6 148.3h0M411.6 166.4h0M418.3 123.9h0M416.6 143.7h0M409.2 123.1h0M418.4 156.1h0M417.8 124.8h0M420.8 136.2h0M417.3 132.6h0M419.8 114.3h0M413.2 159.3h0M418.3 143.6h0M408.4 110.2h0M418.7 107.2h0M408.2 120.5h0M416.6 168.3h0M416.1 133.9h0M409.5 149.8h0M414.3 147.5h0M411.4 179.5h0M414.1 113.6h0M415.7 118.2h0M409.7 177.2h0M417.7 148.7h0M411.9 137.9h0M420.8 154.6h0M420.4 126.4h0M409.2 149.6h0M411.4 175.7h0M409.7 150.4h0M421.3 127.8h0M418.1 163.6h0M408.4 120.0h0M416.9 112.2h0M419.1 123.8h0M408.4 125.0h0M411.3 142.0h0M411.2 125.4h0M410.2 158.6h0M409.6 200.7h0M417.3 158.0h0M410.2 101.9h0M418.4 112.8h0M414.8 167.6h0M410.2 145.7h0M415.3 158.6h0M421.4 170.8h0M421.4 148.6h0M422.7 119.5h0M416.6 138.6h0M410.2 146.6h0M410.5 196.5h0M419.7 83.2h0M416.5 170.4h0M421.7 139.6h0M421.2 118.9h0M418.1 135.5h0M420.5 118.5h0M421.7 163.2h0M415.4 157.9h0M416.9 175.4h0M422.7 181.5h0M420.0 117.6h0M416.7 173.6h0M410.5 111.9h0M410.2 117.1h0M421.3 149.5h0M408.2 176.6h0M417.4 155.8h0M417.9 159.2h0M413.2 157.6h0M411.4 160.7h0M416.9 139.2h0M422.4 148.1h0M415.7 142.0h0M417.5 141.2h0M414.4 108.8h0M411.6 88.3h0M417.4 140.1h0M418.9 142.6h0M416.1 144.7h0M421.0 115.6h0M422.7 122.5h0M410.1 137.6h0M412.1 144.2h0M418.5 125.6h0M416.4 113.4h0M409.3 151.8h0M413.6 129.4h0M413.3 187.5h0M422.3 157.8h0M409.8 128.1h0M421.2 181.5h0M422.0 179.7h0M413.1 134.0h0M416.6 148.9h0M422.1 86.5h0M412.0 131.4h0M416.0 95.0h0M414.8 100.0h0M421.4 160.1h0M422.3 145.6h0M410.8 130.7h0M417.1 111.8h0M416.5 103.2h0M410.2 120.2h0M415.3 131.7h0M410.4 167.7h0M412.0 113.1h0M414.7 155.4h0M409.6 114.7h0M412.2 105.6h0M413.3 177.9h0M408.6 88.0h0M421.5 145.3h0M422.4 112.2h0M418.1 115.7h0M419.5 91.9h0M410.7 109.4h0M415.4 97.7h0M408.8 118.3h0M411.6 160.6h0M409.2 145.0h0M420.0 122.2h0M421.1 115.4h0M410.5 136.2h0M409.5 158.7h0M409.9 172.7h0M421.9 137.8h0M412.1 61.9h0M414.3 143.2h0M421.2 152.8h0M408.2 124.3h0M416.8 121.0h0M415.8 136.7h0M410.6 192.1h0M417.3 157.7h0M420.8 156.4h0M410.3 123.8h0M410.3 156.4h0M416.6 146.1h0M418.9 168.8h0M420.1 154.4h0M422.5 82.6h0M420.7 118.4h0M415.7 128.9h0M415.5 161.9h0M416.3 171.7h0M414.0 113.3h0M420.2 140.2h0M410.0 124.4h0M419.1 132.2h0M410.1 136.6h0M415.4 116.4h0M421.7 94.1h0M422.2 137.9h0M420.2 144.3h0M416.1 134.2h0M418.1 146.4h0M410.6 187.4h0M417.5 149.2h0M421.1 140.1h0M417.4 112.2h0M415.4 165.3h0M413.4 147.9h0M414.5 139.2h0M414.0 127.6h0M416.5 89.2h0M422.0 123.1h0M413.9 122.6h0M416.0 170.8h0M419.1 98.0h0M411.2 184.4h0M417.1 104.5h0M416.3 116.9h0M419.8 136.9h0M418.6 167.0h0M408.5 125.6h0M412.4 151.8h0M408.2 199.4h0M410.1 192.2h0M408.7 203.6h0M408.9 202.3h0M410.0 200.8h0M409.4 195.5h0M408.7 204.8h0M409.4 204.6h0M410.0 203.2h0M409.1 201.9h0M409.6 202.7h0M408.3 190.6h0M408.1 204.3h0M408.7 205.5h0M409.7 200.6h0M409.2 200.3h0M409.5 199.8h0M408.5 192.9h0M409.2 200.1h0M409.3 192.4h0M409.4 195.0h0M408.6 195.4h0M408.6 189.4h0M409.4 203.8h0M410.1 203.5h0M409.6 195.5h0M408.3 193.1h0M409.9 188.8h0M409.7 196.9h0M408.8 203.1h0M409.8 190.0h0M410.1 199.5h0M408.8 200.7h0M408.3 205.2h0M410.2 201.6h0M408.6 192.9h0M410.3 195.7h0M409.3 197.3h0M410.3 195.5h0M409.4 197.4h0M410.4 191.7h0M410.2 205.7h0M409.6 199.7h0M408.8 189.4h0M409.8 189.9h0M409.0 222.9h0M412.6 219.2h0M419.5 218.5h0M409.0 211.0h0M409.6 205.5h0" stroke="#a6cee3" stroke-width="4.50" stroke-linecap="round" fill="none"/>
<path d="M475.8 172.3h0M491.5 186.6h0M524.0 180.4h0M519.9 152.2h0M483.3 177.8h0M576.1 162.8h0M561.3 160.3h0M471.5 151.9h0M478.9 135.2h0M488.9 116.3h0M495.1 119.5h0M483.7 162.5h0M484.8 110.6h0M484.8 128.4h0M485.5 112.9h0M526.2 134.9h0M514.3 166.1h0M518.4 166.2h0M477.0 130.2h0M589.7 157.6h0M491.2 130.5h0M475.4 177.3h0M486.3 105.1h0M514.1 118.3h0M486.7 108.9h0M547.1 164.6h0M477.7 80.2h0M552.8 138.6h0M491.2 116.1h0M489.3 118.8h0M544.6 122.3h0M511.9 152.9h0M484.8 104.2h0M482.8 129.0h0M491.8 174.4h0M482.1 139.1h0M493.6 153.3h0M558.2 145.2h0M510.9 157.7h0M485.5 131.6h0M498.2 107.1h0M477.3 156.6h0M520.8 193.1h0M493.9 126.3h0M527.0 134.6h0M574.5 143.1h0M545.2 103.6h0M470.9 127.9h0M513.9 84.8h0M518.8 112.6h0M596.9 126.5h0M480.8 128.2h0M487.6 143.5h0M499.3 144.2h0M476.7 121.6h0M554.8 148.4h0M487.6 100.6h0M470.8 125.6h0M475.0 103.6h0M517.8 188.0h0M477.2 189.5h0M492.6 161.1h0M485.2 180.3h0M485.5 128.0h0M497.5 132.8h0M529.6 134.1h0M475.6 142.4h0M552.3 157.3h0M505.4 173.0h0M492.1 142.9h0M477.8 145.5h0M482.7 128.2h0M483.8 131.1h0M525.5 154.5h0M528.3 162.8h0M471.9 141.2h0M546.0 167.2h0M513.6 153.9h0M518.5 168.6h0M470.6 109.3h0M527.2 153.6h0M485.2 165.6h0M482.8 141.7h0M554.7 159.3h0M471.7 148.7h0M480.0 102.6h0M495.8 125.7h0M520.4 142.5h0M485.6 101.8h0M489.8 173.2h0M481.0 188.2h0M482.9 171.6h0M493.3 159.4h0M475.0 146.1h0M472.6 182.0h0M512.1 116.1h0M531.1 104.4h0M505.1 113.9h0M523.5 128.7h0M496.5 126.1h0M481.0 147.6h0M489.6 157.3h0M496.0 115.4h0M476.2 190.1h0M515.1 146.1h0M510.2 128.1h0M487.5 119.6h0M506.6 185.8h0M513.9 165.7h0M490.4 168.3h0M474.3 115.9h0M508.8 135.4h0M496.5 137.1h0M482.0 135.8h0M561.6 132.8h0M484.8 180.5h0M497.8 86.9h0M502.5 146.2h0M524.7 162.7h0M477.0 126.8h0M505.7 177.9h0M498.1 147.3h0M473.6 129.2h0M503.1 113.4h0M520.7 134.2h0M539.3 124.8h0M485.7 140.0h0M471.2 108.5h0M506.3 141.2h0M501.8 133.8h0M525.0 167.4h0M482.1 132.4h0M476.6 129.6h0M494.9 121.8h0M489.2 185.3h0M470.6 152.9h0M476.3 98.1h0M558.4 159.7h0M486.7 144.5h0M503.0 109.7h0M488.4 166.1h0M476.9 164.1h0M502.1 133.0h0M500.7 153.3h0M484.6 119.2h0M476.2 110.2h0M474.4 110.6h0M594.1 134.6h0M497.0 133.8h0M487.5 142.9h0M518.8 159.0h0M473.7 150.3h0M540.5 159.5h0M505.5 152.3h0M506.4 127.4h0M483.2 85.3h0M601.4 132.0h0M471.8 103.9h0M472.1 139.9h0M525.3 126.8h0M503.0 146.9h0M582.5 170.9h0M470.5 120.1h0M470.7 173.2h0M481.5 104.2h0M564.2 134.0h0M472.2 145.8h0M487.1 150.0h0M531.6 144.6h0M477.9 141.0h0M480.3 115.0h0M523.2 136.5h0M562.5 119.2h0M497.2 158.4h0M476.3 81.4h0M501.4 165.6h0M493.1 175.8h0M538.4 159.9h0M503.0 149.1h0M552.8 126.1h0M491.8 180.6h0M525.5 164.6h0M472.8 131.3h0M470.5 95.6h0M487.8 169.2h0M474.0 166.3h0M471.6 133.1h0M474.5 150.4h0M528.2 138.9h0M491.2 187.1h0M494.7 132.5h0M508.4 167.5h0M483.9 172.7h0M524.9 121.7h0M475.1 138.0h0M547.5 121.7h0M521.7 140.5h0M512.5 165.0h0M487.4 138.7h0M488.0 153.8h0M511.5 155.6h0M490.6 142.8h0M543.2 158.4h0M487.7 138.9h0M488.8 108.6h0M490.7 138.7h0M476.6 145.5h0M471.9 123.5h0M518.4 140.8h0M550.0 134.9h0M471.7 160.6h0M491.9 138.4h0M500.7 123.2h0M474.3 119.6h0M528.6 148.0h0M475.2 152.7h0M485.2 145.2h0M532.3 131.0h0M500.6 109.3h0M591.7 132.1h0M480.6 166.0h0M484.9 144.6h0M566.1 158.5h0M471.9 130.3h0M478.8 115.1h0M516.6 142.7h0M531.1 126.6h0M503.6 122.5h0M576.7 157.8h0M483.2 138.6h0M570.6 129.1h0M510.1 122.9h0M490.1 129.2h0M514.3 129.0h0M491.7 140.7h0M470.9 107.5h0M512.1 120.3h0M507.2 141.9h0M506.2 170.4h0M534.4 160.2h0M498.8 181.2h0M521.6 140.4h0M489.7 153.2h0M470.9 123.9h0M479.3 195.9h0M487.7 161.7h0M488.1 120.3h0M474.0 95.3h0M470.8 152.0h0M485.4 159.1h0M570.1 138.8h0M526.9 150.4h0M578.9 162.2h0M513.2 127.1h0M546.5 156.6h0M504.5 146.0h0M495.2 167.2h0M486.9 150.2h0M574.9 152.0h0M517.5 156.0h0M483.8 168.8h0M513.6 140.6h0M479.8 125.1h0M514.2 142.9h0M505.5 129.1h0M554.6 147.7h0M504.8 121.6h0M511.9 182.2h0M486.8 138.7h0M482.1 124.1h0M485.6 150.0h0M471.8 125.3h0M496.9 109.6h0M534.6 117.3h0M482.1 105.1h0M483.9 181.1h0M473.6 143.2h0M556.1 153.7h0M587.4 148.4h0M516.0 143.0h0M475.5 126.8h0M493.6 183.9h0M474.8 196.7h0M479.3 120.0h0M576.3 116.7h0M485.1 115.0h0M474.4 111.1h0M470.5 104.7h0M492.6 184.5h0M484.8 124.2h0M480.7 138.8h0M500.5 165.6h0M496.8 134.7h0M528.1 139.1h0M597.1 137.7h0M483.1 168.7h0M556.2 146.3h0M505.4 136.1h0M526.4 184.9h0M476.5 154.6h0M503.6 125.5h0M495.0 128.9h0M518.2 145.1h0M493.0 139.7h0M491.0 179.1h0M488.6 152.5h0M494.4 117.8h0M485.0 125.8h0M471.2 160.6h0M472.0 184.4h0M487.6 99.4h0M495.4 150.3h0M474.4 118.5h0M490.5 155.4h0M507.4 118.7h0M504.9 125.5h0M495.5 143.2h0M515.9 114.9h0M478.0 147.7h0M528.7 146.6h0M514.4 131.1h0M512.5 115.5h0M594.9 126.0h0M479.3 146.3h0M516.8 151.5h0M483.3 116.8h0M540.4 160.6h0M474.3 150.6h0M476.9 162.7h0M508.2 117.7h0M471.6 143.6h0M489.9 100.4h0M496.7 131.6h0M515.9 171.2h0M471.5 125.5h0M487.4 127.7h0M513.0 107.9h0M505.6 146.6h0M473.0 118.8h0M487.9 125.5h0M493.4 130.4h0M541.3 119.1h0M489.7 156.7h0M514.4 134.1h0M479.6 177.4h0M507.7 135.2h0M497.8 142.2h0M550.2 152.1h0M472.5 131.6h0M480.7 148.6h0M488.4 128.2h0M471.0 159.6h0M474.7 142.5h0M471.7 166.5h0M477.8 121.2h0M473.4 167.6h0M471.7 112.3h0M476.4 165.8h0M497.6 107.3h0M474.4 108.9h0M555.7 160.3h0M517.4 111.6h0M471.1 115.2h0M574.0 144.1h0M503.2 96.5h0M481.8 126.8h0M473.6 100.3h0M479.6 118.2h0M576.7 183.7h0M482.2 136.6h0M474.6 147.4h0M497.9 151.7h0M473.9 104.7h0M514.3 141.0h0M543.8 137.9h0M473.6 164.2h0M473.0 168.6h0M479.2 162.7h0M480.2 155.0h0M522.4 180.0h0M497.3 147.3h0M480.1 109.2h0M561.3 130.8h0M476.7 117.3h0M471.9 154.1h0M532.9 141.0h0M472.1 190.4h0M489.4 117.8h0M507.3 148.0h0M490.3 158.5h0M575.9 168.7h0M486.5 119.6h0M519.0 148.0h0M515.8 150.8h0M476.9 112.8h0M494.7 160.2h0M496.3 115.7h0M543.6 138.8h0M539.6 119.0h0M507.1 140.8h0M516.4 159.1h0M523.3 153.6h0M501.1 121.8h0M476.1 123.1h0M477.8 122.4h0M475.3 115.7h0M478.5 128.2h0M572.1 161.5h0M505.6 138.6h0M497.7 162.8h0M528.7 149.2h0M508.0 116.2h0M472.8 115.9h0M556.6 159.8h0M504.4 182.1h0M512.3 176.9h0M507.7 122.1h0M487.1 103.4h0M487.1 114.7h0M473.9 131.1h0M564.1 151.6h0M484.7 160.2h0M504.9 159.6h0M483.6 134.7h0M478.6 113.6h0M486.3 137.4h0M540.0 107.5h0M494.7 159.7h0M498.4 136.3h0M534.0 168.7h0M518.2 164.6h0M505.5 110.7h0M517.8 134.1h0M554.4 165.5h0M492.9 117.5h0M521.9 137.9h0M472.8 124.1h0M489.6 101.0h0M490.9 189.5h0M492.4 171.1h0M486.1 104.1h0M492.1 166.1h0M532.7 138.3h0M589.5 159.9h0M477.6 148.2h0M473.2 114.6h0M499.9 125.1h0M512.2 189.1h0M510.9 137.3h0M478.9 178.0h0M569.7 169.0h0M509.5 154.4h0M487.0 181.3h0M476.5 155.3h0M487.1 171.4h0M506.6 117.7h0M479.5 143.4h0M493.5 173.8h0M479.7 157.2h0M494.0 162.8h0M502.9 158.8h0M581.3 150.2h0M476.6 153.3h0M485.2 126.1h0M483.6 169.8h0M482.7 156.7h0M507.3 127.2h0M520.7 145.2h0M484.7 170.9h0M477.3 144.3h0M488.8 169.3h0M478.6 162.7h0M473.5 129.8h0M489.2 110.9h0M501.4 116.6h0M505.6 138.3h0M495.6 100.9h0M483.7 109.1h0M521.0 152.1h0M547.0 167.5h0M470.8 129.1h0M504.1 145.9h0M507.1 118.1h0M474.1 174.1h0M526.8 164.3h0M548.2 142.5h0M473.3 127.3h0M497.2 145.9h0M477.3 184.4h0M492.8 145.1h0M502.5 135.8h0M475.0 111.4h0M520.1 162.4h0M473.0 106.7h0M505.2 121.4h0M471.5 139.2h0M509.3 174.1h0M482.8 155.9h0M490.2 117.0h0M506.8 155.2h0M553.6 149.2h0M486.7 104.5h0M511.8 142.0h0M485.9 159.5h0M512.0 104.9h0M474.0 171.0h0M471.2 128.1h0M519.3 110.5h0M471.9 167.3h0M549.6 128.4h0M498.2 128.6h0M502.4 141.0h0M558.8 171.2h0M495.6 116.9h0M475.3 150.4h0M581.5 139.9h0M472.5 114.4h0M530.3 156.1h0M477.7 111.4h0M556.4 137.3h0M530.2 129.3h0M496.9 173.5h0M489.9 132.5h0M476.8 151.5h0M490.8 147.2h0M479.9 129.4h0M536.0 162.3h0M477.5 140.9h0M471.9 150.2h0M547.6 153.4h0M472.5 162.6h0M492.5 129.5h0M529.3 168.8h0M508.9 152.4h0M478.4 136.9h0M589.7 178.6h0M480.7 146.1h0M500.7 153.2h0M536.3 166.0h0M486.7 156.2h0M479.9 113.2h0M537.8 168.7h0M550.9 169.4h0M500.6 142.0h0M471.9 158.2h0M508.3 127.1h0M478.8 137.2h0M553.5 150.1h0M518.9 147.4h0M523.5 138.2h0M493.0 145.3h0M493.3 178.2h0M503.0 152.7h0M475.2 142.5h0M528.0 176.2h0M520.3 146.2h0M478.1 157.1h0M478.6 143.4h0M471.2 86.3h0M474.8 163.4h0M473.1 127.3h0M473.9 165.3h0M504.5 177.2h0M528.2 158.1h0M491.2 133.2h0M510.1 173.7h0M483.5 119.7h0M541.1 146.2h0M540.0 180.1h0M473.3 149.5h0M562.0 161.6h0M501.2 107.3h0M536.5 172.8h0M559.3 143.5h0M472.0 135.3h0M532.3 148.3h0M502.0 147.3h0M535.8 168.7h0M482.2 150.5h0M481.2 107.2h0M471.5 111.9h0M542.0 133.3h0M499.7 168.6h0M569.0 150.7h0M491.9 127.9h0M538.2 152.8h0M497.3 119.7h0M481.5 113.5h0M548.3 155.7h0M527.9 119.0h0M470.5 144.6h0M504.5 186.2h0M474.4 140.2h0M491.9 123.8h0M589.9 134.6h0M548.1 183.1h0M571.9 145.9h0M558.5 164.4h0M530.6 175.5h0M553.7 145.6h0M537.3 159.6h0M504.7 145.7h0M513.5 182.6h0M516.0 162.1h0M578.2 142.8h0M489.8 163.9h0M533.0 113.5h0M488.1 172.0h0M538.4 124.7h0M482.2 110.4h0M494.9 112.6h0M489.3 134.3h0M472.4 156.3h0M487.1 163.0h0M499.5 152.9h0M556.3 129.8h0M558.3 120.8h0M481.7 83.3h0M471.8 185.0h0M480.4 144.1h0M487.0 126.9h0M486.2 122.8h0M471.6 171.8h0M478.6 147.9h0M484.6 171.4h0M575.5 165.9h0M472.2 132.7h0M503.3 148.2h0M477.0 164.3h0M481.4 138.9h0M484.0 158.8h0M490.0 116.8h0M518.4 143.3h0M483.8 115.6h0M480.2 173.6h0M475.1 124.9h0M532.3 158.7h0M516.0 157.2h0M479.5 146.2h0M527.9 159.6h0M483.1 137.0h0M563.7 146.5h0M503.1 114.6h0M536.2 176.6h0M561.5 140.8h0M507.3 142.3h0M521.2 171.1h0M474.2 159.3h0M516.4 153.2h0M525.4 119.1h0M472.3 185.5h0M503.5 128.2h0M473.2 175.7h0M487.9 169.9h0M551.1 148.1h0M525.7 123.4h0M487.7 132.8h0M544.7 159.8h0M475.7 133.1h0M473.2 158.5h0M517.9 159.5h0M513.4 115.6h0M514.5 119.4h0M486.3 188.0h0M524.9 156.7h0M542.8 157.7h0M490.6 175.8h0M503.1 154.4h0M519.2 122.0h0M518.6 117.2h0M582.9 151.8h0M485.1 152.9h0M499.1 147.5h0M538.4 101.4h0M513.7 121.6h0M516.8 157.3h0M478.7 144.7h0M528.5 116.2h0M508.3 144.4h0M535.7 126.6h0M525.2 142.4h0M549.7 103.6h0M591.3 147.2h0M586.6 162.2h0M475.0 166.8h0M474.8 122.7h0M492.8 144.4h0M486.1 141.5h0M504.8 165.6h0M573.2 116.2h0M498.5 161.7h0M522.6 158.3h0M471.7 130.9h0M498.2 137.0h0M499.5 155.5h0M512.7 127.3h0M481.2 155.0h0M471.4 111.2h0M491.9 168.7h0M517.3 128.4h0M561.6 116.8h0M479.7 158.3h0M540.9 123.9h0M500.4 144.9h0M494.9 109.4h0M559.7 130.2h0M539.8 136.5h0M505.9 142.3h0M494.5 141.6h0M530.1 131.1h0M485.4 184.5h0M507.6 117.5h0M507.5 119.8h0M514.2 136.2h0M567.2 133.5h0M500.0 163.6h0M584.1 184.6h0M529.2 166.5h0M544.4 166.9h0M473.0 141.6h0M483.8 124.2h0M475.2 141.6h0M503.9 142.4h0M550.7 132.9h0M477.2 120.2h0M477.3 131.5h0M484.8 115.2h0M539.0 145.0h0M482.6 103.6h0M494.3 166.1h0M511.0 128.0h0M472.2 113.7h0M480.4 171.1h0M515.8 124.3h0M490.3 151.2h0M575.3 176.6h0M470.8 187.5h0M488.6 189.6h0M481.3 190.5h0M550.4 177.2h0M491.6 161.1h0M508.8 123.5h0M476.8 165.9h0M510.2 130.0h0M534.6 165.8h0M586.7 163.2h0M537.9 157.9h0M482.4 112.5h0M509.0 140.9h0M476.0 138.8h0M578.2 151.5h0M478.8 157.1h0M491.4 138.7h0M489.4 197.8h0M522.4 157.6h0M488.6 159.4h0M496.0 176.4h0M496.5 168.7h0M507.4 155.3h0M471.2 129.1h0M471.5 145.8h0M522.5 170.2h0M490.4 151.7h0M489.5 158.7h0M480.7 163.0h0M481.7 116.9h0M476.6 151.3h0M472.5 191.1h0M535.4 132.0h0M541.4 159.0h0M487.7 156.1h0M502.8 156.8h0M527.3 156.0h0M568.3 154.5h0M478.8 124.2h0M509.3 117.6h0M485.6 135.0h0M538.4 127.2h0M535.6 168.5h0M490.3 167.0h0M576.9 147.7h0M553.9 151.1h0M480.8 170.5h0M516.6 193.8h0M521.0 145.8h0M477.1 191.2h0M500.9 126.2h0M477.6 112.2h0M515.5 177.2h0M501.6 160.2h0M498.5 140.8h0M482.5 149.9h0M579.0 159.1h0M517.6 164.1h0M486.2 152.7h0M504.9 165.9h0M503.0 158.5h0M484.5 169.1h0M481.4 132.3h0M488.6 110.3h0M531.5 167.3h0M562.2 153.8h0M483.7 184.0h0M501.1 139.4h0M474.6 126.7h0M505.9 133.8h0M552.9 170.2h0M518.2 128.2h0M491.3 109.6h0M498.0 146.8h0M545.1 143.3h0M511.7 119.2h0M499.7 179.2h0M555.4 163.8h0M474.0 94.4h0M477.8 132.1h0M484.7 124.2h0M490.2 127.9h0M509.7 151.0h0M497.6 111.8h0M564.6 129.2h0M489.3 156.4h0M518.3 153.6h0M500.6 107.1h0M526.3 160.1h0M471.1 187.3h0M471.1 138.3h0M501.5 137.5h0M479.3 97.4h0M499.7 130.3h0M500.7 122.9h0M488.8 120.9h0M530.3 173.5h0M535.6 164.1h0M479.5 171.8h0M487.5 112.0h0M502.9 149.9h0M512.0 158.1h0M566.6 138.8h0M522.9 151.6h0M480.2 113.8h0M592.9 176.8h0M539.2 146.7h0M495.0 173.1h0M499.8 139.7h0M489.6 167.0h0M530.3 171.8h0M591.0 145.0h0M473.5 102.6h0M551.8 167.9h0M471.5 163.5h0M535.4 184.5h0M515.7 136.9h0M488.6 113.0h0M575.8 136.5h0M495.6 132.8h0M478.9 102.1h0M510.9 133.8h0M546.4 153.7h0M489.8 168.9h0M492.6 118.7h0M496.3 131.9h0M483.9 136.2h0M492.1 189.3h0M518.2 124.0h0M543.7 128.2h0M543.3 153.3h0M485.7 129.6h0M506.6 130.3h0M470.9 129.0h0M490.7 152.0h0M532.1 174.1h0M477.2 135.6h0M470.7 145.9h0M491.7 120.3h0M485.5 105.4h0M493.7 164.7h0M574.1 125.1h0M528.2 134.6h0M580.4 126.3h0M471.5 178.8h0M481.4 148.2h0M483.2 115.0h0M556.2 161.9h0M490.2 168.6h0M489.5 102.0h0M515.8 133.2h0M553.3 153.4h0M574.4 176.7h0M473.7 153.0h0M539.7 159.7h0M473.8 153.1h0M572.2 158.2h0M479.4 153.1h0M551.6 150.9h0M470.9 147.6h0M510.8 152.3h0M497.1 174.5h0M503.0 161.6h0M533.8 114.5h0M584.2 123.9h0M486.2 134.3h0M509.5 167.1h0M480.4 119.0h0M514.2 138.4h0M548.9 142.1h0M478.1 147.1h0M543.0 160.5h0M496.4 105.3h0M481.8 159.9h0M552.9 170.3h0M472.7 166.2h0M538.7 146.4h0M569.2 123.9h0M498.7 145.7h0M476.3 179.8h0M473.2 126.8h0M520.5 173.6h0M496.2 124.5h0M498.7 134.6h0M471.9 135.4h0M474.9 142.8h0M474.2 107.9h0M527.1 128.7h0M483.2 153.4h0M474.5 178.0h0M511.1 128.6h0M472.7 106.3h0M481.0 113.7h0M490.4 113.8h0M494.3 147.3h0M512.6 133.7h0M471.1 138.3h0M503.9 143.0h0M494.1 107.3h0M498.7 167.5h0M553.0 157.8h0M470.8 150.1h0M473.7 171.6h0M509.8 158.6h0M524.6 155.0h0M552.2 160.4h0M491.2 101.3h0M553.6 170.3h0M500.1 143.7h0M471.4 128.4h0M516.2 151.3h0M519.6 146.6h0M531.9 167.7h0M565.4 136.3h0M494.1 159.0h0M476.1 147.6h0M519.4 186.0h0M485.4 155.3h0M494.1 171.4h0M530.5 116.3h0M495.8 185.8h0M598.0 139.6h0M470.7 132.3h0M482.0 154.0h0M518.9 117.3h0M471.6 155.2h0M559.9 112.6h0M479.1 153.9h0M513.2 128.1h0M487.8 164.4h0M471.8 112.4h0M472.1 168.4h0M496.8 111.6h0M510.9 174.6h0M478.0 123.0h0M479.4 126.8h0M533.5 139.6h0M503.1 171.6h0M471.7 138.2h0M488.4 111.3h0M476.6 157.3h0M476.4 158.2h0M486.8 127.9h0M502.8 169.7h0M489.6 149.2h0M473.7 137.7h0M484.8 138.3h0M508.3 127.0h0M523.8 147.3h0M485.5 160.2h0M502.8 159.0h0M505.6 149.2h0M515.0 140.3h0M548.3 165.9h0M509.9 174.8h0M557.0 156.1h0M492.3 138.4h0M471.7 113.5h0M492.2 134.7h0M475.4 169.2h0M517.8 144.0h0M494.8 167.9h0M474.0 185.1h0M473.5 176.2h0M474.2 138.2h0M484.3 113.6h0M477.2 168.7h0M482.8 104.0h0M473.0 150.6h0M499.1 113.8h0M533.3 168.3h0M484.6 156.3h0M489.2 116.1h0M481.9 140.2h0M529.1 148.3h0M477.6 147.8h0M480.3 172.8h0M536.5 175.6h0M481.0 171.4h0M493.9 130.6h0M477.8 152.5h0M531.7 121.8h0M488.3 127.6h0M499.3 147.3h0M511.1 150.6h0M478.9 102.9h0M512.3 143.2h0M514.3 137.5h0M481.1 165.4h0M496.5 170.6h0M476.8 101.6h0M589.5 137.4h0M480.1 168.8h0M518.5 165.9h0M566.9 131.8h0M502.7 175.7h0M482.1 176.8h0M535.6 131.6h0M479.0 118.3h0M474.4 114.6h0M562.2 134.4h0M493.8 120.9h0M514.7 175.5h0M490.5 176.3h0M479.8 154.7h0M557.9 135.7h0M486.3 125.5h0M482.3 148.2h0M473.4 128.2h0M478.0 157.1h0M476.7 149.7h0M489.5 173.7h0M482.6 117.7h0M475.5 126.3h0M508.0 108.7h0M509.3 149.4h0M510.7 130.7h0M529.5 149.5h0M530.6 100.8h0M522.2 164.8h0M539.7 133.8h0M475.5 132.4h0M543.7 140.3h0M554.0 144.3h0M554.8 163.2h0M514.2 153.4h0M488.4 122.2h0M474.1 122.1h0M476.4 145.0h0M473.0 172.5h0M527.7 162.1h0M501.1 159.0h0M497.2 117.8h0M489.9 132.2h0M511.2 119.3h0M507.7 156.4h0M478.1 146.1h0M585.6 129.7h0M521.8 121.5h0M489.2 192.4h0M496.8 133.7h0M532.6 143.3h0M510.6 136.3h0M542.9 123.1h0M480.0 138.3h0M507.5 150.5h0M522.4 159.4h0M471.3 170.7h0M487.5 143.5h0M482.6 131.5h0M481.8 129.8h0M478.6 112.2h0M491.1 134.6h0M487.9 159.8h0M497.3 163.9h0M496.4 115.6h0M495.2 175.1h0M489.8 142.1h0M475.5 154.0h0M477.7 138.4h0M475.5 131.6h0M527.3 170.3h0M565.1 137.5h0M482.7 112.5h0M485.1 151.8h0M508.6 133.7h0M481.6 136.3h0M567.5 150.5h0M487.7 158.7h0M484.6 122.4h0M471.4 153.2h0M485.3 128.0h0M515.5 158.4h0M475.5 136.2h0M580.8 162.7h0M481.2 129.0h0M595.2 137.4h0M483.0 121.5h0M528.0 134.7h0M575.9 125.5h0M490.7 105.5h0M544.2 141.5h0M482.2 166.5h0M565.4 154.3h0M544.2 136.5h0M477.4 172.2h0M532.7 119.1h0M496.1 146.9h0M537.0 117.4h0M537.2 170.6h0M501.4 134.5h0M472.9 106.4h0M525.6 134.3h0M525.0 151.9h0M477.8 154.7h0M474.0 131.1h0M475.0 156.6h0M564.3 156.9h0M473.9 103.8h0M478.9 165.6h0M489.5 115.0h0M470.9 119.8h0M528.6 162.8h0M472.7 184.3h0M475.1 159.7h0M536.5 161.4h0M584.5 159.6h0M555.1 116.1h0M542.2 141.6h0M471.7 121.1h0M535.5 119.2h0M492.2 154.7h0M586.9 149.4h0M475.4 107.1h0M476.3 161.2h0M473.9 132.0h0M493.9 121.5h0M479.9 131.9h0M483.6 118.0h0M539.7 130.8h0M508.8 190.1h0M494.2 110.0h0M512.8 139.5h0M557.9 152.9h0M474.1 154.2h0M557.4 158.2h0M480.7 138.2h0M510.5 141.0h0M491.0 118.6h0M485.5 106.3h0M482.9 166.9h0M539.0 162.2h0M479.9 165.6h0M563.1 127.3h0M548.1 156.2h0M529.0 115.7h0M523.1 112.0h0M494.7 178.3h0M502.7 160.0h0M481.9 170.4h0M538.0 141.3h0M482.1 115.4h0M472.9 189.1h0M490.8 108.3h0M491.4 104.6h0M514.1 170.0h0M546.2 136.1h0M486.4 108.6h0M472.7 144.9h0M472.7 117.5h0M487.5 136.2h0M566.8 157.6h0M560.5 160.9h0M481.1 105.6h0M483.7 145.8h0M492.5 188.4h0M488.4 133.9h0M470.3 183.9h0M520.9 144.3h0M482.7 152.3h0M574.9 137.6h0M470.4 149.5h0M562.7 134.8h0M490.5 103.5h0M508.1 183.9h0M475.6 147.1h0M496.2 185.2h0M472.3 136.9h0M472.3 147.9h0M497.7 177.1h0M552.9 162.5h0M527.3 146.6h0M504.1 140.6h0M487.5 124.7h0M511.0 130.2h0M476.9 166.7h0M552.9 173.9h0M533.5 178.2h0M476.6 170.4h0M476.0 125.8h0M485.5 169.7h0M497.7 106.8h0M519.2 143.9h0M475.7 137.1h0M491.2 129.1h0M499.6 160.9h0M476.5 106.0h0M534.0 161.7h0M495.9 146.6h0M514.8 120.4h0M545.8 166.5h0M495.0 127.2h0M504.6 140.4h0M538.8 141.9h0M484.8 111.5h0M559.2 155.2h0M494.6 139.3h0M490.5 183.8h0M486.5 127.7h0M546.9 121.1h0M490.6 139.1h0M546.3 177.2h0M527.4 161.6h0M530.6 177.2h0M552.4 146.1h0M487.5 114.7h0M478.1 166.7h0M504.0 151.1h0M475.1 142.8h0M493.5 166.4h0M513.2 165.0h0M535.9 171.2h0M481.3 127.8h0M551.7 134.6h0M474.3 139.8h0M505.8 138.8h0M553.8 153.7h0M503.8 190.2h0M511.6 112.0h0M480.8 124.6h0M505.6 139.9h0M483.7 128.8h0M534.7 145.7h0M541.3 171.7h0M477.6 153.0h0M516.2 144.9h0M521.4 189.2h0M527.4 120.1h0M489.5 165.7h0M481.9 134.0h0M477.3 141.4h0M470.6 107.8h0M476.0 120.0h0M482.8 141.4h0M470.5 118.8h0M479.4 145.5h0M476.8 157.0h0M509.2 151.3h0M473.5 150.1h0M563.6 146.4h0M479.4 165.3h0M486.5 142.2h0M479.9 143.4h0M470.9 161.4h0M488.0 125.7h0M528.9 121.4h0M556.9 93.2h0M486.4 167.8h0M503.7 173.2h0M525.1 131.8h0M575.6 157.3h0M478.1 134.4h0M476.3 163.5h0M528.7 179.5h0M584.5 159.1h0M495.2 117.9h0M484.8 135.0h0M548.2 144.8h0M538.0 147.8h0M490.8 112.9h0M498.4 148.4h0M510.2 194.3h0M526.2 121.2h0M470.4 172.3h0M473.6 135.9h0M534.3 157.8h0M529.3 173.2h0M491.7 117.6h0M476.7 152.7h0M494.1 153.1h0M471.1 154.6h0M522.3 127.2h0M535.2 170.9h0M481.8 165.8h0M518.2 109.1h0M540.2 160.7h0M488.0 155.8h0M507.3 144.3h0M471.1 133.3h0M483.7 149.9h0M492.5 112.1h0M489.8 164.9h0M493.2 160.3h0M478.4 151.8h0M486.9 157.2h0M507.8 129.7h0M552.8 141.3h0M516.2 136.4h0M485.4 120.0h0M567.7 156.5h0M525.4 130.1h0M534.5 127.9h0M515.4 170.7h0M530.9 157.8h0M495.0 159.8h0M482.1 165.5h0M474.2 127.4h0M479.9 149.9h0M510.4 137.9h0M477.3 115.4h0M505.8 151.9h0M486.3 135.4h0M476.7 141.1h0M501.8 150.9h0M510.1 107.1h0M511.0 119.0h0M490.8 140.6h0M472.7 114.9h0M482.5 122.3h0M523.9 117.4h0M497.2 120.8h0M492.3 136.9h0M522.2 181.3h0M473.4 128.8h0M491.8 137.7h0M495.6 185.6h0M491.3 126.2h0M575.3 143.6h0M471.2 104.5h0M587.0 112.0h0M539.1 161.6h0M503.8 146.5h0M544.2 138.7h0M526.0 177.4h0M473.5 96.3h0M498.7 130.0h0M492.8 124.3h0M497.4 113.0h0M489.3 185.2h0M492.9 146.5h0M476.1 130.6h0M538.4 133.9h0M472.4 127.3h0M478.9 116.7h0M513.9 128.0h0M490.7 108.1h0M517.1 137.4h0M526.4 167.1h0M503.4 147.6h0M513.0 165.9h0M513.1 162.7h0M480.7 160.3h0M507.4 99.1h0M476.1 182.8h0M523.1 145.0h0M513.0 137.6h0M499.8 129.0h0M495.4 189.8h0M511.6 115.0h0M483.7 127.8h0M545.1 152.6h0M571.4 159.4h0M490.7 130.9h0M517.1 139.9h0M498.8 172.2h0M481.2 170.0h0M514.3 136.0h0M503.7 160.1h0M541.7 148.2h0M483.0 145.8h0M518.3 162.7h0M509.2 139.7h0M511.3 165.5h0M490.2 189.5h0M523.9 128.1h0M507.3 181.2h0M523.3 183.9h0M554.5 123.0h0M514.0 148.4h0M540.0 123.1h0M492.0 123.9h0M485.3 106.2h0M497.9 187.4h0M471.3 162.2h0M470.3 154.0h0M491.4 161.5h0M489.9 112.1h0M501.6 162.2h0M477.5 121.2h0M594.5 157.2h0M506.6 169.6h0M532.2 135.7h0M487.8 129.4h0M498.7 144.1h0M472.3 162.6h0M524.2 181.5h0M493.9 121.6h0M485.7 130.9h0M489.8 148.8h0M578.6 148.2h0M523.6 156.3h0M487.6 129.8h0M482.0 139.4h0M492.8 114.9h0M539.8 118.5h0M487.1 124.5h0M544.5 155.3h0M474.3 120.4h0M474.6 109.1h0M490.4 137.3h0M473.9 106.4h0M526.7 136.1h0M517.0 165.0h0M530.2 153.1h0M543.0 169.1h0M482.5 131.5h0M501.7 157.7h0M487.9 147.4h0M591.2 135.5h0M476.2 133.8h0M481.8 112.2h0M475.5 184.4h0M555.9 116.2h0M501.0 190.0h0M490.3 157.1h0M486.1 112.7h0M485.4 162.7h0M482.9 116.1h0M482.8 180.1h0M547.2 139.1h0M474.2 113.2h0M511.8 116.4h0M513.8 143.7h0M475.6 140.1h0M480.3 172.3h0M515.1 145.4h0M485.2 119.1h0M506.4 117.6h0M512.4 160.1h0M490.4 137.2h0M507.5 163.8h0M490.2 150.0h0M522.8 114.0h0M492.9 137.3h0M514.0 129.2h0M539.3 138.5h0M486.0 131.4h0M500.8 137.3h0M485.4 113.7h0M482.1 120.9h0M504.2 109.6h0M585.4 156.9h0M476.2 139.2h0M512.8 189.0h0M481.5 144.7h0M561.4 136.2h0M482.8 186.8h0M544.9 123.5h0M539.9 130.3h0M475.0 101.6h0M472.5 142.0h0M477.7 99.1h0M510.9 129.0h0M474.4 146.5h0M516.7 154.1h0M560.4 129.4h0M497.4 153.4h0M536.8 160.9h0M560.0 174.3h0M591.7 135.3h0M501.2 159.6h0M591.7 157.2h0M474.3 190.1h0M496.0 141.2h0M533.0 138.3h0M491.4 123.0h0M479.8 158.3h0M472.2 119.8h0M485.1 140.8h0M561.0 172.2h0M470.3 162.7h0M496.0 169.0h0M482.7 169.6h0M477.1 147.4h0M499.5 125.3h0M516.3 158.6h0M502.1 119.4h0M540.5 135.5h0M480.4 116.6h0M479.4 156.5h0M479.5 118.5h0M579.5 130.6h0M501.8 143.6h0M489.4 141.5h0M542.9 145.7h0M479.1 150.4h0M502.3 143.9h0M482.6 105.4h0M526.2 126.1h0M540.8 173.2h0M501.4 179.1h0M543.4 169.7h0M505.4 128.0h0M477.0 111.7h0M500.6 140.5h0M561.8 150.9h0M474.5 162.6h0M483.8 160.3h0M545.1 135.7h0M497.5 103.0h0M570.7 114.1h0M490.6 132.5h0M480.4 94.2h0M484.0 113.0h0M528.3 136.3h0M522.0 163.7h0M488.1 159.3h0M523.2 122.2h0M495.3 135.2h0M498.6 152.0h0M525.1 138.0h0M478.8 104.5h0M499.7 168.1h0M480.9 152.3h0M509.8 142.8h0M508.0 160.4h0M539.0 132.3h0M474.7 170.7h0M564.7 150.4h0M507.7 162.6h0M470.8 126.5h0M497.0 147.1h0M486.1 132.9h0M493.1 137.0h0M480.8 164.2h0M518.3 183.9h0M482.4 118.0h0M486.9 112.8h0M471.5 140.1h0M482.0 149.0h0M497.3 156.6h0M481.8 169.5h0M519.3 152.5h0M471.1 173.8h0M475.6 198.1h0M559.5 139.0h0M483.0 115.0h0M484.7 129.9h0M478.4 140.6h0M529.3 117.8h0M473.7 157.0h0M535.8 157.2h0M486.9 132.3h0M519.0 115.3h0M494.2 118.3h0M558.8 163.5h0M522.5 130.2h0M485.1 138.6h0M472.2 123.6h0M473.9 178.4h0M515.6 148.2h0M513.8 151.5h0M481.7 100.2h0M475.5 164.9h0M495.1 108.6h0M470.9 160.3h0M519.4 113.5h0M541.8 136.0h0M532.8 161.5h0M494.4 135.0h0M474.7 156.6h0M475.9 136.5h0M545.5 149.3h0M472.2 136.9h0M569.3 145.0h0M478.5 151.9h0M500.3 179.3h0M489.3 106.0h0M516.0 125.1h0M508.7 129.0h0M487.7 109.2h0M500.2 157.8h0M485.2 193.1h0M565.0 172.4h0M475.2 171.9h0M540.8 153.5h0M531.8 128.3h0M484.8 106.2h0M501.2 152.6h0M477.8 169.6h0M487.1 169.4h0M485.4 148.2h0M484.0 108.8h0M522.6 164.8h0M473.1 125.8h0M479.4 104.0h0M581.7 139.2h0M470.7 122.0h0M488.3 159.1h0M473.8 147.6h0M491.2 132.4h0M490.1 121.0h0M492.0 165.9h0M531.1 120.7h0M482.1 120.2h0M498.4 153.9h0M500.5 150.3h0M511.7 141.9h0M477.3 158.2h0M477.8 152.1h0M492.5 126.5h0M575.3 160.3h0M507.4 140.9h0M509.3 154.3h0M478.0 165.8h0M474.2 132.6h0M529.4 184.1h0M480.5 148.7h0M490.1 126.3h0M476.9 150.4h0M484.9 159.7h0M522.9 134.5h0M496.4 129.7h0M489.5 196.0h0M495.7 187.8h0M486.0 118.1h0M514.8 186.2h0M482.8 149.8h0M500.4 113.2h0M509.7 186.7h0M498.7 158.7h0M508.4 179.6h0M482.7 154.6h0M470.8 136.3h0M500.6 160.3h0M491.4 168.4h0M517.7 138.3h0M515.9 180.5h0M476.6 186.8h0M506.2 164.7h0M482.5 141.4h0M492.1 110.9h0M509.0 115.5h0M527.2 120.1h0M473.4 195.3h0M500.9 128.3h0M542.1 157.0h0M485.0 146.4h0M474.0 103.4h0M473.8 161.4h0M571.3 127.7h0M494.7 136.9h0M485.2 147.5h0M480.0 165.8h0M482.9 99.6h0M471.0 139.9h0M552.0 128.1h0M483.2 142.1h0M528.4 110.8h0M484.2 154.3h0M521.3 128.6h0M483.0 179.9h0M500.5 132.3h0M474.6 96.2h0M493.0 155.4h0M533.5 163.2h0M525.4 144.4h0M567.5 153.3h0M506.8 144.3h0M479.3 106.3h0M490.5 110.7h0M478.2 119.7h0M505.7 154.1h0M484.1 136.3h0M565.7 129.7h0M510.0 130.1h0M480.1 116.1h0M473.3 175.9h0M476.8 112.3h0M477.7 171.3h0M513.3 143.6h0M492.9 116.0h0M480.5 161.7h0M500.6 161.1h0M488.2 143.4h0M580.8 159.8h0M521.5 147.3h0M582.1 152.2h0M517.2 136.7h0M564.5 156.0h0M483.8 148.1h0M523.0 187.7h0M490.6 143.5h0M476.1 146.7h0M475.0 153.8h0M504.2 147.1h0M483.8 106.6h0M503.1 115.8h0M473.0 190.0h0M498.8 154.0h0M471.8 102.4h0M516.4 122.1h0M475.2 154.5h0M480.3 156.8h0M492.3 129.7h0M481.0 162.9h0M508.2 143.2h0M506.4 129.9h0M528.8 139.6h0M478.5 162.6h0M500.2 156.6h0M513.7 163.2h0M509.5 162.8h0M505.3 126.3h0M523.1 176.4h0M532.9 159.7h0M493.2 163.9h0M543.7 160.6h0M489.8 158.3h0M478.8 113.8h0M488.9 101.4h0M570.7 115.9h0M520.8 148.1h0M503.4 183.5h0M512.2 170.8h0M549.8 165.9h0M481.4 192.1h0M490.8 121.1h0M478.0 176.1h0M477.9 143.6h0M479.4 125.2h0M515.6 135.3h0M492.5 176.1h0M486.7 160.4h0M478.8 112.5h0M471.0 163.5h0M536.6 162.0h0M516.8 134.7h0M476.5 169.6h0M535.8 135.9h0M484.5 131.6h0M474.3 105.5h0M485.0 121.6h0M484.1 181.0h0M513.4 155.3h0M492.8 162.0h0M497.7 159.9h0M525.6 147.7h0M482.4 165.4h0M497.9 108.5h0M490.2 184.1h0M492.3 137.1h0M596.7 144.0h0M534.8 188.1h0M510.7 183.4h0M510.1 121.7h0M474.4 159.0h0M477.8 155.8h0M597.4 167.0h0M560.5 158.9h0M547.2 142.1h0M485.8 159.0h0M540.4 119.1h0M479.6 106.1h0M503.7 146.0h0M477.8 180.6h0M528.4 158.2h0M514.4 132.1h0M507.6 134.9h0M485.5 116.3h0M521.6 122.4h0M493.4 116.7h0M487.3 139.8h0M479.4 110.9h0M500.8 145.9h0M474.1 103.6h0M475.2 140.2h0M489.0 166.5h0M506.9 160.0h0M482.6 140.7h0M492.5 176.7h0M554.2 141.6h0M538.0 140.2h0M511.1 148.9h0M551.6 126.8h0M495.1 143.4h0M509.3 126.2h0M501.2 108.7h0M484.6 171.5h0M546.3 168.7h0M471.2 123.7h0M511.0 120.4h0M576.6 161.1h0M476.0 124.3h0M495.3 126.8h0M518.7 141.5h0M529.2 173.6h0M576.3 118.0h0M514.8 120.2h0M580.4 154.7h0M584.0 152.2h0M472.3 170.1h0M495.6 129.3h0M577.7 129.4h0M486.5 184.6h0M505.4 172.0h0M492.0 144.9h0M531.0 124.4h0M481.5 151.6h0M481.6 159.1h0M491.7 114.3h0M502.6 134.2h0M526.4 169.5h0M479.0 130.2h0M477.8 165.0h0M536.4 119.8h0M497.7 166.6h0M472.3 114.6h0M502.6 119.5h0M521.1 163.8h0M491.2 118.3h0M529.6 171.4h0M471.2 179.8h0M481.2 146.1h0M546.7 164.8h0M497.5 141.4h0M586.6 140.7h0M471.2 123.8h0M476.5 124.7h0M492.1 109.1h0M472.5 134.0h0M514.3 163.9h0M480.3 169.6h0M511.0 137.9h0M473.4 114.6h0M493.6 145.6h0M526.3 139.3h0M481.7 138.7h0M491.5 163.0h0M491.3 137.8h0M485.9 119.1h0M486.0 119.6h0M518.1 170.2h0M484.1 167.4h0M481.0 133.3h0M475.6 107.7h0M480.2 160.7h0M512.6 153.9h0M481.3 148.4h0M518.7 163.5h0M474.9 142.5h0M480.8 122.7h0M474.7 168.8h0M498.2 178.2h0M479.7 195.1h0M501.6 112.8h0M491.8 122.7h0M482.0 122.4h0M508.6 145.8h0M484.3 133.3h0M501.0 137.6h0M529.6 158.0h0M557.4 147.1h0M474.0 104.9h0M509.9 161.4h0M487.7 138.8h0M495.7 154.5h0M483.7 167.4h0M539.0 161.5h0M480.7 157.0h0M514.7 142.8h0M518.5 183.4h0M550.9 178.7h0M470.9 93.2h0M472.6 119.2h0M560.7 185.3h0M472.3 175.7h0M506.3 126.7h0M489.0 169.6h0M484.5 176.8h0M519.6 162.9h0M512.5 156.2h0M504.9 187.9h0M491.0 156.2h0M473.7 109.7h0M471.6 104.0h0M474.0 142.2h0M490.3 127.9h0M490.6 121.2h0M470.3 169.7h0M504.5 168.6h0M474.9 172.5h0M583.2 131.8h0M484.6 100.1h0M471.7 93.7h0M514.5 132.0h0M514.4 148.6h0M505.4 154.5h0M472.7 121.1h0M502.7 123.6h0M476.3 178.2h0M497.7 138.0h0M554.8 133.4h0M490.3 129.4h0M542.3 122.1h0M481.3 141.3h0M571.4 126.7h0M495.4 186.2h0M486.5 110.3h0M487.9 154.0h0M502.5 178.0h0M480.4 147.6h0M538.9 173.7h0M522.5 125.9h0M510.9 121.0h0M494.3 165.2h0M528.1 166.6h0M508.5 124.7h0M506.4 111.0h0M478.3 139.6h0M562.0 124.6h0M487.9 162.2h0M486.6 134.5h0M498.9 143.1h0M487.9 123.3h0M493.7 169.5h0M479.5 141.2h0M571.6 171.3h0M547.9 116.3h0M506.2 127.5h0M495.2 192.2h0M522.8 120.8h0M506.5 159.4h0M518.7 163.4h0M471.0 190.1h0M574.4 134.6h0M488.7 112.1h0M497.6 167.4h0M514.2 132.2h0M516.7 170.2h0M503.5 111.0h0M530.4 135.9h0M491.9 181.5h0M498.3 188.8h0M516.1 150.9h0M549.5 164.0h0M514.3 147.8h0M515.4 186.4h0M496.7 190.2h0M502.7 165.8h0M508.6 172.1h0M587.9 161.0h0M512.7 169.5h0M482.1 113.5h0M473.8 129.0h0M484.1 129.7h0M535.5 113.8h0M503.6 168.5h0M497.1 156.8h0M513.5 117.5h0M540.8 163.4h0M563.7 149.8h0M476.2 122.4h0M489.0 165.6h0M544.5 143.4h0M478.9 176.6h0M492.5 158.7h0M501.2 166.7h0M505.1 123.3h0M496.3 124.9h0M474.0 139.1h0M480.1 114.0h0M473.7 120.8h0M516.6 152.8h0M527.6 156.2h0M526.9 123.4h0M483.2 165.4h0M481.1 147.0h0M492.6 132.6h0M479.2 125.0h0M567.6 126.8h0M497.0 141.3h0M540.9 137.4h0M485.4 121.7h0M553.9 176.7h0M522.1 126.5h0M487.0 171.4h0M495.6 142.6h0M508.9 175.5h0M471.6 105.4h0M532.8 155.5h0M471.2 173.4h0M501.4 122.7h0M517.4 171.7h0M482.7 106.3h0M492.7 129.2h0M490.7 157.1h0M480.3 152.5h0M500.4 178.6h0M483.6 131.4h0M473.6 158.1h0M474.1 148.3h0M487.5 158.4h0M474.4 137.1h0M490.6 115.1h0M478.1 121.9h0M475.8 168.2h0M475.9 99.0h0M484.2 127.5h0M481.5 111.0h0M494.4 179.5h0M478.1 100.6h0M495.2 122.6h0M545.1 143.0h0M481.4 142.9h0M554.4 156.1h0M486.8 136.5h0M530.9 184.9h0M499.0 98.3h0M539.7 132.9h0M476.9 111.8h0M525.4 138.2h0M492.3 117.6h0M552.4 157.8h0M533.9 125.5h0M525.6 126.2h0M549.8 147.9h0M543.5 116.9h0M491.2 123.3h0M554.7 151.6h0M496.6 116.6h0M521.5 141.7h0M492.6 103.5h0M543.6 150.4h0M479.2 124.9h0M470.4 125.3h0M528.3 166.0h0M559.4 148.2h0M480.0 165.8h0M492.4 152.0h0M532.1 109.4h0M526.4 139.8h0M529.0 137.4h0M484.2 145.6h0M483.6 176.4h0M536.8 131.2h0M483.7 136.2h0M481.5 111.6h0M526.4 129.0h0M552.4 131.5h0M600.6 175.0h0M470.6 165.4h0M537.8 184.6h0M498.6 145.7h0M523.6 163.0h0M498.2 141.1h0M473.1 160.4h0M489.4 123.1h0M494.9 133.3h0M494.7 121.8h0M493.4 140.5h0M521.9 157.8h0M503.9 143.4h0M541.6 143.5h0M472.7 135.3h0M506.2 176.6h0M476.7 166.7h0M528.6 116.5h0M501.1 164.0h0M471.8 187.4h0M482.9 186.4h0M537.0 134.5h0M592.5 107.4h0M570.4 117.9h0M472.0 162.4h0M496.8 131.5h0M497.5 154.7h0M488.6 138.8h0M484.4 180.0h0M513.9 138.9h0M502.3 122.8h0M530.7 162.5h0M530.7 179.4h0M518.3 143.4h0M497.0 119.9h0M551.7 117.5h0M494.9 161.9h0M495.8 134.3h0M486.1 180.5h0M475.0 167.8h0M530.3 116.6h0M535.9 138.4h0M538.9 136.8h0M476.5 153.6h0M493.7 152.0h0M474.0 124.0h0M501.5 176.1h0M542.2 166.8h0M506.9 128.8h0M484.0 164.2h0M544.6 110.9h0M493.6 173.4h0M537.0 157.1h0M478.8 157.8h0M520.7 133.0h0M573.8 154.1h0M508.9 108.1h0M476.0 128.5h0M490.5 146.3h0M480.1 147.0h0M471.9 120.6h0M489.7 165.6h0M491.6 164.3h0M475.5 127.6h0M487.1 121.9h0M529.8 150.9h0M514.9 154.3h0M532.2 117.4h0M493.7 147.6h0M542.8 128.2h0M478.6 180.8h0M470.7 163.1h0M495.0 116.7h0M484.0 100.0h0M545.7 115.9h0M577.3 164.9h0M481.9 112.8h0M498.9 140.2h0M522.1 145.1h0M494.4 172.9h0M472.6 119.3h0M488.1 171.5h0M495.8 168.3h0M480.1 184.7h0M482.2 151.5h0M584.5 139.7h0M556.1 154.6h0M545.2 158.1h0M475.8 152.8h0M486.4 188.3h0M517.8 155.9h0M534.3 164.6h0M489.9 113.5h0M471.4 103.0h0M472.6 115.1h0M556.3 114.3h0M512.0 132.7h0M498.0 123.3h0M518.5 129.3h0M472.8 185.7h0M491.0 156.8h0M497.5 124.4h0M542.3 123.0h0M475.9 140.4h0M525.3 136.5h0M539.4 158.8h0M569.8 164.8h0M482.0 184.3h0M497.3 170.1h0M474.9 143.7h0M473.4 114.3h0M471.6 163.7h0M510.4 123.5h0M486.4 166.2h0M547.6 141.5h0M490.4 159.8h0M500.1 159.7h0M504.6 132.0h0M503.5 130.6h0M484.2 164.0h0M471.9 132.5h0M561.3 164.0h0M483.8 153.7h0M551.7 140.2h0M474.4 162.8h0M547.2 157.1h0M583.9 139.8h0M470.4 129.9h0M505.1 167.5h0M484.8 165.4h0M522.2 125.9h0M570.5 173.6h0M483.4 158.9h0M483.4 127.5h0M513.3 155.5h0M601.5 137.7h0M513.1 104.7h0M484.8 168.3h0M523.0 185.0h0M474.7 141.1h0M505.0 136.3h0M488.6 138.1h0M474.7 169.2h0M501.4 167.7h0M592.3 151.5h0M489.6 137.5h0M490.5 109.8h0M543.3 146.9h0M486.1 115.5h0M471.4 168.9h0M522.9 140.2h0M525.2 143.0h0M474.0 107.3h0M511.1 125.1h0M570.6 139.1h0M478.3 162.5h0M530.4 155.9h0M493.9 121.2h0M505.7 151.3h0M474.6 187.3h0M484.9 96.3h0M472.2 151.7h0M481.4 190.1h0M502.8 141.6h0M473.4 123.2h0M484.1 135.0h0M524.4 139.9h0M579.0 168.4h0M482.2 167.8h0M512.9 182.3h0M475.5 124.4h0M506.5 121.1h0M561.6 168.6h0M523.5 154.2h0M480.2 113.6h0M532.3 146.6h0M503.0 132.2h0M563.3 136.3h0M475.9 156.5h0M485.8 123.1h0M476.9 156.5h0M571.7 141.5h0M497.2 121.8h0M580.8 153.1h0M516.4 180.1h0M538.3 135.4h0M515.0 128.5h0M477.3 151.8h0M517.5 133.7h0M476.5 165.1h0M495.6 119.7h0M588.5 169.9h0M507.6 166.4h0M475.3 80.4h0M548.4 118.0h0M473.0 140.9h0M583.3 161.4h0M477.2 132.9h0M553.3 144.0h0M519.2 122.5h0M519.5 143.4h0M485.1 130.6h0M501.7 153.2h0M505.2 176.4h0M478.1 156.0h0M498.5 157.0h0M492.5 127.5h0M520.4 165.0h0M504.0 154.2h0M513.0 144.4h0M473.2 114.6h0M477.1 140.7h0M478.3 112.8h0M500.0 99.3h0M525.8 149.6h0M557.6 146.0h0M472.7 157.0h0M491.5 108.5h0M488.9 139.8h0M492.2 110.3h0M489.3 102.0h0M487.1 153.7h0M484.2 165.7h0M511.6 131.7h0M486.2 107.5h0M537.8 167.1h0M513.6 157.3h0M473.0 154.7h0M523.4 127.4h0M515.5 126.0h0M483.0 148.8h0M509.7 164.5h0M540.8 147.3h0M485.1 146.9h0M486.2 189.6h0M491.0 133.2h0M493.1 173.9h0M481.7 105.3h0M547.6 152.6h0M501.0 126.8h0M485.1 103.5h0M521.7 125.7h0M475.8 154.2h0M477.5 137.7h0M502.1 138.8h0M539.1 160.5h0M484.2 130.2h0M563.6 124.8h0M555.1 130.5h0M470.3 119.0h0M486.6 188.1h0M516.7 130.4h0M509.2 146.9h0M552.4 126.4h0M513.2 133.5h0M518.4 149.8h0M533.1 145.5h0M475.8 148.1h0M515.8 143.6h0M473.6 172.2h0M472.2 187.1h0M483.3 162.8h0M506.2 157.0h0M521.5 120.1h0M493.2 148.1h0M488.1 127.5h0M488.4 92.9h0M475.7 154.5h0M510.6 152.0h0M487.6 106.5h0M545.1 162.1h0M484.9 130.2h0M521.4 133.8h0M495.5 178.3h0M494.0 151.6h0M487.6 152.4h0M480.8 169.2h0M575.2 147.7h0M508.9 115.5h0M539.0 158.6h0M495.7 150.9h0M483.2 135.9h0M532.2 161.3h0M539.5 117.9h0M521.8 129.6h0M500.8 162.0h0M543.9 170.7h0M585.5 129.4h0M520.6 146.0h0M487.0 104.9h0M488.8 116.4h0M572.6 146.1h0M483.6 163.4h0M514.7 148.9h0M514.6 111.2h0M512.0 162.4h0M544.7 133.2h0M474.6 136.3h0M487.4 106.3h0M497.7 141.3h0M506.8 118.2h0M499.5 113.7h0M495.4 151.8h0M484.3 122.4h0M550.2 130.6h0M552.1 145.6h0M476.4 99.1h0M477.0 111.2h0M482.5 148.9h0M553.6 113.9h0M473.6 146.1h0M517.9 114.5h0M576.6 132.8h0M596.0 135.4h0M472.6 149.8h0M524.2 148.7h0M541.2 165.4h0M504.5 121.1h0M527.1 169.8h0M521.7 142.6h0M485.9 119.4h0M563.2 164.7h0M513.6 157.3h0M522.2 155.0h0M479.2 142.7h0M475.4 102.8h0M519.4 158.0h0M560.8 140.1h0M520.5 132.8h0M522.9 142.5h0M499.0 138.8h0M538.4 160.7h0M477.1 131.1h0M513.5 120.3h0M530.2 126.2h0M515.8 130.2h0M514.6 153.8h0M568.0 169.1h0M514.8 181.5h0M504.5 146.2h0M497.7 194.4h0M483.6 173.7h0M532.7 127.3h0M521.5 172.9h0M494.7 150.9h0M532.7 151.2h0M499.9 146.5h0M487.9 154.8h0M503.3 137.1h0M539.6 115.3h0M507.5 111.6h0M489.5 122.3h0M474.6 141.4h0M500.5 132.6h0M484.2 130.4h0M476.0 176.2h0M474.7 196.0h0M484.5 129.3h0M485.3 125.8h0M495.0 141.0h0M477.8 134.6h0M473.4 168.3h0M502.1 117.2h0M482.5 119.3h0M493.6 152.8h0M592.7 182.2h0M563.9 155.7h0M490.1 178.6h0M476.2 128.8h0M473.9 151.8h0M471.8 169.4h0M533.2 138.4h0M478.3 150.9h0M482.1 158.8h0M480.3 190.2h0M520.1 177.6h0M475.3 125.7h0M473.7 97.6h0M490.6 189.1h0M574.9 152.1h0M523.4 124.0h0M513.5 120.0h0M500.1 152.6h0M526.9 147.2h0M560.2 141.0h0M511.3 180.3h0M486.7 115.9h0M531.2 169.0h0M586.6 156.3h0M544.8 116.0h0M495.9 128.8h0M476.5 141.9h0M491.3 145.5h0M474.1 146.9h0M472.2 132.3h0M475.0 109.6h0M514.1 184.1h0M516.2 107.3h0M478.3 128.9h0M561.3 124.8h0M547.4 124.5h0M492.4 120.5h0M491.6 107.7h0M519.1 130.3h0M496.7 184.6h0M506.7 177.2h0M476.7 147.5h0M486.1 132.2h0M472.2 94.7h0M596.7 156.9h0M496.6 154.7h0M541.3 142.3h0M488.1 161.6h0M481.6 124.6h0M482.9 164.5h0M499.0 160.5h0M477.6 123.6h0M485.1 150.3h0M485.4 160.0h0M514.2 128.7h0M540.1 118.8h0M543.5 114.4h0M485.5 114.9h0M565.2 142.1h0M584.5 141.1h0M471.2 112.8h0M492.1 154.6h0M487.4 132.7h0M470.6 99.9h0M503.3 173.6h0M473.4 133.7h0M477.3 123.2h0M519.7 125.3h0M495.7 129.7h0M497.0 119.3h0M485.5 146.6h0M504.2 128.4h0M508.5 146.6h0M530.5 155.3h0M502.9 113.3h0M530.6 155.1h0M517.5 138.3h0M487.4 139.9h0M489.0 184.2h0M556.4 151.9h0M557.1 114.3h0M518.7 125.4h0M572.8 129.7h0M476.4 104.3h0M516.3 127.7h0M493.7 163.5h0M556.5 132.7h0M525.9 125.0h0M517.6 142.8h0M580.6 153.2h0M475.5 173.1h0M524.8 178.4h0M516.2 175.4h0M481.2 110.1h0M478.7 100.1h0M576.6 129.7h0M482.0 130.7h0M510.4 112.8h0M505.6 138.8h0M591.1 160.2h0M477.8 126.8h0M545.1 160.0h0M542.7 136.4h0M483.1 151.9h0M503.4 156.5h0M519.7 155.1h0M507.8 162.5h0M502.6 141.8h0M523.3 156.3h0M551.4 120.3h0M510.0 123.5h0M519.4 110.0h0M477.1 170.0h0M482.8 167.3h0M488.8 156.2h0M495.4 118.1h0M494.1 115.6h0M510.1 149.8h0M472.0 181.8h0M530.7 116.3h0M481.0 156.2h0M504.1 142.3h0M518.4 136.4h0M511.2 131.8h0M514.6 137.3h0M473.0 198.4h0M475.1 207.0h0M480.2 210.7h0M480.2 217.7h0M475.7 221.1h0M474.2 226.3h0M471.2 233.3h0M479.6 238.5h0M481.1 243.0h0M491.8 61.3h0M482.3 70.2h0M531.6 86.9h0M605.1 91.0h0M586.6 99.5h0M549.8 101.0h0M606.6 117.0h0M622.2 129.6h0" stroke="#de6552" stroke-width="4.50" stroke-linecap="round" fill="none"/>
<line x1="398.2" x2="683.0" y1="146.37" y2="146.37" stroke="#000" stroke-width="1.4"/>
<line x1="398.2" x2="683.0" y1="108.83" y2="108.83" stroke="#808080" stroke-width="1.4" stroke-dasharray="5.09 2.2"/>
<line x1="398.2" x2="683.0" y1="183.91" y2="183.91" stroke="#808080" stroke-width="1.4" stroke-dasharray="5.09 2.2"/>
</g>
<rect x="398.2" y="34.5" width="284.8" height="223.0" fill="none" stroke="#000" stroke-opacity="0.88" stroke-width="0.8"/>
<line x1="394.7" x2="398.2" y1="257.50" y2="257.50" stroke="#000" stroke-width="0.8"/>
<text x="391.3" y="262.9" font-size="14.60" text-anchor="end" textLength="8.1" lengthAdjust="spacingAndGlyphs">3</text>
<rect x="374.1" y="258.03" width="7.7" height="1.15" fill="#000"/>
<line x1="394.7" x2="398.2" y1="220.33" y2="220.33" stroke="#000" stroke-width="0.8"/>
<text x="391.3" y="225.7" font-size="14.60" text-anchor="end" textLength="8.1" lengthAdjust="spacingAndGlyphs">2</text>
<rect x="374.1" y="220.86" width="7.7" height="1.15" fill="#000"/>
<line x1="394.7" x2="398.2" y1="183.17" y2="183.17" stroke="#000" stroke-width="0.8"/>
<text x="391.3" y="188.6" font-size="14.60" text-anchor="end" textLength="8.1" lengthAdjust="spacingAndGlyphs">1</text>
<rect x="374.1" y="183.70" width="7.7" height="1.15" fill="#000"/>
<line x1="394.7" x2="398.2" y1="146.00" y2="146.00" stroke="#000" stroke-width="0.8"/>
<text x="391.3" y="151.4" font-size="14.60" text-anchor="end" textLength="8.1" lengthAdjust="spacingAndGlyphs">0</text>
<line x1="394.7" x2="398.2" y1="108.83" y2="108.83" stroke="#000" stroke-width="0.8"/>
<text x="391.3" y="114.2" font-size="14.60" text-anchor="end" textLength="8.1" lengthAdjust="spacingAndGlyphs">1</text>
<line x1="394.7" x2="398.2" y1="71.67" y2="71.67" stroke="#000" stroke-width="0.8"/>
<text x="391.3" y="77.1" font-size="14.60" text-anchor="end" textLength="8.1" lengthAdjust="spacingAndGlyphs">2</text>
<line x1="394.7" x2="398.2" y1="34.50" y2="34.50" stroke="#000" stroke-width="0.8"/>
<text x="391.3" y="39.9" font-size="14.60" text-anchor="end" textLength="8.1" lengthAdjust="spacingAndGlyphs">3</text>
<line x1="438.30" x2="438.30" y1="257.5" y2="261.0" stroke="#000" stroke-width="0.8"/>
<text x="438.2" y="273.5" font-size="14.60" text-anchor="middle" textLength="8.1" lengthAdjust="spacingAndGlyphs">2</text>
<line x1="498.10" x2="498.10" y1="257.5" y2="261.0" stroke="#000" stroke-width="0.8"/>
<text x="498.0" y="273.5" font-size="14.60" text-anchor="middle" textLength="8.1" lengthAdjust="spacingAndGlyphs">4</text>
<line x1="557.90" x2="557.90" y1="257.5" y2="261.0" stroke="#000" stroke-width="0.8"/>
<text x="557.8" y="273.5" font-size="14.60" text-anchor="middle" textLength="8.1" lengthAdjust="spacingAndGlyphs">6</text>
<line x1="617.70" x2="617.70" y1="257.5" y2="261.0" stroke="#000" stroke-width="0.8"/>
<text x="617.6" y="273.5" font-size="14.60" text-anchor="middle" textLength="8.1" lengthAdjust="spacingAndGlyphs">8</text>
<text x="540.6" y="29.8" font-size="10.30" text-anchor="middle" textLength="157.0" lengthAdjust="spacingAndGlyphs">MetCart METs vs Crouter METs</text>
<text x="497.3" y="289.4" font-size="11.40" textLength="82.2" lengthAdjust="spacingAndGlyphs">MetCart METs</text>
<text x="532.4" y="316.0" font-size="10.80" textLength="15.4" lengthAdjust="spacingAndGlyphs">(b)</text>
<text transform="translate(366.2 146.7) rotate(-90)" text-anchor="middle" font-size="9.4" textLength="147.8" lengthAdjust="spacingAndGlyphs">MetCart METs - Crouter METs</text>
<text x="322.0" y="118.0" font-size="8.80" text-anchor="end" textLength="40.7" lengthAdjust="spacingAndGlyphs">+1.96 SD</text>
<text x="322.0" y="128.3" font-size="8.80" text-anchor="end" textLength="18.2" lengthAdjust="spacingAndGlyphs">0.69</text>
<text x="322.0" y="140.3" font-size="8.80" text-anchor="end" textLength="23.8" lengthAdjust="spacingAndGlyphs">Mean</text>
<text x="322.0" y="150.3" font-size="8.80" text-anchor="end" textLength="18.2" lengthAdjust="spacingAndGlyphs">0.09</text>
<text x="322.0" y="162.0" font-size="8.80" text-anchor="end" textLength="36.5" lengthAdjust="spacingAndGlyphs">-1.96 SD</text>
<text x="322.0" y="172.5" font-size="8.80" text-anchor="end" textLength="15.3" lengthAdjust="spacingAndGlyphs">-0.5</text>
<text x="679.6" y="106.1" font-size="8.80" text-anchor="end" textLength="40.7" lengthAdjust="spacingAndGlyphs">+1.96 SD</text>
<text x="679.6" y="116.8" font-size="8.80" text-anchor="end" textLength="12.6" lengthAdjust="spacingAndGlyphs">1.0</text>
<text x="679.6" y="144.2" font-size="8.80" text-anchor="end" textLength="23.8" lengthAdjust="spacingAndGlyphs">Mean</text>
<text x="679.6" y="154.5" font-size="8.80" text-anchor="end" textLength="21.6" lengthAdjust="spacingAndGlyphs">-0.01</text>
<text x="679.6" y="181.6" font-size="8.80" text-anchor="end" textLength="36.5" lengthAdjust="spacingAndGlyphs">-1.96 SD</text>
<text x="679.6" y="191.9" font-size="8.80" text-anchor="end" textLength="21.6" lengthAdjust="spacingAndGlyphs">-1.02</text>
<rect x="44.6" y="39" width="78.1" height="52.1" rx="2" ry="2" fill="#fff" fill-opacity="0.8" stroke="#ccc" stroke-width="0.9"/>
<rect x="47.8" y="43.4" width="18" height="6.2" fill="#a6cee3"/>
<rect x="47.8" y="56.3" width="18" height="6.2" fill="#f7b79c"/>
<rect x="47.8" y="75.4" width="18" height="6.2" fill="#de6552"/>
<text x="72.6" y="49.1" font-size="9.00" textLength="43.8" lengthAdjust="spacingAndGlyphs">Sedentary</text>
<text x="72.6" y="62.1" font-size="9.00" textLength="21.0" lengthAdjust="spacingAndGlyphs">Light</text>
<text x="71.4" y="76.4" font-size="9.00" textLength="47.8" lengthAdjust="spacingAndGlyphs">Moderate /</text>
<text x="74.1" y="85.3" font-size="9.00" textLength="38.5" lengthAdjust="spacingAndGlyphs">Vigorous</text>
<rect x="402.2" y="39" width="78.1" height="52.1" rx="2" ry="2" fill="#fff" fill-opacity="0.8" stroke="#ccc" stroke-width="0.9"/>
<rect x="405.4" y="43.4" width="18" height="6.2" fill="#a6cee3"/>
<rect x="405.4" y="56.3" width="18" height="6.2" fill="#f7b79c"/>
<rect x="405.4" y="75.4" width="18" height="6.2" fill="#de6552"/>
<text x="430.2" y="49.1" font-size="9.00" textLength="43.8" lengthAdjust="spacingAndGlyphs">Sedentary</text>
<text x="430.2" y="62.1" font-size="9.00" textLength="21.0" lengthAdjust="spacingAndGlyphs">Light</text>
<text x="429.0" y="76.4" font-size="9.00" textLength="47.8" lengthAdjust="spacingAndGlyphs">Moderate /</text>
<text x="431.7" y="85.3" font-size="9.00" textLength="38.5" lengthAdjust="spacingAndGlyphs">Vigorous</text>
</g>
</svg>
</body></html>
